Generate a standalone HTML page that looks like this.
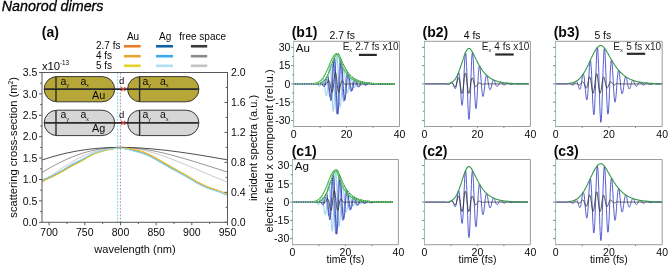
<!DOCTYPE html>
<html><head><meta charset="utf-8"><style>
html,body{margin:0;padding:0;background:#fff;}
svg{display:block;will-change:transform;filter:blur(0.3px);}
text{font-family:"Liberation Sans",sans-serif;}
</style></head><body>
<svg xmlns="http://www.w3.org/2000/svg" width="669" height="269" viewBox="0 0 669 269">
<rect width="669" height="269" fill="#fff"/>
<text x="1.80" y="11.20" font-size="14.3" text-anchor="start" font-style="italic" fill="#000" stroke="#000" stroke-width="0.3">Nanorod dimers</text>
<text x="41.80" y="37.30" font-size="14" text-anchor="start" font-weight="bold" fill="#0a0a0a" >(a)</text>
<text x="133.00" y="40.00" font-size="10" text-anchor="middle" fill="#0a0a0a" >Au</text>
<text x="165.20" y="40.00" font-size="10" text-anchor="middle" fill="#0a0a0a" >Ag</text>
<text x="202.70" y="40.00" font-size="10" text-anchor="middle" fill="#0a0a0a" >free space</text>
<text x="96.00" y="49.45" font-size="10" text-anchor="start" fill="#0a0a0a" >2.7 fs</text>
<line x1="123.90" y1="46.25" x2="140.60" y2="46.25" stroke="#ea7a26" stroke-width="2.6" />
<line x1="156.00" y1="46.25" x2="173.00" y2="46.25" stroke="#0e5fa5" stroke-width="2.6" />
<line x1="190.90" y1="46.25" x2="207.20" y2="46.25" stroke="#3a3a3a" stroke-width="2.6" />
<text x="96.00" y="59.40" font-size="10" text-anchor="start" fill="#0a0a0a" >4 fs</text>
<line x1="123.90" y1="56.20" x2="140.60" y2="56.20" stroke="#e8a431" stroke-width="2.6" />
<line x1="156.00" y1="56.20" x2="173.00" y2="56.20" stroke="#3aa9ee" stroke-width="2.6" />
<line x1="190.90" y1="56.20" x2="207.20" y2="56.20" stroke="#8a8a8a" stroke-width="2.6" />
<text x="96.00" y="69.00" font-size="10" text-anchor="start" fill="#0a0a0a" >5 fs</text>
<line x1="123.90" y1="65.80" x2="140.60" y2="65.80" stroke="#e4d22c" stroke-width="2.6" />
<line x1="156.00" y1="65.80" x2="173.00" y2="65.80" stroke="#aedff5" stroke-width="2.6" />
<line x1="190.90" y1="65.80" x2="207.20" y2="65.80" stroke="#c4c4c4" stroke-width="2.6" />
<text transform="translate(41.90,70.20) scale(1.1,1)" font-size="10.3" text-anchor="start" fill="#0a0a0a" >x10</text>
<text x="60.00" y="64.90" font-size="6.3" text-anchor="start" fill="#0a0a0a" >-13</text>
<path d="M42.0,182.6 43.0,181.9 44.0,181.2 45.0,180.4 46.0,179.7 47.0,178.9 48.0,178.2 49.0,177.5 50.0,176.7 51.0,176.0 52.0,175.3 53.0,174.5 54.0,173.8 55.0,173.1 56.0,172.4 57.0,171.7 58.0,171.0 59.0,170.3 60.0,169.6 61.0,168.9 62.0,168.2 63.0,167.6 64.0,166.9 65.0,166.3 66.0,165.6 67.0,165.0 68.0,164.4 69.0,163.7 70.0,163.1 71.0,162.5 72.0,161.9 73.0,161.3 74.0,160.8 75.0,160.2 76.0,159.7 77.0,159.1 78.0,158.6 79.0,158.1 80.0,157.6 81.0,157.1 82.0,156.6 83.0,156.1 84.0,155.6 85.0,155.2 86.0,154.8 87.0,154.3 88.0,153.9 89.0,153.5 90.0,153.1 91.0,152.8 92.0,152.4 93.0,152.0 94.0,151.7 95.0,151.4 96.0,151.1 97.0,150.8 98.0,150.5 99.0,150.2 100.0,150.0 101.0,149.7 102.0,149.5 103.0,149.2 104.0,149.0 105.0,148.8 106.0,148.7 107.0,148.5 108.0,148.3 109.0,148.2 110.0,148.1 111.0,147.9 112.0,147.8 113.0,147.7 114.0,147.6 115.0,147.6 116.0,147.5 117.0,147.5 118.0,147.4 119.0,147.4 120.0,147.4 121.0,147.4 122.0,147.4 123.0,147.4 124.0,147.5 125.0,147.5 126.0,147.6 127.0,147.6 128.0,147.7 129.0,147.8 130.0,147.9 131.0,148.0 132.0,148.1 133.0,148.3 134.0,148.4 135.0,148.5 136.0,148.7 137.0,148.9 138.0,149.0 139.0,149.2 140.0,149.4 141.0,149.6 142.0,149.8 143.0,150.1 144.0,150.3 145.0,150.5 146.0,150.8 147.0,151.0 148.0,151.3 149.0,151.5 150.0,151.8 151.0,152.1 152.0,152.4 153.0,152.7 154.0,153.0 155.0,153.3 156.0,153.6 157.0,153.9 158.0,154.2 159.0,154.5 160.0,154.9 161.0,155.2 162.0,155.5 163.0,155.9 164.0,156.2 165.0,156.6 166.0,157.0 167.0,157.3 168.0,157.7 169.0,158.1 170.0,158.4 171.0,158.8 172.0,159.2 173.0,159.6 174.0,160.0 175.0,160.4 176.0,160.8 177.0,161.2 178.0,161.6 179.0,162.0 180.0,162.4 181.0,162.8 182.0,163.2 183.0,163.6 184.0,164.0 185.0,164.4 186.0,164.9 187.0,165.3 188.0,165.7 189.0,166.1 190.0,166.5 191.0,167.0 192.0,167.4 193.0,167.8 194.0,168.2 195.0,168.7 196.0,169.1 197.0,169.5 198.0,169.9 199.0,170.4 200.0,170.8 201.0,171.2 202.0,171.6 203.0,172.1 204.0,172.5 205.0,172.9 206.0,173.3 207.0,173.8 208.0,174.2 209.0,174.6 210.0,175.0 211.0,175.4 212.0,175.9 213.0,176.3 214.0,176.7 215.0,177.1 216.0,177.5 217.0,177.9 218.0,178.3 219.0,178.8 220.0,179.2 221.0,179.6 222.0,180.0 223.0,180.4 224.0,180.8 225.0,181.2 226.0,181.6 227.0,182.0" fill="none" stroke="#c4c4c4" stroke-width="0.9" stroke-linejoin="round" />
<path d="M42.0,172.4 43.0,171.8 44.0,171.3 45.0,170.7 46.0,170.1 47.0,169.5 48.0,168.9 49.0,168.4 50.0,167.8 51.0,167.2 52.0,166.7 53.0,166.1 54.0,165.6 55.0,165.1 56.0,164.5 57.0,164.0 58.0,163.5 59.0,163.0 60.0,162.5 61.0,162.0 62.0,161.5 63.0,161.0 64.0,160.6 65.0,160.1 66.0,159.6 67.0,159.2 68.0,158.7 69.0,158.3 70.0,157.9 71.0,157.5 72.0,157.1 73.0,156.7 74.0,156.3 75.0,155.9 76.0,155.5 77.0,155.1 78.0,154.8 79.0,154.4 80.0,154.1 81.0,153.7 82.0,153.4 83.0,153.1 84.0,152.8 85.0,152.5 86.0,152.2 87.0,151.9 88.0,151.6 89.0,151.4 90.0,151.1 91.0,150.9 92.0,150.6 93.0,150.4 94.0,150.2 95.0,150.0 96.0,149.8 97.0,149.6 98.0,149.4 99.0,149.2 100.0,149.0 101.0,148.9 102.0,148.7 103.0,148.6 104.0,148.5 105.0,148.3 106.0,148.2 107.0,148.1 108.0,148.0 109.0,147.9 110.0,147.8 111.0,147.7 112.0,147.7 113.0,147.6 114.0,147.6 115.0,147.5 116.0,147.5 117.0,147.4 118.0,147.4 119.0,147.4 120.0,147.4 121.0,147.4 122.0,147.4 123.0,147.4 124.0,147.4 125.0,147.5 126.0,147.5 127.0,147.6 128.0,147.6 129.0,147.7 130.0,147.7 131.0,147.8 132.0,147.9 133.0,148.0 134.0,148.0 135.0,148.1 136.0,148.2 137.0,148.3 138.0,148.5 139.0,148.6 140.0,148.7 141.0,148.8 142.0,149.0 143.0,149.1 144.0,149.3 145.0,149.4 146.0,149.6 147.0,149.7 148.0,149.9 149.0,150.1 150.0,150.2 151.0,150.4 152.0,150.6 153.0,150.8 154.0,151.0 155.0,151.2 156.0,151.4 157.0,151.6 158.0,151.8 159.0,152.0 160.0,152.3 161.0,152.5 162.0,152.7 163.0,152.9 164.0,153.2 165.0,153.4 166.0,153.7 167.0,153.9 168.0,154.2 169.0,154.4 170.0,154.7 171.0,154.9 172.0,155.2 173.0,155.5 174.0,155.7 175.0,156.0 176.0,156.3 177.0,156.5 178.0,156.8 179.0,157.1 180.0,157.4 181.0,157.7 182.0,157.9 183.0,158.2 184.0,158.5 185.0,158.8 186.0,159.1 187.0,159.4 188.0,159.7 189.0,160.0 190.0,160.3 191.0,160.6 192.0,160.9 193.0,161.2 194.0,161.5 195.0,161.8 196.0,162.1 197.0,162.4 198.0,162.7 199.0,163.0 200.0,163.4 201.0,163.7 202.0,164.0 203.0,164.3 204.0,164.6 205.0,164.9 206.0,165.2 207.0,165.6 208.0,165.9 209.0,166.2 210.0,166.5 211.0,166.8 212.0,167.1 213.0,167.5 214.0,167.8 215.0,168.1 216.0,168.4 217.0,168.7 218.0,169.0 219.0,169.4 220.0,169.7 221.0,170.0 222.0,170.3 223.0,170.6 224.0,171.0 225.0,171.3 226.0,171.6 227.0,171.9" fill="none" stroke="#8a8a8a" stroke-width="0.9" stroke-linejoin="round" />
<path d="M42.0,160.1 43.0,159.7 44.0,159.4 45.0,159.1 46.0,158.8 47.0,158.4 48.0,158.1 49.0,157.8 50.0,157.5 51.0,157.2 52.0,156.9 53.0,156.6 54.0,156.3 55.0,156.0 56.0,155.8 57.0,155.5 58.0,155.2 59.0,155.0 60.0,154.7 61.0,154.4 62.0,154.2 63.0,154.0 64.0,153.7 65.0,153.5 66.0,153.2 67.0,153.0 68.0,152.8 69.0,152.6 70.0,152.4 71.0,152.2 72.0,152.0 73.0,151.8 74.0,151.6 75.0,151.4 76.0,151.2 77.0,151.0 78.0,150.9 79.0,150.7 80.0,150.5 81.0,150.4 82.0,150.2 83.0,150.1 84.0,149.9 85.0,149.8 86.0,149.6 87.0,149.5 88.0,149.4 89.0,149.2 90.0,149.1 91.0,149.0 92.0,148.9 93.0,148.8 94.0,148.7 95.0,148.6 96.0,148.5 97.0,148.4 98.0,148.3 99.0,148.2 100.0,148.2 101.0,148.1 102.0,148.0 103.0,147.9 104.0,147.9 105.0,147.8 106.0,147.8 107.0,147.7 108.0,147.7 109.0,147.6 110.0,147.6 111.0,147.6 112.0,147.5 113.0,147.5 114.0,147.5 115.0,147.5 116.0,147.4 117.0,147.4 118.0,147.4 119.0,147.4 120.0,147.4 121.0,147.4 122.0,147.4 123.0,147.4 124.0,147.4 125.0,147.4 126.0,147.5 127.0,147.5 128.0,147.5 129.0,147.5 130.0,147.5 131.0,147.6 132.0,147.6 133.0,147.7 134.0,147.7 135.0,147.7 136.0,147.8 137.0,147.8 138.0,147.9 139.0,147.9 140.0,148.0 141.0,148.1 142.0,148.1 143.0,148.2 144.0,148.3 145.0,148.3 146.0,148.4 147.0,148.5 148.0,148.5 149.0,148.6 150.0,148.7 151.0,148.8 152.0,148.9 153.0,149.0 154.0,149.1 155.0,149.2 156.0,149.3 157.0,149.4 158.0,149.5 159.0,149.6 160.0,149.7 161.0,149.8 162.0,149.9 163.0,150.0 164.0,150.1 165.0,150.2 166.0,150.3 167.0,150.4 168.0,150.6 169.0,150.7 170.0,150.8 171.0,150.9 172.0,151.1 173.0,151.2 174.0,151.3 175.0,151.4 176.0,151.6 177.0,151.7 178.0,151.8 179.0,152.0 180.0,152.1 181.0,152.3 182.0,152.4 183.0,152.5 184.0,152.7 185.0,152.8 186.0,153.0 187.0,153.1 188.0,153.3 189.0,153.4 190.0,153.6 191.0,153.7 192.0,153.9 193.0,154.0 194.0,154.2 195.0,154.3 196.0,154.5 197.0,154.7 198.0,154.8 199.0,155.0 200.0,155.1 201.0,155.3 202.0,155.5 203.0,155.6 204.0,155.8 205.0,156.0 206.0,156.1 207.0,156.3 208.0,156.5 209.0,156.6 210.0,156.8 211.0,157.0 212.0,157.1 213.0,157.3 214.0,157.5 215.0,157.7 216.0,157.8 217.0,158.0 218.0,158.2 219.0,158.4 220.0,158.5 221.0,158.7 222.0,158.9 223.0,159.1 224.0,159.2 225.0,159.4 226.0,159.6 227.0,159.8" fill="none" stroke="#3a3a3a" stroke-width="0.9" stroke-linejoin="round" />
<path d="M42.0,180.9 43.0,180.6 44.0,180.2 45.0,179.7 46.0,179.3 47.0,178.9 48.0,178.5 49.0,178.0 50.0,177.6 51.0,177.1 52.0,176.7 53.0,176.2 54.0,175.7 55.0,175.2 56.0,174.7 57.0,174.2 58.0,173.7 59.0,173.2 60.0,172.6 61.0,172.1 62.0,171.6 63.0,171.0 64.0,170.4 65.0,169.8 66.0,169.3 67.0,168.7 68.0,168.1 69.0,167.5 70.0,166.9 71.0,166.3 72.0,165.8 73.0,165.2 74.0,164.7 75.0,164.2 76.0,163.7 77.0,163.2 78.0,162.6 79.0,162.1 80.0,161.6 81.0,161.1 82.0,160.6 83.0,160.0 84.0,159.4 85.0,158.8 86.0,158.2 87.0,157.5 88.0,156.9 89.0,156.3 90.0,155.8 91.0,155.2 92.0,154.8 93.0,154.3 94.0,153.9 95.0,153.5 96.0,153.1 97.0,152.7 98.0,152.3 99.0,152.0 100.0,151.7 101.0,151.3 102.0,151.1 103.0,150.8 104.0,150.5 105.0,150.2 106.0,150.0 107.0,149.8 108.0,149.5 109.0,149.3 110.0,149.1 111.0,148.9 112.0,148.8 113.0,148.6 114.0,148.4 115.0,148.2 116.0,148.1 117.0,148.0 118.0,147.9 119.0,148.0 120.0,148.0 121.0,148.0 122.0,148.0 123.0,148.0 124.0,148.0 125.0,148.1 126.0,148.1 127.0,148.2 128.0,148.3 129.0,148.4 130.0,148.6 131.0,148.8 132.0,148.9 133.0,149.1 134.0,149.3 135.0,149.6 136.0,149.8 137.0,150.1 138.0,150.3 139.0,150.6 140.0,150.9 141.0,151.2 142.0,151.6 143.0,151.9 144.0,152.2 145.0,152.6 146.0,153.0 147.0,153.4 148.0,153.9 149.0,154.3 150.0,154.8 151.0,155.2 152.0,155.7 153.0,156.3 154.0,156.8 155.0,157.4 156.0,157.9 157.0,158.5 158.0,159.1 159.0,159.7 160.0,160.2 161.0,160.8 162.0,161.4 163.0,161.9 164.0,162.5 165.0,163.1 166.0,163.7 167.0,164.2 168.0,164.8 169.0,165.4 170.0,165.9 171.0,166.5 172.0,167.1 173.0,167.7 174.0,168.2 175.0,168.8 176.0,169.4 177.0,169.9 178.0,170.5 179.0,171.1 180.0,171.7 181.0,172.2 182.0,172.8 183.0,173.3 184.0,173.9 185.0,174.4 186.0,175.0 187.0,175.5 188.0,176.1 189.0,176.7 190.0,177.2 191.0,177.8 192.0,178.5 193.0,179.1 194.0,179.7 195.0,180.3 196.0,180.9 197.0,181.5 198.0,182.1 199.0,182.6 200.0,183.1 201.0,183.6 202.0,184.1 203.0,184.6 204.0,185.1 205.0,185.5 206.0,186.0 207.0,186.4 208.0,186.8 209.0,187.2 210.0,187.6 211.0,188.0 212.0,188.3 213.0,188.7 214.0,189.0 215.0,189.3 216.0,189.6 217.0,190.0 218.0,190.3 219.0,190.7 220.0,191.1 221.0,191.5 222.0,191.9 223.0,192.4 224.0,192.8 225.0,193.2 226.0,193.7 227.0,194.1" fill="none" stroke="#ea7a26" stroke-width="0.8" stroke-linejoin="round" />
<path d="M42.0,181.3 43.0,180.9 44.0,180.5 45.0,180.1 46.0,179.7 47.0,179.2 48.0,178.8 49.0,178.4 50.0,177.9 51.0,177.5 52.0,177.0 53.0,176.5 54.0,176.0 55.0,175.6 56.0,175.1 57.0,174.5 58.0,174.0 59.0,173.5 60.0,173.0 61.0,172.4 62.0,171.9 63.0,171.3 64.0,170.8 65.0,170.2 66.0,169.6 67.0,169.0 68.0,168.4 69.0,167.8 70.0,167.2 71.0,166.7 72.0,166.1 73.0,165.6 74.0,165.0 75.0,164.5 76.0,164.0 77.0,163.5 78.0,163.0 79.0,162.5 80.0,162.0 81.0,161.4 82.0,160.9 83.0,160.3 84.0,159.7 85.0,159.1 86.0,158.5 87.0,157.9 88.0,157.3 89.0,156.7 90.0,156.1 91.0,155.6 92.0,155.1 93.0,154.7 94.0,154.2 95.0,153.8 96.0,153.4 97.0,153.0 98.0,152.7 99.0,152.3 100.0,152.0 101.0,151.7 102.0,151.4 103.0,151.1 104.0,150.9 105.0,150.6 106.0,150.3 107.0,150.1 108.0,149.9 109.0,149.7 110.0,149.5 111.0,149.3 112.0,149.1 113.0,148.9 114.0,148.7 115.0,148.6 116.0,148.4 117.0,148.3 118.0,148.3 119.0,148.3 120.0,148.3 121.0,148.3 122.0,148.3 123.0,148.4 124.0,148.4 125.0,148.4 126.0,148.4 127.0,148.5 128.0,148.7 129.0,148.8 130.0,149.0 131.0,149.1 132.0,149.3 133.0,149.5 134.0,149.7 135.0,149.9 136.0,150.2 137.0,150.4 138.0,150.7 139.0,151.0 140.0,151.3 141.0,151.6 142.0,151.9 143.0,152.2 144.0,152.6 145.0,153.0 146.0,153.4 147.0,153.8 148.0,154.2 149.0,154.7 150.0,155.1 151.0,155.6 152.0,156.1 153.0,156.6 154.0,157.2 155.0,157.7 156.0,158.3 157.0,158.9 158.0,159.5 159.0,160.0 160.0,160.6 161.0,161.2 162.0,161.7 163.0,162.3 164.0,162.9 165.0,163.4 166.0,164.0 167.0,164.6 168.0,165.2 169.0,165.7 170.0,166.3 171.0,166.9 172.0,167.4 173.0,168.0 174.0,168.6 175.0,169.2 176.0,169.7 177.0,170.3 178.0,170.9 179.0,171.4 180.0,172.0 181.0,172.6 182.0,173.1 183.0,173.7 184.0,174.2 185.0,174.8 186.0,175.3 187.0,175.9 188.0,176.5 189.0,177.0 190.0,177.6 191.0,178.2 192.0,178.8 193.0,179.4 194.0,180.0 195.0,180.7 196.0,181.3 197.0,181.8 198.0,182.4 199.0,182.9 200.0,183.4 201.0,184.0 202.0,184.5 203.0,184.9 204.0,185.4 205.0,185.9 206.0,186.3 207.0,186.8 208.0,187.2 209.0,187.6 210.0,188.0 211.0,188.3 212.0,188.7 213.0,189.0 214.0,189.3 215.0,189.7 216.0,190.0 217.0,190.3 218.0,190.7 219.0,191.1 220.0,191.5 221.0,191.9 222.0,192.3 223.0,192.7 224.0,193.1 225.0,193.6 226.0,194.0 227.0,194.5" fill="none" stroke="#e8a431" stroke-width="0.8" stroke-linejoin="round" />
<path d="M42.0,180.2 43.0,179.8 44.0,179.4 45.0,179.0 46.0,178.6 47.0,178.1 48.0,177.7 49.0,177.2 50.0,176.8 51.0,176.3 52.0,175.8 53.0,175.4 54.0,174.9 55.0,174.4 56.0,173.9 57.0,173.4 58.0,172.9 59.0,172.4 60.0,171.8 61.0,171.3 62.0,170.8 63.0,170.2 64.0,169.6 65.0,169.0 66.0,168.3 67.0,167.7 68.0,167.1 69.0,166.4 70.0,165.8 71.0,165.2 72.0,164.7 73.0,164.1 74.0,163.6 75.0,163.1 76.0,162.7 77.0,162.2 78.0,161.7 79.0,161.2 80.0,160.7 81.0,160.3 82.0,159.8 83.0,159.2 84.0,158.7 85.0,158.1 86.0,157.5 87.0,156.9 88.0,156.3 89.0,155.8 90.0,155.2 91.0,154.8 92.0,154.3 93.0,153.9 94.0,153.5 95.0,153.1 96.0,152.7 97.0,152.3 98.0,152.0 99.0,151.7 100.0,151.4 101.0,151.1 102.0,150.8 103.0,150.6 104.0,150.3 105.0,150.1 106.0,149.9 107.0,149.6 108.0,149.4 109.0,149.3 110.0,149.1 111.0,148.9 112.0,148.8 113.0,148.7 114.0,148.5 115.0,148.4 116.0,148.3 117.0,148.2 118.0,148.2 119.0,148.2 120.0,148.2 121.0,148.3 122.0,148.4 123.0,148.5 124.0,148.6 125.0,148.7 126.0,148.8 127.0,149.0 128.0,149.2 129.0,149.4 130.0,149.7 131.0,149.9 132.0,150.2 133.0,150.4 134.0,150.7 135.0,150.9 136.0,151.2 137.0,151.4 138.0,151.7 139.0,152.0 140.0,152.3 141.0,152.6 142.0,152.9 143.0,153.3 144.0,153.6 145.0,154.0 146.0,154.4 147.0,154.9 148.0,155.3 149.0,155.7 150.0,156.2 151.0,156.7 152.0,157.2 153.0,157.7 154.0,158.3 155.0,158.8 156.0,159.4 157.0,160.0 158.0,160.6 159.0,161.2 160.0,161.8 161.0,162.3 162.0,162.9 163.0,163.5 164.0,164.0 165.0,164.6 166.0,165.2 167.0,165.8 168.0,166.3 169.0,166.9 170.0,167.5 171.0,168.0 172.0,168.6 173.0,169.1 174.0,169.7 175.0,170.2 176.0,170.8 177.0,171.3 178.0,171.8 179.0,172.4 180.0,172.9 181.0,173.5 182.0,174.1 183.0,174.6 184.0,175.2 185.0,175.7 186.0,176.3 187.0,176.8 188.0,177.4 189.0,178.0 190.0,178.6 191.0,179.1 192.0,179.8 193.0,180.4 194.0,181.0 195.0,181.6 196.0,182.2 197.0,182.8 198.0,183.3 199.0,183.9 200.0,184.4 201.0,184.9 202.0,185.4 203.0,185.8 204.0,186.3 205.0,186.8 206.0,187.2 207.0,187.6 208.0,188.0 209.0,188.4 210.0,188.8 211.0,189.1 212.0,189.4 213.0,189.7 214.0,190.0 215.0,190.3 216.0,190.6 217.0,191.0 218.0,191.3 219.0,191.7 220.0,192.1 221.0,192.4 222.0,192.9 223.0,193.3 224.0,193.7 225.0,194.2 226.0,194.6 227.0,195.1" fill="none" stroke="#0e5fa5" stroke-width="0.8" stroke-linejoin="round" />
<path d="M42.0,180.0 43.0,179.6 44.0,179.2 45.0,178.8 46.0,178.3 47.0,177.9 48.0,177.5 49.0,177.0 50.0,176.6 51.0,176.1 52.0,175.6 53.0,175.2 54.0,174.7 55.0,174.2 56.0,173.7 57.0,173.2 58.0,172.7 59.0,172.1 60.0,171.6 61.0,171.1 62.0,170.5 63.0,170.0 64.0,169.3 65.0,168.7 66.0,168.1 67.0,167.4 68.0,166.8 69.0,166.2 70.0,165.5 71.0,164.9 72.0,164.4 73.0,163.9 74.0,163.3 75.0,162.9 76.0,162.4 77.0,161.9 78.0,161.4 79.0,161.0 80.0,160.5 81.0,160.0 82.0,159.5 83.0,159.0 84.0,158.4 85.0,157.9 86.0,157.3 87.0,156.7 88.0,156.2 89.0,155.6 90.0,155.1 91.0,154.6 92.0,154.2 93.0,153.7 94.0,153.3 95.0,152.9 96.0,152.6 97.0,152.2 98.0,151.9 99.0,151.6 100.0,151.2 101.0,151.0 102.0,150.7 103.0,150.5 104.0,150.2 105.0,150.0 106.0,149.8 107.0,149.6 108.0,149.4 109.0,149.2 110.0,149.0 111.0,148.9 112.0,148.7 113.0,148.6 114.0,148.5 115.0,148.4 116.0,148.3 117.0,148.2 118.0,148.2 119.0,148.2 120.0,148.3 121.0,148.3 122.0,148.4 123.0,148.5 124.0,148.6 125.0,148.7 126.0,148.9 127.0,149.1 128.0,149.3 129.0,149.6 130.0,149.8 131.0,150.1 132.0,150.4 133.0,150.6 134.0,150.9 135.0,151.2 136.0,151.4 137.0,151.7 138.0,151.9 139.0,152.2 140.0,152.5 141.0,152.8 142.0,153.2 143.0,153.5 144.0,153.9 145.0,154.3 146.0,154.7 147.0,155.1 148.0,155.5 149.0,156.0 150.0,156.5 151.0,156.9 152.0,157.4 153.0,158.0 154.0,158.5 155.0,159.1 156.0,159.7 157.0,160.3 158.0,160.9 159.0,161.5 160.0,162.0 161.0,162.6 162.0,163.2 163.0,163.7 164.0,164.3 165.0,164.9 166.0,165.5 167.0,166.0 168.0,166.6 169.0,167.2 170.0,167.7 171.0,168.3 172.0,168.8 173.0,169.4 174.0,169.9 175.0,170.5 176.0,171.0 177.0,171.5 178.0,172.1 179.0,172.6 180.0,173.2 181.0,173.7 182.0,174.3 183.0,174.8 184.0,175.4 185.0,175.9 186.0,176.5 187.0,177.1 188.0,177.6 189.0,178.2 190.0,178.8 191.0,179.4 192.0,180.0 193.0,180.6 194.0,181.2 195.0,181.9 196.0,182.5 197.0,183.0 198.0,183.6 199.0,184.1 200.0,184.6 201.0,185.1 202.0,185.6 203.0,186.1 204.0,186.5 205.0,187.0 206.0,187.4 207.0,187.8 208.0,188.2 209.0,188.6 210.0,189.0 211.0,189.3 212.0,189.6 213.0,189.9 214.0,190.2 215.0,190.5 216.0,190.8 217.0,191.1 218.0,191.4 219.0,191.8 220.0,192.2 221.0,192.6 222.0,193.0 223.0,193.4 224.0,193.9 225.0,194.3 226.0,194.7 227.0,195.2" fill="none" stroke="#3aa9ee" stroke-width="0.8" stroke-linejoin="round" />
<path d="M42.0,181.2 43.0,180.8 44.0,180.4 45.0,180.0 46.0,179.6 47.0,179.1 48.0,178.7 49.0,178.3 50.0,177.8 51.0,177.4 52.0,176.9 53.0,176.4 54.0,175.9 55.0,175.5 56.0,175.0 57.0,174.4 58.0,173.9 59.0,173.4 60.0,172.9 61.0,172.3 62.0,171.8 63.0,171.2 64.0,170.7 65.0,170.1 66.0,169.5 67.0,168.9 68.0,168.3 69.0,167.7 70.0,167.1 71.0,166.6 72.0,166.0 73.0,165.5 74.0,164.9 75.0,164.4 76.0,163.9 77.0,163.4 78.0,162.9 79.0,162.4 80.0,161.9 81.0,161.3 82.0,160.8 83.0,160.2 84.0,159.6 85.0,159.0 86.0,158.4 87.0,157.8 88.0,157.2 89.0,156.6 90.0,156.0 91.0,155.5 92.0,155.0 93.0,154.6 94.0,154.1 95.0,153.7 96.0,153.3 97.0,152.9 98.0,152.6 99.0,152.2 100.0,151.9 101.0,151.6 102.0,151.3 103.0,151.0 104.0,150.8 105.0,150.5 106.0,150.2 107.0,150.0 108.0,149.8 109.0,149.6 110.0,149.4 111.0,149.2 112.0,149.0 113.0,148.8 114.0,148.6 115.0,148.5 116.0,148.3 117.0,148.2 118.0,148.2 119.0,148.2 120.0,148.2 121.0,148.2 122.0,148.2 123.0,148.3 124.0,148.3 125.0,148.3 126.0,148.3 127.0,148.4 128.0,148.6 129.0,148.7 130.0,148.9 131.0,149.0 132.0,149.2 133.0,149.4 134.0,149.6 135.0,149.8 136.0,150.1 137.0,150.3 138.0,150.6 139.0,150.9 140.0,151.2 141.0,151.5 142.0,151.8 143.0,152.1 144.0,152.5 145.0,152.9 146.0,153.3 147.0,153.7 148.0,154.1 149.0,154.6 150.0,155.0 151.0,155.5 152.0,156.0 153.0,156.5 154.0,157.1 155.0,157.6 156.0,158.2 157.0,158.8 158.0,159.4 159.0,159.9 160.0,160.5 161.0,161.1 162.0,161.6 163.0,162.2 164.0,162.8 165.0,163.3 166.0,163.9 167.0,164.5 168.0,165.1 169.0,165.6 170.0,166.2 171.0,166.8 172.0,167.3 173.0,167.9 174.0,168.5 175.0,169.1 176.0,169.6 177.0,170.2 178.0,170.8 179.0,171.3 180.0,171.9 181.0,172.5 182.0,173.0 183.0,173.6 184.0,174.1 185.0,174.7 186.0,175.2 187.0,175.8 188.0,176.4 189.0,176.9 190.0,177.5 191.0,178.1 192.0,178.7 193.0,179.3 194.0,179.9 195.0,180.6 196.0,181.2 197.0,181.7 198.0,182.3 199.0,182.8 200.0,183.3 201.0,183.9 202.0,184.4 203.0,184.8 204.0,185.3 205.0,185.8 206.0,186.2 207.0,186.7 208.0,187.1 209.0,187.5 210.0,187.9 211.0,188.2 212.0,188.6 213.0,188.9 214.0,189.2 215.0,189.6 216.0,189.9 217.0,190.2 218.0,190.6 219.0,191.0 220.0,191.4 221.0,191.8 222.0,192.2 223.0,192.6 224.0,193.0 225.0,193.5 226.0,193.9 227.0,194.4" fill="none" stroke="#e2d32a" stroke-width="1.0" stroke-linejoin="round" />
<path d="M42.0,179.8 43.0,179.4 44.0,179.0 45.0,178.6 46.0,178.1 47.0,177.7 48.0,177.2 49.0,176.8 50.0,176.3 51.0,175.9 52.0,175.4 53.0,174.9 54.0,174.4 55.0,174.0 56.0,173.5 57.0,173.0 58.0,172.4 59.0,171.9 60.0,171.4 61.0,170.9 62.0,170.3 63.0,169.7 64.0,169.1 65.0,168.5 66.0,167.8 67.0,167.2 68.0,166.5 69.0,165.9 70.0,165.3 71.0,164.7 72.0,164.1 73.0,163.6 74.0,163.1 75.0,162.6 76.0,162.1 77.0,161.7 78.0,161.2 79.0,160.7 80.0,160.3 81.0,159.8 82.0,159.3 83.0,158.8 84.0,158.2 85.0,157.7 86.0,157.1 87.0,156.5 88.0,156.0 89.0,155.4 90.0,154.9 91.0,154.4 92.0,154.0 93.0,153.6 94.0,153.2 95.0,152.8 96.0,152.4 97.0,152.1 98.0,151.8 99.0,151.4 100.0,151.1 101.0,150.9 102.0,150.6 103.0,150.4 104.0,150.1 105.0,149.9 106.0,149.7 107.0,149.5 108.0,149.3 109.0,149.1 110.0,149.0 111.0,148.8 112.0,148.7 113.0,148.6 114.0,148.5 115.0,148.4 116.0,148.3 117.0,148.2 118.0,148.2 119.0,148.2 120.0,148.3 121.0,148.3 122.0,148.4 123.0,148.5 124.0,148.7 125.0,148.8 126.0,149.0 127.0,149.2 128.0,149.4 129.0,149.7 130.0,150.0 131.0,150.3 132.0,150.6 133.0,150.9 134.0,151.1 135.0,151.4 136.0,151.6 137.0,151.9 138.0,152.2 139.0,152.5 140.0,152.8 141.0,153.1 142.0,153.4 143.0,153.7 144.0,154.1 145.0,154.5 146.0,154.9 147.0,155.4 148.0,155.8 149.0,156.3 150.0,156.7 151.0,157.2 152.0,157.7 153.0,158.2 154.0,158.8 155.0,159.4 156.0,159.9 157.0,160.5 158.0,161.1 159.0,161.7 160.0,162.3 161.0,162.9 162.0,163.4 163.0,164.0 164.0,164.6 165.0,165.2 166.0,165.7 167.0,166.3 168.0,166.9 169.0,167.4 170.0,168.0 171.0,168.6 172.0,169.1 173.0,169.6 174.0,170.2 175.0,170.7 176.0,171.2 177.0,171.8 178.0,172.3 179.0,172.9 180.0,173.4 181.0,173.9 182.0,174.5 183.0,175.1 184.0,175.6 185.0,176.2 186.0,176.7 187.0,177.3 188.0,177.9 189.0,178.4 190.0,179.0 191.0,179.6 192.0,180.2 193.0,180.8 194.0,181.5 195.0,182.1 196.0,182.7 197.0,183.3 198.0,183.8 199.0,184.3 200.0,184.8 201.0,185.3 202.0,185.8 203.0,186.3 204.0,186.7 205.0,187.2 206.0,187.6 207.0,188.0 208.0,188.4 209.0,188.8 210.0,189.2 211.0,189.5 212.0,189.8 213.0,190.1 214.0,190.4 215.0,190.6 216.0,190.9 217.0,191.3 218.0,191.6 219.0,192.0 220.0,192.3 221.0,192.7 222.0,193.1 223.0,193.6 224.0,194.0 225.0,194.4 226.0,194.9 227.0,195.4" fill="none" stroke="#a6daf2" stroke-width="1.0" stroke-linejoin="round" />
<line x1="117.60" y1="72.50" x2="117.60" y2="222.30" stroke="#5cc0dc" stroke-width="0.8" stroke-dasharray="1.95,1.35"/>
<line x1="120.40" y1="72.50" x2="120.40" y2="222.30" stroke="#8a8a8a" stroke-width="0.8" stroke-dasharray="1.95,1.35"/>
<rect x="44.20" y="76.60" width="70.50" height="25.20" rx="12.60" ry="12.60" fill="#b7a638" stroke="#3a3a3a" stroke-width="1"/>
<rect x="127.60" y="76.60" width="71.30" height="25.20" rx="12.60" ry="12.60" fill="#b7a638" stroke="#3a3a3a" stroke-width="1"/>
<line x1="44.20" y1="89.20" x2="198.70" y2="89.20" stroke="#2b2b2b" stroke-width="1.8" />
<line x1="56.00" y1="76.60" x2="56.00" y2="101.80" stroke="#2b2b2b" stroke-width="1.4" />
<line x1="139.60" y1="76.60" x2="139.60" y2="101.80" stroke="#2b2b2b" stroke-width="1.4" />
<text x="60.60" y="84.70" font-size="10.5" text-anchor="start" fill="#0a0a0a" >a</text>
<text x="66.40" y="86.90" font-size="5" text-anchor="start" fill="#0a0a0a" >y</text>
<text x="142.50" y="84.70" font-size="10.5" text-anchor="start" fill="#0a0a0a" >a</text>
<text x="148.30" y="86.90" font-size="5" text-anchor="start" fill="#0a0a0a" >y</text>
<text x="80.40" y="84.70" font-size="10.5" text-anchor="start" fill="#0a0a0a" >a</text>
<text x="86.20" y="86.90" font-size="5" text-anchor="start" fill="#0a0a0a" >x</text>
<text x="160.10" y="84.70" font-size="10.5" text-anchor="start" fill="#0a0a0a" >a</text>
<text x="165.90" y="86.90" font-size="5" text-anchor="start" fill="#0a0a0a" >x</text>
<text x="92.00" y="98.60" font-size="10.8" text-anchor="start" fill="#0a0a0a" >Au</text>
<text x="121.60" y="83.90" font-size="9.5" text-anchor="middle" fill="#0a0a0a" >d</text>
<line x1="121.20" y1="87.20" x2="125.20" y2="91.20" stroke="#e23b3b" stroke-width="1.1" />
<line x1="121.20" y1="91.20" x2="125.20" y2="87.20" stroke="#e23b3b" stroke-width="1.1" />
<rect x="44.20" y="110.20" width="70.50" height="25.40" rx="12.70" ry="12.70" fill="#d6d6d6" stroke="#3a3a3a" stroke-width="1"/>
<rect x="127.60" y="110.20" width="71.30" height="25.40" rx="12.70" ry="12.70" fill="#d6d6d6" stroke="#3a3a3a" stroke-width="1"/>
<line x1="44.20" y1="122.90" x2="198.70" y2="122.90" stroke="#2b2b2b" stroke-width="1.8" />
<line x1="56.00" y1="110.20" x2="56.00" y2="135.60" stroke="#2b2b2b" stroke-width="1.4" />
<line x1="139.60" y1="110.20" x2="139.60" y2="135.60" stroke="#2b2b2b" stroke-width="1.4" />
<text x="60.60" y="118.30" font-size="10.5" text-anchor="start" fill="#0a0a0a" >a</text>
<text x="66.40" y="120.50" font-size="5" text-anchor="start" fill="#0a0a0a" >y</text>
<text x="142.50" y="118.30" font-size="10.5" text-anchor="start" fill="#0a0a0a" >a</text>
<text x="148.30" y="120.50" font-size="5" text-anchor="start" fill="#0a0a0a" >y</text>
<text x="80.40" y="118.30" font-size="10.5" text-anchor="start" fill="#0a0a0a" >a</text>
<text x="86.20" y="120.50" font-size="5" text-anchor="start" fill="#0a0a0a" >x</text>
<text x="160.10" y="118.30" font-size="10.5" text-anchor="start" fill="#0a0a0a" >a</text>
<text x="165.90" y="120.50" font-size="5" text-anchor="start" fill="#0a0a0a" >x</text>
<text x="92.00" y="132.40" font-size="10.8" text-anchor="start" fill="#0a0a0a" >Ag</text>
<text x="121.60" y="117.50" font-size="9.5" text-anchor="middle" fill="#0a0a0a" >d</text>
<line x1="121.20" y1="120.90" x2="125.20" y2="124.90" stroke="#e23b3b" stroke-width="1.1" />
<line x1="121.20" y1="124.90" x2="125.20" y2="120.90" stroke="#e23b3b" stroke-width="1.1" />
<rect x="42.0" y="72.5" width="185.5" height="149.8" fill="none" stroke="#585858" stroke-width="1"/>
<line x1="39.00" y1="222.30" x2="42.00" y2="222.30" stroke="#585858" stroke-width="1" />
<text x="37.30" y="226.00" font-size="10.5" text-anchor="end" fill="#0a0a0a" >0.0</text>
<line x1="40.20" y1="211.60" x2="42.00" y2="211.60" stroke="#585858" stroke-width="1" />
<line x1="39.00" y1="200.90" x2="42.00" y2="200.90" stroke="#585858" stroke-width="1" />
<text x="37.30" y="204.60" font-size="10.5" text-anchor="end" fill="#0a0a0a" >0.5</text>
<line x1="40.20" y1="190.20" x2="42.00" y2="190.20" stroke="#585858" stroke-width="1" />
<line x1="39.00" y1="179.50" x2="42.00" y2="179.50" stroke="#585858" stroke-width="1" />
<text x="37.30" y="183.20" font-size="10.5" text-anchor="end" fill="#0a0a0a" >1.0</text>
<line x1="40.20" y1="168.80" x2="42.00" y2="168.80" stroke="#585858" stroke-width="1" />
<line x1="39.00" y1="158.10" x2="42.00" y2="158.10" stroke="#585858" stroke-width="1" />
<text x="37.30" y="161.80" font-size="10.5" text-anchor="end" fill="#0a0a0a" >1.5</text>
<line x1="40.20" y1="147.40" x2="42.00" y2="147.40" stroke="#585858" stroke-width="1" />
<line x1="39.00" y1="136.70" x2="42.00" y2="136.70" stroke="#585858" stroke-width="1" />
<text x="37.30" y="140.40" font-size="10.5" text-anchor="end" fill="#0a0a0a" >2.0</text>
<line x1="40.20" y1="126.00" x2="42.00" y2="126.00" stroke="#585858" stroke-width="1" />
<line x1="39.00" y1="115.30" x2="42.00" y2="115.30" stroke="#585858" stroke-width="1" />
<text x="37.30" y="119.00" font-size="10.5" text-anchor="end" fill="#0a0a0a" >2.5</text>
<line x1="40.20" y1="104.60" x2="42.00" y2="104.60" stroke="#585858" stroke-width="1" />
<line x1="39.00" y1="93.90" x2="42.00" y2="93.90" stroke="#585858" stroke-width="1" />
<text x="37.30" y="97.60" font-size="10.5" text-anchor="end" fill="#0a0a0a" >3.0</text>
<line x1="40.20" y1="83.20" x2="42.00" y2="83.20" stroke="#585858" stroke-width="1" />
<line x1="39.00" y1="72.50" x2="42.00" y2="72.50" stroke="#585858" stroke-width="1" />
<text x="37.30" y="76.20" font-size="10.5" text-anchor="end" fill="#0a0a0a" >3.5</text>
<line x1="224.50" y1="222.30" x2="227.50" y2="222.30" stroke="#585858" stroke-width="1" />
<text x="230.90" y="226.00" font-size="10.5" text-anchor="start" fill="#0a0a0a" >0.0</text>
<line x1="225.70" y1="207.32" x2="227.50" y2="207.32" stroke="#585858" stroke-width="1" />
<line x1="224.50" y1="192.34" x2="227.50" y2="192.34" stroke="#585858" stroke-width="1" />
<text x="230.90" y="196.04" font-size="10.5" text-anchor="start" fill="#0a0a0a" >0.4</text>
<line x1="225.70" y1="177.36" x2="227.50" y2="177.36" stroke="#585858" stroke-width="1" />
<line x1="224.50" y1="162.38" x2="227.50" y2="162.38" stroke="#585858" stroke-width="1" />
<text x="230.90" y="166.08" font-size="10.5" text-anchor="start" fill="#0a0a0a" >0.8</text>
<line x1="225.70" y1="147.40" x2="227.50" y2="147.40" stroke="#585858" stroke-width="1" />
<line x1="224.50" y1="132.42" x2="227.50" y2="132.42" stroke="#585858" stroke-width="1" />
<text x="230.90" y="136.12" font-size="10.5" text-anchor="start" fill="#0a0a0a" >1.2</text>
<line x1="225.70" y1="117.44" x2="227.50" y2="117.44" stroke="#585858" stroke-width="1" />
<line x1="224.50" y1="102.46" x2="227.50" y2="102.46" stroke="#585858" stroke-width="1" />
<text x="230.90" y="106.16" font-size="10.5" text-anchor="start" fill="#0a0a0a" >1.6</text>
<line x1="225.70" y1="87.48" x2="227.50" y2="87.48" stroke="#585858" stroke-width="1" />
<line x1="224.50" y1="72.50" x2="227.50" y2="72.50" stroke="#585858" stroke-width="1" />
<text x="230.90" y="76.20" font-size="10.5" text-anchor="start" fill="#0a0a0a" >2.0</text>
<line x1="49.13" y1="222.30" x2="49.13" y2="225.30" stroke="#585858" stroke-width="1" />
<text x="49.13" y="236.30" font-size="10.5" text-anchor="middle" fill="#0a0a0a" >700</text>
<line x1="66.97" y1="222.30" x2="66.97" y2="224.10" stroke="#585858" stroke-width="1" />
<line x1="84.81" y1="222.30" x2="84.81" y2="225.30" stroke="#585858" stroke-width="1" />
<text x="84.81" y="236.30" font-size="10.5" text-anchor="middle" fill="#0a0a0a" >750</text>
<line x1="102.64" y1="222.30" x2="102.64" y2="224.10" stroke="#585858" stroke-width="1" />
<line x1="120.48" y1="222.30" x2="120.48" y2="225.30" stroke="#585858" stroke-width="1" />
<text x="120.48" y="236.30" font-size="10.5" text-anchor="middle" fill="#0a0a0a" >800</text>
<line x1="138.32" y1="222.30" x2="138.32" y2="224.10" stroke="#585858" stroke-width="1" />
<line x1="156.15" y1="222.30" x2="156.15" y2="225.30" stroke="#585858" stroke-width="1" />
<text x="156.15" y="236.30" font-size="10.5" text-anchor="middle" fill="#0a0a0a" >850</text>
<line x1="173.99" y1="222.30" x2="173.99" y2="224.10" stroke="#585858" stroke-width="1" />
<line x1="191.83" y1="222.30" x2="191.83" y2="225.30" stroke="#585858" stroke-width="1" />
<text x="191.83" y="236.30" font-size="10.5" text-anchor="middle" fill="#0a0a0a" >900</text>
<line x1="209.66" y1="222.30" x2="209.66" y2="224.10" stroke="#585858" stroke-width="1" />
<line x1="227.50" y1="222.30" x2="227.50" y2="225.30" stroke="#585858" stroke-width="1" />
<text x="227.50" y="236.30" font-size="10.5" text-anchor="middle" fill="#0a0a0a" >950</text>
<text x="135.00" y="253.00" font-size="11" text-anchor="middle" fill="#0a0a0a" >wavelength (nm)</text>
<text transform="translate(17.1,147.3) rotate(-90)" font-size="11.15" text-anchor="middle" fill="#0a0a0a">scattering cross-section (m<tspan font-size="7" dy="-4">2</tspan><tspan dy="4">)</tspan></text>
<text transform="translate(257,148) rotate(-90)" font-size="11.05" text-anchor="middle" fill="#0a0a0a">incident spectra (a.u.)</text>
<text transform="translate(272.8,150.9) rotate(-90)" font-size="11.3" text-anchor="middle" fill="#0a0a0a">electric field x component (rel.u.)</text>
<text x="291.70" y="36.70" font-size="14" text-anchor="start" font-weight="bold" fill="#0a0a0a" >(b1)</text>
<path d="M293.6,83.9 293.9,83.9 294.1,83.9 294.4,83.9 294.7,83.9 294.9,83.9 295.2,83.9 295.5,83.9 295.7,83.9 296.0,83.9 296.2,83.9 296.5,83.9 296.8,83.9 297.0,83.9 297.3,83.9 297.6,83.9 297.8,83.9 298.1,83.9 298.4,83.9 298.6,83.9 298.9,83.9 299.2,83.9 299.4,83.9 299.7,83.9 300.0,83.9 300.2,83.9 300.5,83.9 300.7,83.9 301.0,83.9 301.3,83.9 301.5,83.9 301.8,83.9 302.1,83.9 302.3,83.9 302.6,83.9 302.9,83.9 303.1,83.9 303.4,83.9 303.7,83.9 303.9,83.9 304.2,83.9 304.5,83.9 304.7,83.9 305.0,83.9 305.2,83.9 305.5,83.9 305.8,83.9 306.0,83.9 306.3,83.9 306.6,83.9 306.8,83.9 307.1,83.9 307.4,83.9 307.6,83.9 307.9,83.9 308.2,83.9 308.4,83.9 308.7,83.9 309.0,83.9 309.2,83.9 309.5,83.9 309.7,83.9 310.0,83.9 310.3,83.9 310.5,83.9 310.8,83.9 311.1,84.0 311.3,84.0 311.6,84.0 311.9,84.1 312.1,84.1 312.4,84.1 312.7,84.1 312.9,84.1 313.2,84.0 313.5,84.0 313.7,83.9 314.0,83.8 314.3,83.7 314.5,83.6 314.8,83.5 315.0,83.4 315.3,83.3 315.6,83.2 315.8,83.2 316.1,83.2 316.4,83.3 316.6,83.4 316.9,83.5 317.2,83.7 317.4,84.0 317.7,84.3 318.0,84.7 318.2,85.1 318.5,85.4 318.8,85.7 319.0,86.0 319.3,86.1 319.5,86.1 319.8,86.0 320.1,85.7 320.3,85.2 320.6,84.6 320.9,83.8 321.1,83.0 321.4,82.0 321.7,81.0 321.9,80.1 322.2,79.3 322.5,78.7 322.7,78.3 323.0,78.2 323.3,78.5 323.5,79.2 323.8,80.2 324.0,81.6 324.3,83.4 324.6,85.4 324.8,87.5 325.1,89.6 325.4,91.6 325.6,93.4 325.9,94.7 326.2,95.6 326.4,95.7 326.7,95.2 327.0,94.0 327.2,92.0 327.5,89.3 327.8,86.1 328.0,82.5 328.3,78.7 328.5,74.8 328.8,71.3 329.1,68.2 329.3,65.8 329.6,64.3 329.9,63.9 330.1,64.6 330.4,66.6 330.7,69.6 330.9,73.7 331.2,78.6 331.5,84.0 331.7,89.8 332.0,95.4 332.3,100.6 332.5,105.1 332.8,108.5 333.0,110.6 333.3,111.3 333.6,110.4 333.8,108.0 334.1,104.1 334.4,99.0 334.6,92.9 334.9,86.2 335.2,79.2 335.4,72.4 335.7,66.2 336.0,60.9 336.2,56.8 336.5,54.3 336.8,53.5 337.0,54.4 337.3,57.1 337.5,61.4 337.8,66.8 338.1,72.9 338.3,79.5 338.6,86.0 338.9,92.0 339.1,97.4 339.4,101.6 339.7,104.7 339.9,106.5 340.2,106.9 340.5,106.0 340.7,104.0 341.0,100.9 341.3,97.2 341.5,92.9 341.8,88.5 342.0,84.0 342.3,79.8 342.6,76.2 342.8,73.1 343.1,70.9 343.4,69.5 343.6,69.0 343.9,69.3 344.2,70.4 344.4,72.2 344.7,74.5 345.0,77.2 345.2,80.0 345.5,82.9 345.8,85.6 346.0,88.0 346.3,90.1 346.6,91.7 346.8,92.7 347.1,93.2 347.3,93.2 347.6,92.7 347.9,91.7 348.1,90.3 348.4,88.7 348.7,87.0 348.9,85.2 349.2,83.4 349.5,81.8 349.7,80.4 350.0,79.3 350.3,78.6 350.5,78.1 350.8,78.1 351.1,78.3 351.3,78.8 351.6,79.6 351.8,80.5 352.1,81.6 352.4,82.7 352.6,83.8 352.9,84.9 353.2,85.8 353.4,86.5 353.7,87.1 354.0,87.4 354.2,87.5 354.5,87.5 354.8,87.2 355.0,86.8 355.3,86.2 355.6,85.6 355.8,84.9 356.1,84.2 356.3,83.5 356.6,82.9 356.9,82.4 357.1,82.0 357.4,81.8 357.7,81.7 357.9,81.7 358.2,81.8 358.5,82.0 358.7,82.3 359.0,82.7 359.3,83.1 359.5,83.6 359.8,84.0 360.1,84.4 360.3,84.7 360.6,85.0 360.8,85.2 361.1,85.3 361.4,85.3 361.6,85.2 361.9,85.1 362.2,84.9 362.4,84.7 362.7,84.5 363.0,84.2 363.2,83.9 363.5,83.7 363.8,83.5 364.0,83.3 364.3,83.2 364.6,83.1 364.8,83.0 365.1,83.1 365.3,83.1 365.6,83.2 365.9,83.3 366.1,83.5 366.4,83.7 366.7,83.8 366.9,84.0 367.2,84.1 367.5,84.2 367.7,84.3 368.0,84.4 368.3,84.4 368.5,84.4 368.8,84.4 369.1,84.3 369.3,84.3 369.6,84.2 369.8,84.1 370.1,84.0 370.4,83.9 370.6,83.8 370.9,83.7 371.2,83.7 371.4,83.6 371.7,83.6 372.0,83.6 372.2,83.6 372.5,83.6 372.8,83.7 373.0,83.7 373.3,83.8 373.6,83.8 373.8,83.9 374.1,83.9 374.3,84.0 374.6,84.0 374.9,84.1 375.1,84.1 375.4,84.1 375.7,84.1 375.9,84.1 376.2,84.1 376.5,84.0 376.7,84.0 377.0,84.0 377.3,83.9 377.5,83.9 377.8,83.8 378.1,83.8 378.3,83.8 378.6,83.8 378.8,83.8 379.1,83.8 379.4,83.8 379.6,83.8 379.9,83.8 380.2,83.8 380.4,83.9 380.7,83.9 381.0,83.9 381.2,83.9 381.5,83.9 381.8,84.0 382.0,84.0 382.3,84.0 382.6,84.0 382.8,84.0 383.1,84.0 383.4,84.0 383.6,83.9 383.9,83.9 384.1,83.9 384.4,83.9 384.7,83.9 384.9,83.9 385.2,83.9 385.5,83.9 385.7,83.9 386.0,83.9 386.3,83.9 386.5,83.9 386.8,83.9 387.1,83.9 387.3,83.9 387.6,83.9 387.9,83.9 388.1,83.9 388.4,83.9 388.6,83.9 388.9,83.9 389.2,83.9 389.4,83.9 389.7,83.9 390.0,83.9 390.2,83.9 390.5,83.9 390.8,83.9 391.0,83.9 391.3,83.9 391.6,83.9 391.8,83.9 392.1,83.9 392.4,83.9 392.6,83.9 392.9,83.9 393.1,83.9 393.4,83.9 393.7,83.9 393.9,83.9 394.2,83.9 394.5,83.9" fill="none" stroke="#a3d6ef" stroke-width="1.2" stroke-linejoin="round" />
<path d="M293.6,83.9 293.9,83.9 294.1,83.9 294.4,83.9 294.7,83.9 294.9,83.9 295.2,83.9 295.5,83.9 295.7,83.9 296.0,83.9 296.2,83.9 296.5,83.9 296.8,83.9 297.0,83.9 297.3,83.9 297.6,83.9 297.8,83.9 298.1,83.9 298.4,83.9 298.6,83.9 298.9,83.9 299.2,83.9 299.4,83.9 299.7,83.9 300.0,83.9 300.2,83.9 300.5,83.9 300.7,83.9 301.0,83.9 301.3,83.9 301.5,83.9 301.8,83.9 302.1,83.9 302.3,83.9 302.6,83.9 302.9,83.9 303.1,83.9 303.4,83.9 303.7,83.9 303.9,83.9 304.2,83.9 304.5,83.9 304.7,83.9 305.0,83.9 305.2,83.9 305.5,83.9 305.8,83.9 306.0,83.9 306.3,83.9 306.6,83.9 306.8,83.9 307.1,83.9 307.4,83.9 307.6,83.9 307.9,83.9 308.2,83.9 308.4,83.9 308.7,83.9 309.0,83.9 309.2,83.9 309.5,83.9 309.7,83.9 310.0,83.9 310.3,83.9 310.5,83.9 310.8,83.9 311.1,83.9 311.3,83.9 311.6,83.9 311.9,83.9 312.1,83.9 312.4,83.9 312.7,83.9 312.9,83.9 313.2,83.9 313.5,83.9 313.7,83.9 314.0,83.9 314.3,83.9 314.5,83.9 314.8,83.9 315.0,83.9 315.3,83.9 315.6,83.9 315.8,83.9 316.1,83.9 316.4,83.9 316.6,83.9 316.9,83.9 317.2,83.9 317.4,83.9 317.7,83.9 318.0,83.8 318.2,83.8 318.5,83.8 318.8,83.7 319.0,83.7 319.3,83.6 319.5,83.6 319.8,83.6 320.1,83.6 320.3,83.7 320.6,83.7 320.9,83.8 321.1,84.0 321.4,84.2 321.7,84.4 321.9,84.6 322.2,84.8 322.5,85.0 322.7,85.2 323.0,85.3 323.3,85.4 323.5,85.3 323.8,85.1 324.0,84.8 324.3,84.3 324.6,83.7 324.8,83.0 325.1,82.2 325.4,81.3 325.6,80.5 325.9,79.7 326.2,79.1 326.4,78.7 326.7,78.6 327.0,78.9 327.2,79.5 327.5,80.5 327.8,82.0 328.0,83.8 328.3,85.8 328.5,88.1 328.8,90.4 329.1,92.6 329.3,94.6 329.6,96.1 329.9,97.0 330.1,97.2 330.4,96.6 330.7,95.1 330.9,92.7 331.2,89.5 331.5,85.7 331.7,81.4 332.0,76.8 332.3,72.3 332.5,68.1 332.8,64.5 333.0,61.9 333.3,60.4 333.6,60.1 333.8,61.3 334.1,64.0 334.4,67.9 334.6,73.0 334.9,78.9 335.2,85.4 335.4,92.0 335.7,98.4 336.0,104.1 336.2,108.8 336.5,112.1 336.8,113.9 337.0,114.0 337.3,112.3 337.5,109.0 337.8,104.3 338.1,98.3 338.3,91.7 338.6,84.8 338.9,78.0 339.1,71.8 339.4,66.5 339.7,62.4 339.9,59.6 340.2,58.4 340.5,58.6 340.7,60.2 341.0,63.0 341.3,66.8 341.5,71.3 341.8,76.3 342.0,81.5 342.3,86.5 342.6,91.1 342.8,95.0 343.1,98.1 343.4,100.3 343.6,101.4 343.9,101.5 344.2,100.6 344.4,98.9 344.7,96.5 345.0,93.5 345.2,90.2 345.5,86.7 345.8,83.3 346.0,80.1 346.3,77.4 346.6,75.1 346.8,73.5 347.1,72.5 347.3,72.2 347.6,72.6 347.9,73.5 348.1,75.0 348.4,76.8 348.7,79.0 348.9,81.2 349.2,83.5 349.5,85.7 349.7,87.6 350.0,89.2 350.3,90.4 350.5,91.2 350.8,91.5 351.1,91.4 351.3,90.9 351.6,90.1 351.8,88.9 352.1,87.6 352.4,86.2 352.6,84.7 352.9,83.2 353.2,81.9 353.4,80.8 353.7,79.9 354.0,79.3 354.2,79.0 354.5,79.0 354.8,79.2 355.0,79.7 355.3,80.4 355.6,81.2 355.8,82.1 356.1,83.1 356.3,84.0 356.6,84.9 356.9,85.7 357.1,86.3 357.4,86.7 357.7,87.0 357.9,87.1 358.2,87.0 358.5,86.8 358.7,86.4 359.0,85.8 359.3,85.3 359.5,84.7 359.8,84.0 360.1,83.4 360.3,82.9 360.6,82.5 360.8,82.2 361.1,81.9 361.4,81.8 361.6,81.9 361.9,82.0 362.2,82.2 362.4,82.5 362.7,82.9 363.0,83.3 363.2,83.7 363.5,84.1 363.8,84.4 364.0,84.7 364.3,85.0 364.6,85.1 364.8,85.2 365.1,85.2 365.3,85.2 365.6,85.0 365.9,84.9 366.1,84.6 366.4,84.4 366.7,84.1 366.9,83.9 367.2,83.6 367.5,83.4 367.7,83.3 368.0,83.1 368.3,83.1 368.5,83.0 368.8,83.1 369.1,83.1 369.3,83.2 369.6,83.4 369.8,83.5 370.1,83.7 370.4,83.9 370.6,84.0 370.9,84.2 371.2,84.3 371.4,84.4 371.7,84.4 372.0,84.4 372.2,84.4 372.5,84.4 372.8,84.4 373.0,84.3 373.3,84.2 373.6,84.1 373.8,84.0 374.1,83.9 374.3,83.8 374.6,83.7 374.9,83.6 375.1,83.6 375.4,83.6 375.7,83.5 375.9,83.6 376.2,83.6 376.5,83.6 376.7,83.7 377.0,83.8 377.3,83.8 377.5,83.9 377.8,84.0 378.1,84.0 378.3,84.1 378.6,84.1 378.8,84.1 379.1,84.1 379.4,84.1 379.6,84.1 379.9,84.1 380.2,84.0 380.4,84.0 380.7,84.0 381.0,83.9 381.2,83.9 381.5,83.8 381.8,83.8 382.0,83.8 382.3,83.8 382.6,83.8 382.8,83.8 383.1,83.8 383.4,83.8 383.6,83.8 383.9,83.8 384.1,83.9 384.4,83.9 384.7,83.9 384.9,83.9 385.2,84.0 385.5,84.0 385.7,84.0 386.0,84.0 386.3,84.0 386.5,84.0 386.8,84.0 387.1,84.0 387.3,84.0 387.6,83.9 387.9,83.9 388.1,83.9 388.4,83.9 388.6,83.9 388.9,83.9 389.2,83.8 389.4,83.8 389.7,83.8 390.0,83.8 390.2,83.8 390.5,83.9 390.8,83.9 391.0,83.9 391.3,83.9 391.6,83.9 391.8,83.9 392.1,83.9 392.4,83.9 392.6,83.9 392.9,83.9 393.1,83.9 393.4,83.9 393.7,83.9 393.9,83.9 394.2,83.9 394.5,83.9" fill="none" stroke="#6a82e4" stroke-width="0.9" stroke-linejoin="round" />
<path d="M293.6,83.9 293.9,83.9 294.1,83.9 294.4,83.9 294.7,83.9 294.9,83.9 295.2,83.9 295.5,83.9 295.7,83.9 296.0,83.9 296.2,83.9 296.5,83.9 296.8,83.9 297.0,83.9 297.3,83.9 297.6,83.9 297.8,83.9 298.1,83.9 298.4,83.9 298.6,83.9 298.9,83.9 299.2,83.9 299.4,83.9 299.7,83.9 300.0,83.9 300.2,83.9 300.5,83.9 300.7,83.9 301.0,83.9 301.3,83.9 301.5,83.9 301.8,83.9 302.1,83.9 302.3,83.9 302.6,83.9 302.9,83.9 303.1,83.9 303.4,83.9 303.7,83.9 303.9,83.9 304.2,83.9 304.5,83.9 304.7,83.9 305.0,83.9 305.2,83.9 305.5,83.9 305.8,83.9 306.0,83.9 306.3,83.9 306.6,83.9 306.8,83.9 307.1,83.9 307.4,83.9 307.6,83.9 307.9,83.9 308.2,83.9 308.4,83.9 308.7,83.9 309.0,83.9 309.2,83.9 309.5,83.9 309.7,83.9 310.0,83.9 310.3,83.9 310.5,83.9 310.8,83.9 311.1,83.9 311.3,83.9 311.6,83.9 311.9,83.9 312.1,83.9 312.4,83.9 312.7,83.9 312.9,83.9 313.2,83.9 313.5,83.9 313.7,83.9 314.0,83.9 314.3,83.9 314.5,83.9 314.8,83.9 315.0,83.9 315.3,83.9 315.6,83.9 315.8,84.0 316.1,84.0 316.4,84.0 316.6,84.0 316.9,84.0 317.2,84.0 317.4,84.0 317.7,84.0 318.0,84.0 318.2,83.9 318.5,83.9 318.8,83.8 319.0,83.7 319.3,83.6 319.5,83.5 319.8,83.4 320.1,83.3 320.3,83.2 320.6,83.2 320.9,83.2 321.1,83.3 321.4,83.4 321.7,83.6 321.9,83.9 322.2,84.3 322.5,84.7 322.7,85.1 323.0,85.6 323.3,86.0 323.5,86.3 323.8,86.6 324.0,86.7 324.3,86.6 324.6,86.3 324.8,85.8 325.1,85.1 325.4,84.2 325.6,83.1 325.9,81.8 326.2,80.5 326.4,79.2 326.7,78.0 327.0,77.0 327.2,76.3 327.5,76.0 327.8,76.2 328.0,76.9 328.3,78.2 328.5,80.0 328.8,82.3 329.1,84.9 329.3,87.9 329.6,90.9 329.9,93.9 330.1,96.5 330.4,98.6 330.7,100.1 330.9,100.6 331.2,100.2 331.5,98.8 331.7,96.3 332.0,92.9 332.3,88.6 332.5,83.8 332.8,78.6 333.0,73.4 333.3,68.4 333.6,64.1 333.8,60.7 334.1,58.5 334.4,57.7 334.6,58.4 334.9,60.6 335.2,64.2 335.4,69.1 335.7,75.1 336.0,81.7 336.2,88.6 336.5,95.3 336.8,101.6 337.0,106.9 337.3,110.9 337.5,113.5 337.8,114.3 338.1,113.4 338.3,110.7 338.6,106.6 338.9,101.2 339.1,95.0 339.4,88.4 339.7,81.8 339.9,75.6 340.2,70.1 340.5,65.6 340.7,62.3 341.0,60.4 341.3,59.9 341.5,60.7 341.8,62.8 342.0,65.9 342.3,69.8 342.6,74.3 342.8,79.0 343.1,83.8 343.4,88.3 343.6,92.3 343.9,95.6 344.2,98.1 344.4,99.6 344.7,100.3 345.0,99.9 345.2,98.8 345.5,96.9 345.8,94.4 346.0,91.4 346.3,88.3 346.6,85.1 346.8,82.0 347.1,79.2 347.3,76.9 347.6,75.0 347.9,73.8 348.1,73.2 348.4,73.2 348.7,73.8 348.9,74.9 349.2,76.4 349.5,78.3 349.7,80.3 350.0,82.4 350.3,84.5 350.5,86.4 350.8,88.0 351.1,89.3 351.3,90.3 351.6,90.8 351.8,90.9 352.1,90.7 352.4,90.1 352.6,89.1 352.9,88.0 353.2,86.7 353.4,85.4 353.7,84.0 354.0,82.7 354.2,81.6 354.5,80.7 354.8,80.0 355.0,79.5 355.3,79.3 355.6,79.4 355.8,79.7 356.1,80.3 356.3,81.0 356.6,81.8 356.9,82.6 357.1,83.5 357.4,84.4 357.7,85.1 357.9,85.8 358.2,86.3 358.5,86.7 358.7,86.8 359.0,86.8 359.3,86.7 359.5,86.4 359.8,86.0 360.1,85.5 360.3,84.9 360.6,84.3 360.8,83.8 361.1,83.3 361.4,82.8 361.6,82.5 361.9,82.2 362.2,82.0 362.4,82.0 362.7,82.1 363.0,82.2 363.2,82.5 363.5,82.8 363.8,83.1 364.0,83.5 364.3,83.9 364.6,84.2 364.8,84.5 365.1,84.8 365.3,84.9 365.6,85.1 365.9,85.1 366.1,85.1 366.4,85.0 366.7,84.9 366.9,84.7 367.2,84.5 367.5,84.2 367.7,84.0 368.0,83.8 368.3,83.6 368.5,83.4 368.8,83.3 369.1,83.2 369.3,83.1 369.6,83.1 369.8,83.2 370.1,83.2 370.4,83.3 370.6,83.5 370.9,83.6 371.2,83.8 371.4,83.9 371.7,84.1 372.0,84.2 372.2,84.3 372.5,84.4 372.8,84.4 373.0,84.4 373.3,84.4 373.6,84.3 373.8,84.3 374.1,84.2 374.3,84.1 374.6,84.0 374.9,83.9 375.1,83.8 375.4,83.7 375.7,83.7 375.9,83.6 376.2,83.6 376.5,83.6 376.7,83.6 377.0,83.6 377.3,83.6 377.5,83.7 377.8,83.7 378.1,83.8 378.3,83.9 378.6,83.9 378.8,84.0 379.1,84.0 379.4,84.1 379.6,84.1 379.9,84.1 380.2,84.1 380.4,84.1 380.7,84.1 381.0,84.0 381.2,84.0 381.5,84.0 381.8,83.9 382.0,83.9 382.3,83.9 382.6,83.8 382.8,83.8 383.1,83.8 383.4,83.8 383.6,83.8 383.9,83.8 384.1,83.8 384.4,83.8 384.7,83.8 384.9,83.8 385.2,83.9 385.5,83.9 385.7,83.9 386.0,83.9 386.3,84.0 386.5,84.0 386.8,84.0 387.1,84.0 387.3,84.0 387.6,84.0 387.9,84.0 388.1,84.0 388.4,83.9 388.6,83.9 388.9,83.9 389.2,83.9 389.4,83.9 389.7,83.9 390.0,83.9 390.2,83.8 390.5,83.8 390.8,83.8 391.0,83.8 391.3,83.9 391.6,83.9 391.8,83.9 392.1,83.9 392.4,83.9 392.6,83.9 392.9,83.9 393.1,83.9 393.4,83.9 393.7,83.9 393.9,83.9 394.2,83.9 394.5,83.9" fill="none" stroke="#2c3ca8" stroke-width="0.9" stroke-linejoin="round" />
<path d="M293.6,83.9 293.9,83.9 294.1,83.9 294.4,83.9 294.7,83.9 294.9,83.9 295.2,83.9 295.5,83.9 295.7,83.9 296.0,83.9 296.2,83.9 296.5,83.9 296.8,83.9 297.0,83.9 297.3,83.9 297.6,83.9 297.8,83.9 298.1,83.9 298.4,83.9 298.6,83.9 298.9,83.9 299.2,83.9 299.4,83.9 299.7,83.9 300.0,83.9 300.2,83.9 300.5,83.9 300.7,83.9 301.0,83.9 301.3,83.9 301.5,83.9 301.8,83.9 302.1,83.9 302.3,83.9 302.6,83.9 302.9,83.9 303.1,83.9 303.4,83.9 303.7,83.9 303.9,83.9 304.2,83.9 304.5,83.9 304.7,83.9 305.0,83.9 305.2,83.9 305.5,83.9 305.8,83.9 306.0,83.9 306.3,83.9 306.6,83.9 306.8,83.9 307.1,83.9 307.4,83.9 307.6,83.9 307.9,83.9 308.2,83.9 308.4,83.9 308.7,83.9 309.0,83.9 309.2,83.9 309.5,83.9 309.7,83.9 310.0,83.9 310.3,83.9 310.5,83.9 310.8,83.9 311.1,83.9 311.3,83.9 311.6,83.9 311.9,83.9 312.1,83.9 312.4,83.9 312.7,83.9 312.9,83.9 313.2,83.9 313.5,83.9 313.7,83.9 314.0,83.9 314.3,83.9 314.5,83.9 314.8,83.9 315.0,83.9 315.3,83.9 315.6,83.9 315.8,83.9 316.1,83.9 316.4,83.9 316.6,83.9 316.9,83.9 317.2,83.9 317.4,83.9 317.7,83.9 318.0,83.9 318.2,83.9 318.5,83.9 318.8,83.9 319.0,83.9 319.3,83.9 319.5,83.9 319.8,83.9 320.1,83.9 320.3,83.9 320.6,83.9 320.9,83.9 321.1,83.9 321.4,83.8 321.7,83.8 321.9,83.8 322.2,83.8 322.5,83.8 322.7,83.9 323.0,83.9 323.3,83.9 323.5,84.0 323.8,84.1 324.0,84.2 324.3,84.3 324.6,84.4 324.8,84.4 325.1,84.5 325.4,84.6 325.6,84.5 325.9,84.5 326.2,84.3 326.4,84.1 326.7,83.8 327.0,83.4 327.2,82.9 327.5,82.4 327.8,81.9 328.0,81.4 328.3,81.0 328.5,80.8 328.8,80.7 329.1,80.8 329.3,81.2 329.6,81.8 329.9,82.8 330.1,83.9 330.4,85.3 330.7,86.8 330.9,88.3 331.2,89.7 331.5,90.9 331.7,91.8 332.0,92.2 332.3,92.2 332.5,91.7 332.8,90.6 333.0,89.1 333.3,87.0 333.6,84.7 333.8,82.2 334.1,79.7 334.4,77.3 334.6,75.3 334.9,73.7 335.2,72.7 335.4,72.3 335.7,72.7 336.0,73.7 336.2,75.3 336.5,77.3 336.8,79.7 337.0,82.2 337.3,84.7 337.5,87.0 337.8,89.1 338.1,90.6 338.3,91.7 338.6,92.2 338.9,92.2 339.1,91.8 339.4,90.9 339.7,89.7 339.9,88.3 340.2,86.8 340.5,85.3 340.7,83.9 341.0,82.8 341.3,81.8 341.5,81.2 341.8,80.8 342.0,80.7 342.3,80.8 342.6,81.0 342.8,81.4 343.1,81.9 343.4,82.4 343.6,82.9 343.9,83.4 344.2,83.8 344.4,84.1 344.7,84.3 345.0,84.5 345.2,84.5 345.5,84.6 345.8,84.5 346.0,84.4 346.3,84.4 346.6,84.3 346.8,84.2 347.1,84.1 347.3,84.0 347.6,83.9 347.9,83.9 348.1,83.9 348.4,83.8 348.7,83.8 348.9,83.8 349.2,83.8 349.5,83.8 349.7,83.9 350.0,83.9 350.3,83.9 350.5,83.9 350.8,83.9 351.1,83.9 351.3,83.9 351.6,83.9 351.8,83.9 352.1,83.9 352.4,83.9 352.6,83.9 352.9,83.9 353.2,83.9 353.4,83.9 353.7,83.9 354.0,83.9 354.2,83.9 354.5,83.9 354.8,83.9 355.0,83.9 355.3,83.9 355.6,83.9 355.8,83.9 356.1,83.9 356.3,83.9 356.6,83.9 356.9,83.9 357.1,83.9 357.4,83.9 357.7,83.9 357.9,83.9 358.2,83.9 358.5,83.9 358.7,83.9 359.0,83.9 359.3,83.9 359.5,83.9 359.8,83.9 360.1,83.9 360.3,83.9 360.6,83.9 360.8,83.9 361.1,83.9 361.4,83.9 361.6,83.9 361.9,83.9 362.2,83.9 362.4,83.9 362.7,83.9 363.0,83.9 363.2,83.9 363.5,83.9 363.8,83.9 364.0,83.9 364.3,83.9 364.6,83.9 364.8,83.9 365.1,83.9 365.3,83.9 365.6,83.9 365.9,83.9 366.1,83.9 366.4,83.9 366.7,83.9 366.9,83.9 367.2,83.9 367.5,83.9 367.7,83.9 368.0,83.9 368.3,83.9 368.5,83.9 368.8,83.9 369.1,83.9 369.3,83.9 369.6,83.9 369.8,83.9 370.1,83.9 370.4,83.9 370.6,83.9 370.9,83.9 371.2,83.9 371.4,83.9 371.7,83.9 372.0,83.9 372.2,83.9 372.5,83.9 372.8,83.9 373.0,83.9 373.3,83.9 373.6,83.9 373.8,83.9 374.1,83.9 374.3,83.9 374.6,83.9 374.9,83.9 375.1,83.9 375.4,83.9 375.7,83.9 375.9,83.9 376.2,83.9 376.5,83.9 376.7,83.9 377.0,83.9 377.3,83.9 377.5,83.9 377.8,83.9 378.1,83.9 378.3,83.9 378.6,83.9 378.8,83.9 379.1,83.9 379.4,83.9 379.6,83.9 379.9,83.9 380.2,83.9 380.4,83.9 380.7,83.9 381.0,83.9 381.2,83.9 381.5,83.9 381.8,83.9 382.0,83.9 382.3,83.9 382.6,83.9 382.8,83.9 383.1,83.9 383.4,83.9 383.6,83.9 383.9,83.9 384.1,83.9 384.4,83.9 384.7,83.9 384.9,83.9 385.2,83.9 385.5,83.9 385.7,83.9 386.0,83.9 386.3,83.9 386.5,83.9 386.8,83.9 387.1,83.9 387.3,83.9 387.6,83.9 387.9,83.9 388.1,83.9 388.4,83.9 388.6,83.9 388.9,83.9 389.2,83.9 389.4,83.9 389.7,83.9 390.0,83.9 390.2,83.9 390.5,83.9 390.8,83.9 391.0,83.9 391.3,83.9 391.6,83.9 391.8,83.9 392.1,83.9 392.4,83.9 392.6,83.9 392.9,83.9 393.1,83.9 393.4,83.9 393.7,83.9 393.9,83.9 394.2,83.9 394.5,83.9" fill="none" stroke="#333333" stroke-width="0.85" stroke-linejoin="round" />
<path d="M314.3,83.5 314.5,83.5 314.8,83.4 315.0,83.4 315.3,83.3 315.6,83.2 315.8,83.2 316.1,83.1 316.4,83.0 316.6,82.9 316.9,82.9 317.2,82.8 317.4,82.7 317.7,82.5 318.0,82.4 318.2,82.3 318.5,82.2 318.8,82.0 319.0,81.8 319.3,81.7 319.5,81.5 319.8,81.3 320.1,81.1 320.3,80.9 320.6,80.6 320.9,80.4 321.1,80.1 321.4,79.9 321.7,79.6 321.9,79.3 322.2,78.9 322.5,78.6 322.7,78.3 323.0,77.9 323.3,77.5 323.5,77.1 323.8,76.7 324.0,76.3 324.3,75.8 324.6,75.4 324.8,74.9 325.1,74.4 325.4,73.9 325.6,73.3 325.9,72.8 326.2,72.2 326.4,71.7 326.7,71.1 327.0,70.5 327.2,69.9 327.5,69.3 327.8,68.7 328.0,68.1 328.3,67.4 328.5,66.8 328.8,66.2 329.1,65.5 329.3,64.9 329.6,64.3 329.9,63.6 330.1,63.0 330.4,62.4 330.7,61.7 330.9,61.1 331.2,60.5 331.5,60.0 331.7,59.4 332.0,58.8 332.3,58.3 332.5,57.8 332.8,57.3 333.0,56.8 333.3,56.4 333.6,56.0 333.8,55.6 334.1,55.2 334.4,54.9 334.6,54.6 334.9,54.4 335.2,54.1 335.4,53.9 335.7,53.8 336.0,53.6 336.2,53.5 336.5,53.5 336.8,53.5 337.0,53.6 337.3,53.9 337.5,54.3 337.8,54.8 338.1,55.4 338.3,56.0 338.6,56.7 338.9,57.3 339.1,58.0 339.4,58.7 339.7,59.5 339.9,60.2 340.2,60.9 340.5,61.6 340.7,62.2 341.0,62.9 341.3,63.6 341.5,64.2 341.8,64.8 342.0,65.4 342.3,66.0 342.6,66.6 342.8,67.2 343.1,67.7 343.4,68.3 343.6,68.8 343.9,69.3 344.2,69.8 344.4,70.3 344.7,70.7 345.0,71.2 345.2,71.6 345.5,72.0 345.8,72.4 346.0,72.8 346.3,73.2 346.6,73.6 346.8,73.9 347.1,74.3 347.3,74.6 347.6,74.9 347.9,75.2 348.1,75.5 348.4,75.8 348.7,76.1 348.9,76.4 349.2,76.6 349.5,76.9 349.7,77.1 350.0,77.4 350.3,77.6 350.5,77.8 350.8,78.0 351.1,78.2 351.3,78.4 351.6,78.6 351.8,78.8 352.1,79.0 352.4,79.2 352.6,79.3 352.9,79.5 353.2,79.6 353.4,79.8 353.7,79.9 354.0,80.1 354.2,80.2 354.5,80.3 354.8,80.5 355.0,80.6 355.3,80.7 355.6,80.8 355.8,80.9 356.1,81.0 356.3,81.1 356.6,81.2 356.9,81.3 357.1,81.4 357.4,81.5 357.7,81.6 357.9,81.7 358.2,81.7 358.5,81.8 358.7,81.9 359.0,82.0 359.3,82.0 359.5,82.1 359.8,82.2 360.1,82.2 360.3,82.3 360.6,82.3 360.8,82.4 361.1,82.5 361.4,82.5 361.6,82.6 361.9,82.6 362.2,82.6 362.4,82.7 362.7,82.7 363.0,82.8 363.2,82.8 363.5,82.9 363.8,82.9 364.0,82.9 364.3,83.0 364.6,83.0 364.8,83.0 365.1,83.1 365.3,83.1 365.6,83.1 365.9,83.1 366.1,83.2 366.4,83.2 366.7,83.2 366.9,83.2 367.2,83.3 367.5,83.3 367.7,83.3 368.0,83.3 368.3,83.4 368.5,83.4 368.8,83.4 369.1,83.4 369.3,83.4 369.6,83.4 369.8,83.5 370.1,83.5 370.4,83.5 370.6,83.5 370.9,83.5 371.2,83.5 371.4,83.5 371.7,83.6 372.0,83.6 372.2,83.6 372.5,83.6 372.8,83.6 373.0,83.6 373.3,83.6 373.6,83.6 373.8,83.6 374.1,83.7 374.3,83.7 374.6,83.7 374.9,83.7 375.1,83.7 375.4,83.7 375.7,83.7 375.9,83.7 376.2,83.7 376.5,83.7 376.7,83.7 377.0,83.7 377.3,83.7 377.5,83.7 377.8,83.8 378.1,83.8 378.3,83.8 378.6,83.8 378.8,83.8 379.1,83.8 379.4,83.8 379.6,83.8 379.9,83.8 380.2,83.8 380.4,83.8 380.7,83.8 381.0,83.8 381.2,83.8 381.5,83.8 381.8,83.8 382.0,83.8 382.3,83.8 382.6,83.8 382.8,83.8 383.1,83.8 383.4,83.8 383.6,83.8 383.9,83.8 384.1,83.8 384.4,83.8 384.7,83.8 384.9,83.8 385.2,83.8 385.5,83.8 385.7,83.9 386.0,83.9 386.3,83.9 386.5,83.9 386.8,83.9 387.1,83.9 387.3,83.9 387.6,83.9 387.9,83.9 388.1,83.9 388.4,83.9 388.6,83.9 388.9,83.9 389.2,83.9 389.4,83.9 389.7,83.9 390.0,83.9 390.2,83.9 390.5,83.9 390.8,83.9 391.0,83.9 391.3,83.9 391.6,83.9 391.8,83.9 392.1,83.9 392.4,83.9 392.6,83.9 392.9,83.9 393.1,83.9 393.4,83.9 393.7,83.9 393.9,83.9 394.2,83.9 394.5,83.9" fill="none" stroke="#3cc43c" stroke-width="1.1" stroke-linejoin="round" />
<path d="M319.0,83.5 319.3,83.5 319.5,83.4 319.8,83.3 320.1,83.3 320.3,83.2 320.6,83.1 320.9,83.0 321.1,82.9 321.4,82.8 321.7,82.7 321.9,82.5 322.2,82.4 322.5,82.2 322.7,82.1 323.0,81.9 323.3,81.7 323.5,81.5 323.8,81.2 324.0,81.0 324.3,80.7 324.6,80.4 324.8,80.1 325.1,79.8 325.4,79.4 325.6,79.0 325.9,78.6 326.2,78.2 326.4,77.8 326.7,77.3 327.0,76.8 327.2,76.3 327.5,75.7 327.8,75.2 328.0,74.6 328.3,74.0 328.5,73.4 328.8,72.7 329.1,72.0 329.3,71.4 329.6,70.6 329.9,69.9 330.1,69.2 330.4,68.5 330.7,67.7 330.9,66.9 331.2,66.2 331.5,65.4 331.7,64.6 332.0,63.9 332.3,63.1 332.5,62.4 332.8,61.6 333.0,60.9 333.3,60.2 333.6,59.5 333.8,58.9 334.1,58.2 334.4,57.6 334.6,57.0 334.9,56.5 335.2,56.0 335.4,55.5 335.7,55.1 336.0,54.7 336.2,54.4 336.5,54.1 336.8,53.9 337.0,53.7 337.3,53.6 337.5,53.5 337.8,53.5 338.1,53.6 338.3,53.8 338.6,54.1 338.9,54.5 339.1,55.0 339.4,55.5 339.7,56.1 339.9,56.7 340.2,57.3 340.5,57.9 340.7,58.5 341.0,59.2 341.3,59.8 341.5,60.4 341.8,61.1 342.0,61.7 342.3,62.3 342.6,62.9 342.8,63.5 343.1,64.1 343.4,64.6 343.6,65.2 343.9,65.8 344.2,66.3 344.4,66.8 344.7,67.3 345.0,67.8 345.2,68.3 345.5,68.8 345.8,69.2 346.0,69.7 346.3,70.1 346.6,70.5 346.8,70.9 347.1,71.3 347.3,71.7 347.6,72.1 347.9,72.5 348.1,72.8 348.4,73.2 348.7,73.5 348.9,73.8 349.2,74.2 349.5,74.5 349.7,74.8 350.0,75.1 350.3,75.3 350.5,75.6 350.8,75.9 351.1,76.1 351.3,76.4 351.6,76.6 351.8,76.8 352.1,77.1 352.4,77.3 352.6,77.5 352.9,77.7 353.2,77.9 353.4,78.1 353.7,78.3 354.0,78.5 354.2,78.6 354.5,78.8 354.8,79.0 355.0,79.1 355.3,79.3 355.6,79.4 355.8,79.6 356.1,79.7 356.3,79.8 356.6,80.0 356.9,80.1 357.1,80.2 357.4,80.3 357.7,80.5 357.9,80.6 358.2,80.7 358.5,80.8 358.7,80.9 359.0,81.0 359.3,81.1 359.5,81.2 359.8,81.2 360.1,81.3 360.3,81.4 360.6,81.5 360.8,81.6 361.1,81.7 361.4,81.7 361.6,81.8 361.9,81.9 362.2,81.9 362.4,82.0 362.7,82.1 363.0,82.1 363.2,82.2 363.5,82.2 363.8,82.3 364.0,82.3 364.3,82.4 364.6,82.4 364.8,82.5 365.1,82.5 365.3,82.6 365.6,82.6 365.9,82.7 366.1,82.7 366.4,82.7 366.7,82.8 366.9,82.8 367.2,82.8 367.5,82.9 367.7,82.9 368.0,82.9 368.3,83.0 368.5,83.0 368.8,83.0 369.1,83.1 369.3,83.1 369.6,83.1 369.8,83.1 370.1,83.2 370.4,83.2 370.6,83.2 370.9,83.2 371.2,83.3 371.4,83.3 371.7,83.3 372.0,83.3 372.2,83.3 372.5,83.4 372.8,83.4 373.0,83.4 373.3,83.4 373.6,83.4 373.8,83.4 374.1,83.5 374.3,83.5 374.6,83.5 374.9,83.5 375.1,83.5 375.4,83.5 375.7,83.5 375.9,83.5 376.2,83.6 376.5,83.6 376.7,83.6 377.0,83.6 377.3,83.6 377.5,83.6 377.8,83.6 378.1,83.6 378.3,83.6 378.6,83.6 378.8,83.7 379.1,83.7 379.4,83.7 379.6,83.7 379.9,83.7 380.2,83.7 380.4,83.7 380.7,83.7 381.0,83.7 381.2,83.7 381.5,83.7 381.8,83.7 382.0,83.7 382.3,83.7 382.6,83.7 382.8,83.8 383.1,83.8 383.4,83.8 383.6,83.8 383.9,83.8 384.1,83.8 384.4,83.8 384.7,83.8 384.9,83.8 385.2,83.8 385.5,83.8 385.7,83.8 386.0,83.8 386.3,83.8 386.5,83.8 386.8,83.8 387.1,83.8 387.3,83.8 387.6,83.8 387.9,83.8 388.1,83.8 388.4,83.8 388.6,83.8 388.9,83.8 389.2,83.8 389.4,83.8 389.7,83.8 390.0,83.8 390.2,83.8 390.5,83.8 390.8,83.8 391.0,83.8 391.3,83.8 391.6,83.9 391.8,83.9 392.1,83.9 392.4,83.9 392.6,83.9 392.9,83.9 393.1,83.9 393.4,83.9 393.7,83.9 393.9,83.9 394.2,83.9 394.5,83.9" fill="none" stroke="#1f7a2c" stroke-width="1.1" stroke-linejoin="round" />
<path d="M293.6,83.9 293.9,83.9 294.1,83.9 294.4,83.9 294.7,83.9 294.9,83.9 295.2,83.9 295.5,83.9 295.7,83.9 296.0,83.9 296.2,83.9 296.5,83.9 296.8,83.9 297.0,83.9 297.3,83.9 297.6,83.9 297.8,83.9 298.1,83.9 298.4,83.9 298.6,83.9 298.9,83.9 299.2,83.9 299.4,83.9 299.7,83.9 300.0,83.9 300.2,83.9 300.5,83.9 300.7,83.9 301.0,83.9 301.3,83.9 301.5,83.9 301.8,83.9 302.1,83.9 302.3,83.9 302.6,83.9 302.9,83.9 303.1,83.9 303.4,83.9 303.7,83.9 303.9,83.9 304.2,83.9 304.5,83.9 304.7,83.9 305.0,83.9 305.2,83.9 305.5,83.9 305.8,83.9 306.0,83.9 306.3,83.9 306.6,83.9 306.8,83.9 307.1,83.9 307.4,83.9 307.6,83.9 307.9,83.9 308.2,83.9 308.4,83.9 308.7,83.9 309.0,83.9 309.2,83.9 309.5,83.9 309.7,83.9 310.0,83.9 310.3,83.9 310.5,83.9 310.8,83.9 311.1,83.9 311.3,83.9 311.6,83.9 311.9,83.9 312.1,83.9 312.4,83.9 312.7,83.9 312.9,83.9 313.2,83.9 313.5,83.9 313.7,83.9 314.0,83.9 314.3,83.9 314.5,83.9 314.8,83.9 315.0,83.9 315.3,83.9 315.6,83.9 315.8,83.9 316.1,83.9 316.4,83.8 316.6,83.8 316.9,83.8 317.2,83.8 317.4,83.8 317.7,83.8 318.0,83.8 318.2,83.8 318.5,83.7 318.8,83.7 319.0,83.7 319.3,83.6 319.5,83.6 319.8,83.6 320.1,83.5 320.3,83.5 320.6,83.4 320.9,83.3 321.1,83.2 321.4,83.2 321.7,83.1 321.9,83.0 322.2,82.8 322.5,82.7 322.7,82.6 323.0,82.4 323.3,82.3 323.5,82.1 323.8,81.9 324.0,81.6 324.3,81.4 324.6,81.1 324.8,80.9 325.1,80.6 325.4,80.2 325.6,79.9 325.9,79.5 326.2,79.1 326.4,78.7 326.7,78.2 327.0,77.8 327.2,77.3 327.5,76.7 327.8,76.2 328.0,75.6 328.3,75.0 328.5,74.3 328.8,73.7 329.1,73.0 329.3,72.3 329.6,71.5 329.9,70.8 330.1,70.0 330.4,69.2 330.7,68.4 330.9,67.6 331.2,66.8 331.5,66.0 331.7,65.1 332.0,64.3 332.3,63.5 332.5,62.7 332.8,61.9 333.0,61.1 333.3,60.3 333.6,59.6 333.8,58.9 334.1,58.2 334.4,57.6 334.6,56.9 334.9,56.4 335.2,55.8 335.4,55.4 335.7,54.9 336.0,54.5 336.2,54.2 336.5,54.0 336.8,53.7 337.0,53.6 337.3,53.5 337.5,53.5 337.8,53.6 338.1,53.8 338.3,54.1 338.6,54.5 338.9,55.0 339.1,55.5 339.4,56.1 339.7,56.7 339.9,57.3 340.2,57.9 340.5,58.5 340.7,59.2 341.0,59.8 341.3,60.4 341.5,61.1 341.8,61.7 342.0,62.3 342.3,62.9 342.6,63.5 342.8,64.1 343.1,64.6 343.4,65.2 343.6,65.8 343.9,66.3 344.2,66.8 344.4,67.3 344.7,67.8 345.0,68.3 345.2,68.8 345.5,69.2 345.8,69.7 346.0,70.1 346.3,70.5 346.6,70.9 346.8,71.3 347.1,71.7 347.3,72.1 347.6,72.5 347.9,72.8 348.1,73.2 348.4,73.5 348.7,73.8 348.9,74.2 349.2,74.5 349.5,74.8 349.7,75.1 350.0,75.3 350.3,75.6 350.5,75.9 350.8,76.1 351.1,76.4 351.3,76.6 351.6,76.8 351.8,77.1 352.1,77.3 352.4,77.5 352.6,77.7 352.9,77.9 353.2,78.1 353.4,78.3 353.7,78.5 354.0,78.6 354.2,78.8 354.5,79.0 354.8,79.1 355.0,79.3 355.3,79.4 355.6,79.6 355.8,79.7 356.1,79.8 356.3,80.0 356.6,80.1 356.9,80.2 357.1,80.3 357.4,80.5 357.7,80.6 357.9,80.7 358.2,80.8 358.5,80.9 358.7,81.0 359.0,81.1 359.3,81.2 359.5,81.2 359.8,81.3 360.1,81.4 360.3,81.5 360.6,81.6 360.8,81.7 361.1,81.7 361.4,81.8 361.6,81.9 361.9,81.9 362.2,82.0 362.4,82.1 362.7,82.1 363.0,82.2 363.2,82.2 363.5,82.3 363.8,82.3 364.0,82.4 364.3,82.4 364.6,82.5 364.8,82.5 365.1,82.6 365.3,82.6 365.6,82.7 365.9,82.7 366.1,82.7 366.4,82.8 366.7,82.8 366.9,82.8 367.2,82.9 367.5,82.9 367.7,82.9 368.0,83.0 368.3,83.0 368.5,83.0 368.8,83.1 369.1,83.1 369.3,83.1 369.6,83.1 369.8,83.2 370.1,83.2 370.4,83.2 370.6,83.2 370.9,83.3 371.2,83.3 371.4,83.3 371.7,83.3 372.0,83.3 372.2,83.4 372.5,83.4 372.8,83.4 373.0,83.4 373.3,83.4 373.6,83.4 373.8,83.5 374.1,83.5 374.3,83.5 374.6,83.5 374.9,83.5 375.1,83.5 375.4,83.5 375.7,83.5 375.9,83.6 376.2,83.6 376.5,83.6 376.7,83.6 377.0,83.6 377.3,83.6 377.5,83.6 377.8,83.6 378.1,83.6 378.3,83.6 378.6,83.7 378.8,83.7 379.1,83.7 379.4,83.7 379.6,83.7 379.9,83.7 380.2,83.7 380.4,83.7 380.7,83.7 381.0,83.7 381.2,83.7 381.5,83.7 381.8,83.7 382.0,83.7 382.3,83.7 382.6,83.8 382.8,83.8 383.1,83.8 383.4,83.8 383.6,83.8 383.9,83.8 384.1,83.8 384.4,83.8 384.7,83.8 384.9,83.8 385.2,83.8 385.5,83.8 385.7,83.8 386.0,83.8 386.3,83.8 386.5,83.8 386.8,83.8 387.1,83.8 387.3,83.8 387.6,83.8 387.9,83.8 388.1,83.8 388.4,83.8 388.6,83.8 388.9,83.8 389.2,83.8 389.4,83.8 389.7,83.8 390.0,83.8 390.2,83.8 390.5,83.8 390.8,83.8 391.0,83.8 391.3,83.9 391.6,83.9 391.8,83.9 392.1,83.9 392.4,83.9 392.6,83.9 392.9,83.9 393.1,83.9 393.4,83.9 393.7,83.9 393.9,83.9 394.2,83.9 394.5,83.9" fill="none" stroke="#9ae69a" stroke-width="1.1" stroke-linejoin="round" stroke-dasharray="1.3,1"/>
<path d="M293.60,126.50 H399.50 V41.30 H293.60" fill="none" stroke="#9c9c9c" stroke-width="1"/>
<line x1="293.60" y1="40.80" x2="293.60" y2="127.50" stroke="#9cbcbc" stroke-width="1.0" />
<line x1="291.00" y1="120.41" x2="293.60" y2="120.41" stroke="#7a8a8a" stroke-width="1" />
<text x="290.40" y="124.11" font-size="10.5" text-anchor="end" fill="#0a0a0a" >-30</text>
<line x1="292.00" y1="111.29" x2="293.60" y2="111.29" stroke="#7a8a8a" stroke-width="1" />
<line x1="291.00" y1="102.16" x2="293.60" y2="102.16" stroke="#7a8a8a" stroke-width="1" />
<text x="290.40" y="105.86" font-size="10.5" text-anchor="end" fill="#0a0a0a" >-15</text>
<line x1="292.00" y1="93.03" x2="293.60" y2="93.03" stroke="#7a8a8a" stroke-width="1" />
<line x1="291.00" y1="83.90" x2="293.60" y2="83.90" stroke="#7a8a8a" stroke-width="1" />
<text x="290.40" y="87.60" font-size="10.5" text-anchor="end" fill="#0a0a0a" >0</text>
<line x1="292.00" y1="74.77" x2="293.60" y2="74.77" stroke="#7a8a8a" stroke-width="1" />
<line x1="291.00" y1="65.64" x2="293.60" y2="65.64" stroke="#7a8a8a" stroke-width="1" />
<text x="290.40" y="69.34" font-size="10.5" text-anchor="end" fill="#0a0a0a" >15</text>
<line x1="292.00" y1="56.51" x2="293.60" y2="56.51" stroke="#7a8a8a" stroke-width="1" />
<line x1="291.00" y1="47.39" x2="293.60" y2="47.39" stroke="#7a8a8a" stroke-width="1" />
<text x="290.40" y="51.09" font-size="10.5" text-anchor="end" fill="#0a0a0a" >30</text>
<text x="293.60" y="138.00" font-size="10.5" text-anchor="middle" fill="#0a0a0a" >0</text>
<line x1="320.08" y1="126.50" x2="320.08" y2="128.00" stroke="#8c8c8c" stroke-width="1" />
<line x1="346.55" y1="126.50" x2="346.55" y2="128.00" stroke="#8c8c8c" stroke-width="1" />
<text x="346.55" y="138.00" font-size="10.5" text-anchor="middle" fill="#0a0a0a" >20</text>
<line x1="373.02" y1="126.50" x2="373.02" y2="128.00" stroke="#8c8c8c" stroke-width="1" />
<text x="399.50" y="138.00" font-size="10.5" text-anchor="middle" fill="#0a0a0a" >40</text>
<text x="295.80" y="51.70" font-size="11.6" text-anchor="start" fill="#0a0a0a" >Au</text>
<text x="342.10" y="0.00" font-size="10.5" text-anchor="start" fill="#1a1a1a" ></text>
<text x="342.20" y="39.20" font-size="10.4" text-anchor="middle" fill="#0a0a0a" >2.7 fs</text>
<text x="342.70" y="50.40" font-size="10" text-anchor="start" fill="#1e1e1e" >E</text>
<text x="349.30" y="51.80" font-size="5.5" text-anchor="start" fill="#1e1e1e" >x</text>
<text x="398.50" y="50.40" font-size="10" text-anchor="end" fill="#1e1e1e" >2.7 fs x10</text>
<line x1="358.90" y1="54.90" x2="376.80" y2="54.90" stroke="#2a2a2a" stroke-width="2.2" />
<text x="422.60" y="36.70" font-size="14" text-anchor="start" font-weight="bold" fill="#0a0a0a" >(b2)</text>
<path d="M424.5,83.9 424.8,83.9 425.0,83.9 425.3,83.9 425.6,83.9 425.8,83.9 426.1,83.9 426.4,83.9 426.6,83.9 426.9,83.9 427.1,83.9 427.4,83.9 427.7,83.9 427.9,83.9 428.2,83.9 428.5,83.9 428.7,83.9 429.0,83.9 429.3,83.9 429.5,83.9 429.8,83.9 430.1,83.9 430.3,83.9 430.6,83.9 430.9,83.9 431.1,83.9 431.4,83.9 431.6,83.9 431.9,83.9 432.2,83.9 432.4,83.9 432.7,83.9 433.0,83.9 433.2,83.9 433.5,83.9 433.8,83.9 434.0,83.9 434.3,83.9 434.6,83.9 434.8,83.9 435.1,83.9 435.4,83.9 435.6,83.9 435.9,83.9 436.1,83.9 436.4,83.9 436.7,83.9 436.9,83.9 437.2,83.9 437.5,83.9 437.7,83.9 438.0,83.9 438.3,83.9 438.5,83.9 438.8,83.9 439.1,83.9 439.3,83.9 439.6,83.9 439.9,83.9 440.1,83.9 440.4,83.9 440.6,83.9 440.9,83.9 441.2,83.9 441.4,83.9 441.7,83.9 442.0,83.9 442.2,83.9 442.5,83.9 442.8,83.9 443.0,83.9 443.3,83.9 443.6,83.9 443.8,83.9 444.1,83.8 444.4,83.8 444.6,83.8 444.9,83.8 445.2,83.8 445.4,83.8 445.7,83.9 445.9,83.9 446.2,83.9 446.5,84.0 446.7,84.0 447.0,84.1 447.3,84.1 447.5,84.2 447.8,84.2 448.1,84.3 448.3,84.3 448.6,84.2 448.9,84.2 449.1,84.1 449.4,84.0 449.7,83.8 449.9,83.6 450.2,83.4 450.4,83.2 450.7,83.0 451.0,82.7 451.2,82.6 451.5,82.4 451.8,82.4 452.0,82.5 452.3,82.7 452.6,83.0 452.8,83.4 453.1,83.9 453.4,84.6 453.6,85.3 453.9,86.1 454.2,86.8 454.4,87.5 454.7,88.1 454.9,88.5 455.2,88.6 455.5,88.4 455.7,87.9 456.0,87.0 456.3,85.9 456.5,84.4 456.8,82.6 457.1,80.7 457.3,78.7 457.6,76.8 457.9,75.1 458.1,73.7 458.4,72.8 458.7,72.5 458.9,72.9 459.2,74.0 459.4,75.9 459.7,78.5 460.0,81.7 460.2,85.3 460.5,89.3 460.8,93.2 461.0,97.0 461.3,100.4 461.6,103.0 461.8,104.7 462.1,105.3 462.4,104.6 462.6,102.7 462.9,99.5 463.2,95.1 463.4,89.8 463.7,83.7 463.9,77.4 464.2,71.0 464.5,65.1 464.7,60.0 465.0,56.0 465.3,53.5 465.5,52.6 465.8,53.5 466.1,56.2 466.3,60.6 466.6,66.5 466.9,73.5 467.1,81.3 467.4,89.4 467.7,97.3 467.9,104.6 468.2,110.8 468.4,115.5 468.7,118.4 469.0,119.4 469.2,118.4 469.5,115.5 469.8,110.7 470.0,104.6 470.3,97.3 470.6,89.4 470.8,81.3 471.1,73.5 471.4,66.4 471.6,60.5 471.9,56.0 472.2,53.2 472.4,52.2 472.7,52.9 472.9,55.3 473.2,59.3 473.5,64.4 473.7,70.5 474.0,77.0 474.3,83.7 474.5,90.2 474.8,96.1 475.1,101.1 475.3,104.9 475.6,107.4 475.9,108.6 476.1,108.3 476.4,106.7 476.7,104.0 476.9,100.2 477.2,95.8 477.4,90.8 477.7,85.8 478.0,80.8 478.2,76.3 478.5,72.4 478.8,69.3 479.0,67.2 479.3,66.0 479.6,65.9 479.8,66.8 480.1,68.6 480.4,71.1 480.6,74.2 480.9,77.7 481.2,81.3 481.4,84.9 481.7,88.2 482.0,91.1 482.2,93.5 482.5,95.3 482.7,96.3 483.0,96.6 483.3,96.2 483.5,95.1 483.8,93.5 484.1,91.5 484.3,89.1 484.6,86.6 484.9,84.1 485.1,81.7 485.4,79.6 485.7,77.8 485.9,76.4 486.2,75.6 486.5,75.2 486.7,75.3 487.0,75.9 487.2,76.9 487.5,78.2 487.8,79.8 488.0,81.5 488.3,83.2 488.6,84.8 488.8,86.4 489.1,87.7 489.4,88.7 489.6,89.4 489.9,89.7 490.2,89.8 490.4,89.5 490.7,88.9 491.0,88.1 491.2,87.1 491.5,86.0 491.7,84.8 492.0,83.6 492.3,82.6 492.5,81.7 492.8,80.9 493.1,80.4 493.3,80.0 493.6,79.9 493.9,80.1 494.1,80.4 494.4,80.9 494.7,81.5 494.9,82.3 495.2,83.0 495.5,83.8 495.7,84.5 496.0,85.2 496.2,85.7 496.5,86.1 496.8,86.4 497.0,86.5 497.3,86.5 497.6,86.3 497.8,86.0 498.1,85.6 498.4,85.2 498.6,84.7 498.9,84.1 499.2,83.6 499.4,83.2 499.7,82.8 500.0,82.5 500.2,82.3 500.5,82.2 500.7,82.2 501.0,82.3 501.3,82.4 501.5,82.7 501.8,83.0 502.1,83.3 502.3,83.6 502.6,84.0 502.9,84.3 503.1,84.5 503.4,84.8 503.7,84.9 503.9,85.0 504.2,85.0 504.5,85.0 504.7,84.9 505.0,84.8 505.2,84.6 505.5,84.4 505.8,84.2 506.0,83.9 506.3,83.7 506.6,83.5 506.8,83.4 507.1,83.3 507.4,83.2 507.6,83.2 507.9,83.2 508.2,83.2 508.4,83.3 508.7,83.4 509.0,83.5 509.2,83.7 509.5,83.8 509.7,84.0 510.0,84.1 510.3,84.2 510.5,84.3 510.8,84.4 511.1,84.4 511.3,84.4 511.6,84.4 511.9,84.3 512.1,84.3 512.4,84.2 512.7,84.1 512.9,84.0 513.2,83.9 513.5,83.8 513.7,83.7 514.0,83.7 514.3,83.6 514.5,83.6 514.8,83.6 515.0,83.6 515.3,83.6 515.6,83.7 515.8,83.7 516.1,83.8 516.4,83.8 516.6,83.9 516.9,83.9 517.2,84.0 517.4,84.0 517.7,84.1 518.0,84.1 518.2,84.1 518.5,84.1 518.8,84.1 519.0,84.1 519.3,84.0 519.5,84.0 519.8,84.0 520.1,83.9 520.3,83.9 520.6,83.8 520.9,83.8 521.1,83.8 521.4,83.8 521.7,83.8 521.9,83.8 522.2,83.8 522.5,83.8 522.7,83.8 523.0,83.8 523.3,83.8 523.5,83.9 523.8,83.9 524.0,83.9 524.3,83.9 524.6,84.0 524.8,84.0 525.1,84.0 525.4,84.0 525.6,84.0 525.9,84.0 526.2,84.0 526.4,84.0 526.7,83.9 527.0,83.9 527.2,83.9 527.5,83.9 527.8,83.9 528.0,83.9 528.3,83.9 528.5,83.8 528.8,83.8" fill="none" stroke="#2b36c2" stroke-width="0.8" stroke-linejoin="round" />
<path d="M424.5,83.9 424.8,83.9 425.0,83.9 425.3,83.9 425.6,83.9 425.8,83.9 426.1,83.9 426.4,83.9 426.6,83.9 426.9,83.9 427.1,83.9 427.4,83.9 427.7,83.9 427.9,83.9 428.2,83.9 428.5,83.9 428.7,83.9 429.0,83.9 429.3,83.9 429.5,83.9 429.8,83.9 430.1,83.9 430.3,83.9 430.6,83.9 430.9,83.9 431.1,83.9 431.4,83.9 431.6,83.9 431.9,83.9 432.2,83.9 432.4,83.9 432.7,83.9 433.0,83.9 433.2,83.9 433.5,83.9 433.8,83.9 434.0,83.9 434.3,83.9 434.6,83.9 434.8,83.9 435.1,83.9 435.4,83.9 435.6,83.9 435.9,83.9 436.1,83.9 436.4,83.9 436.7,83.9 436.9,83.9 437.2,83.9 437.5,83.9 437.7,83.9 438.0,83.9 438.3,83.9 438.5,83.9 438.8,83.9 439.1,83.9 439.3,83.9 439.6,83.9 439.9,83.9 440.1,83.9 440.4,83.9 440.6,83.9 440.9,83.9 441.2,83.9 441.4,83.9 441.7,83.9 442.0,83.9 442.2,83.9 442.5,83.9 442.8,83.9 443.0,83.9 443.3,83.9 443.6,83.9 443.8,83.9 444.1,83.9 444.4,83.9 444.6,83.9 444.9,83.9 445.2,83.9 445.4,83.9 445.7,83.9 445.9,83.9 446.2,83.9 446.5,84.0 446.7,84.0 447.0,84.0 447.3,84.1 447.5,84.1 447.8,84.1 448.1,84.2 448.3,84.2 448.6,84.1 448.9,84.1 449.1,84.0 449.4,83.9 449.7,83.8 449.9,83.7 450.2,83.5 450.4,83.4 450.7,83.2 451.0,83.1 451.2,83.0 451.5,82.9 451.8,82.9 452.0,83.0 452.3,83.1 452.6,83.3 452.8,83.6 453.1,84.0 453.4,84.4 453.6,84.9 453.9,85.4 454.2,85.8 454.4,86.2 454.7,86.5 454.9,86.7 455.2,86.7 455.5,86.6 455.7,86.2 456.0,85.7 456.3,84.9 456.5,84.0 456.8,83.0 457.1,81.9 457.3,80.8 457.6,79.8 457.9,79.0 458.1,78.3 458.4,77.9 458.7,77.9 458.9,78.2 459.2,78.9 459.4,80.0 459.7,81.4 460.0,83.1 460.2,84.9 460.5,86.8 460.8,88.6 461.0,90.3 461.3,91.7 461.6,92.7 461.8,93.3 462.1,93.3 462.4,92.8 462.6,91.7 462.9,90.2 463.2,88.2 463.4,85.9 463.7,83.5 463.9,81.0 464.2,78.6 464.5,76.5 464.7,74.8 465.0,73.6 465.3,73.0 465.5,73.0 465.8,73.6 466.1,74.8 466.3,76.5 466.6,78.6 466.9,81.0 467.1,83.5 467.4,85.9 467.7,88.2 467.9,90.2 468.2,91.7 468.4,92.8 468.7,93.3 469.0,93.3 469.2,92.7 469.5,91.7 469.8,90.3 470.0,88.6 470.3,86.8 470.6,84.9 470.8,83.1 471.1,81.4 471.4,80.0 471.6,78.9 471.9,78.2 472.2,77.9 472.4,77.9 472.7,78.3 472.9,79.0 473.2,79.8 473.5,80.8 473.7,81.9 474.0,83.0 474.3,84.0 474.5,84.9 474.8,85.7 475.1,86.2 475.3,86.6 475.6,86.7 475.9,86.7 476.1,86.5 476.4,86.2 476.7,85.8 476.9,85.4 477.2,84.9 477.4,84.4 477.7,84.0 478.0,83.6 478.2,83.3 478.5,83.1 478.8,83.0 479.0,82.9 479.3,82.9 479.6,83.0 479.8,83.1 480.1,83.2 480.4,83.4 480.6,83.5 480.9,83.7 481.2,83.8 481.4,83.9 481.7,84.0 482.0,84.1 482.2,84.1 482.5,84.2 482.7,84.2 483.0,84.1 483.3,84.1 483.5,84.1 483.8,84.0 484.1,84.0 484.3,84.0 484.6,83.9 484.9,83.9 485.1,83.9 485.4,83.9 485.7,83.9 485.9,83.9 486.2,83.9 486.5,83.9 486.7,83.9 487.0,83.9 487.2,83.9 487.5,83.9 487.8,83.9 488.0,83.9 488.3,83.9 488.6,83.9 488.8,83.9 489.1,83.9 489.4,83.9 489.6,83.9 489.9,83.9 490.2,83.9 490.4,83.9 490.7,83.9 491.0,83.9 491.2,83.9 491.5,83.9 491.7,83.9 492.0,83.9 492.3,83.9 492.5,83.9 492.8,83.9 493.1,83.9 493.3,83.9 493.6,83.9 493.9,83.9 494.1,83.9 494.4,83.9 494.7,83.9 494.9,83.9 495.2,83.9 495.5,83.9 495.7,83.9 496.0,83.9 496.2,83.9 496.5,83.9 496.8,83.9 497.0,83.9 497.3,83.9 497.6,83.9 497.8,83.9 498.1,83.9 498.4,83.9 498.6,83.9 498.9,83.9 499.2,83.9 499.4,83.9 499.7,83.9 500.0,83.9 500.2,83.9 500.5,83.9 500.7,83.9 501.0,83.9 501.3,83.9 501.5,83.9 501.8,83.9 502.1,83.9 502.3,83.9 502.6,83.9 502.9,83.9 503.1,83.9 503.4,83.9 503.7,83.9 503.9,83.9 504.2,83.9 504.5,83.9 504.7,83.9 505.0,83.9 505.2,83.9 505.5,83.9 505.8,83.9 506.0,83.9 506.3,83.9 506.6,83.9 506.8,83.9 507.1,83.9 507.4,83.9 507.6,83.9 507.9,83.9 508.2,83.9 508.4,83.9 508.7,83.9 509.0,83.9 509.2,83.9 509.5,83.9 509.7,83.9 510.0,83.9 510.3,83.9 510.5,83.9 510.8,83.9 511.1,83.9 511.3,83.9 511.6,83.9 511.9,83.9 512.1,83.9 512.4,83.9 512.7,83.9 512.9,83.9 513.2,83.9 513.5,83.9 513.7,83.9 514.0,83.9 514.3,83.9 514.5,83.9 514.8,83.9 515.0,83.9 515.3,83.9 515.6,83.9 515.8,83.9 516.1,83.9 516.4,83.9 516.6,83.9 516.9,83.9 517.2,83.9 517.4,83.9 517.7,83.9 518.0,83.9 518.2,83.9 518.5,83.9 518.8,83.9 519.0,83.9 519.3,83.9 519.5,83.9 519.8,83.9 520.1,83.9 520.3,83.9 520.6,83.9 520.9,83.9 521.1,83.9 521.4,83.9 521.7,83.9 521.9,83.9 522.2,83.9 522.5,83.9 522.7,83.9 523.0,83.9 523.3,83.9 523.5,83.9 523.8,83.9 524.0,83.9 524.3,83.9 524.6,83.9 524.8,83.9 525.1,83.9 525.4,83.9 525.6,83.9 525.9,83.9 526.2,83.9 526.4,83.9 526.7,83.9 527.0,83.9 527.2,83.9 527.5,83.9 527.8,83.9 528.0,83.9 528.3,83.9 528.5,83.9 528.8,83.9" fill="none" stroke="#333333" stroke-width="0.85" stroke-linejoin="round" />
<path d="M448.6,83.4 448.9,83.4 449.1,83.3 449.4,83.2 449.7,83.2 449.9,83.1 450.2,83.0 450.4,82.9 450.7,82.8 451.0,82.7 451.2,82.6 451.5,82.4 451.8,82.3 452.0,82.1 452.3,81.9 452.6,81.8 452.8,81.6 453.1,81.3 453.4,81.1 453.6,80.9 453.9,80.6 454.2,80.3 454.4,80.0 454.7,79.7 454.9,79.3 455.2,79.0 455.5,78.6 455.7,78.2 456.0,77.7 456.3,77.3 456.5,76.8 456.8,76.3 457.1,75.8 457.3,75.3 457.6,74.7 457.9,74.1 458.1,73.5 458.4,72.8 458.7,72.2 458.9,71.5 459.2,70.8 459.4,70.1 459.7,69.4 460.0,68.6 460.2,67.9 460.5,67.1 460.8,66.3 461.0,65.5 461.3,64.7 461.6,63.8 461.8,63.0 462.1,62.2 462.4,61.4 462.6,60.6 462.9,59.7 463.2,58.9 463.4,58.1 463.7,57.4 463.9,56.6 464.2,55.8 464.5,55.1 464.7,54.4 465.0,53.7 465.3,53.1 465.5,52.5 465.8,51.9 466.1,51.4 466.3,50.9 466.6,50.4 466.9,50.0 467.1,49.6 467.4,49.3 467.7,49.0 467.9,48.8 468.2,48.6 468.4,48.5 468.7,48.4 469.0,48.4 469.2,48.4 469.5,48.5 469.8,48.6 470.0,48.8 470.3,49.0 470.6,49.3 470.8,49.6 471.1,50.0 471.4,50.3 471.6,50.7 471.9,51.2 472.2,51.6 472.4,52.1 472.7,52.6 472.9,53.0 473.2,53.6 473.5,54.1 473.7,54.6 474.0,55.1 474.3,55.7 474.5,56.2 474.8,56.7 475.1,57.3 475.3,57.8 475.6,58.4 475.9,58.9 476.1,59.4 476.4,60.0 476.7,60.5 476.9,61.0 477.2,61.5 477.4,62.1 477.7,62.6 478.0,63.1 478.2,63.6 478.5,64.1 478.8,64.5 479.0,65.0 479.3,65.5 479.6,65.9 479.8,66.4 480.1,66.8 480.4,67.3 480.6,67.7 480.9,68.1 481.2,68.5 481.4,68.9 481.7,69.3 482.0,69.7 482.2,70.1 482.5,70.4 482.7,70.8 483.0,71.2 483.3,71.5 483.5,71.8 483.8,72.2 484.1,72.5 484.3,72.8 484.6,73.1 484.9,73.4 485.1,73.7 485.4,74.0 485.7,74.3 485.9,74.5 486.2,74.8 486.5,75.1 486.7,75.3 487.0,75.6 487.2,75.8 487.5,76.0 487.8,76.2 488.0,76.5 488.3,76.7 488.6,76.9 488.8,77.1 489.1,77.3 489.4,77.5 489.6,77.7 489.9,77.9 490.2,78.0 490.4,78.2 490.7,78.4 491.0,78.5 491.2,78.7 491.5,78.8 491.7,79.0 492.0,79.1 492.3,79.3 492.5,79.4 492.8,79.5 493.1,79.7 493.3,79.8 493.6,79.9 493.9,80.0 494.1,80.2 494.4,80.3 494.7,80.4 494.9,80.5 495.2,80.6 495.5,80.7 495.7,80.8 496.0,80.9 496.2,81.0 496.5,81.1 496.8,81.1 497.0,81.2 497.3,81.3 497.6,81.4 497.8,81.5 498.1,81.5 498.4,81.6 498.6,81.7 498.9,81.7 499.2,81.8 499.4,81.9 499.7,81.9 500.0,82.0 500.2,82.1 500.5,82.1 500.7,82.2 501.0,82.2 501.3,82.3 501.5,82.3 501.8,82.4 502.1,82.4 502.3,82.5 502.6,82.5 502.9,82.6 503.1,82.6 503.4,82.6 503.7,82.7 503.9,82.7 504.2,82.7 504.5,82.8 504.7,82.8 505.0,82.9 505.2,82.9 505.5,82.9 505.8,82.9 506.0,83.0 506.3,83.0 506.6,83.0 506.8,83.1 507.1,83.1 507.4,83.1 507.6,83.1 507.9,83.2 508.2,83.2 508.4,83.2 508.7,83.2 509.0,83.2 509.2,83.3 509.5,83.3 509.7,83.3 510.0,83.3 510.3,83.3 510.5,83.4 510.8,83.4 511.1,83.4 511.3,83.4 511.6,83.4 511.9,83.4 512.1,83.5 512.4,83.5 512.7,83.5 512.9,83.5 513.2,83.5 513.5,83.5 513.7,83.5 514.0,83.5 514.3,83.6 514.5,83.6 514.8,83.6 515.0,83.6 515.3,83.6 515.6,83.6 515.8,83.6 516.1,83.6 516.4,83.6 516.6,83.6 516.9,83.7 517.2,83.7 517.4,83.7 517.7,83.7 518.0,83.7 518.2,83.7 518.5,83.7 518.8,83.7 519.0,83.7 519.3,83.7 519.5,83.7 519.8,83.7 520.1,83.7 520.3,83.7 520.6,83.7 520.9,83.7 521.1,83.8 521.4,83.8 521.7,83.8 521.9,83.8 522.2,83.8 522.5,83.8 522.7,83.8 523.0,83.8 523.3,83.8 523.5,83.8 523.8,83.8 524.0,83.8 524.3,83.8 524.6,83.8 524.8,83.8 525.1,83.8 525.4,83.8 525.6,83.8 525.9,83.8 526.2,83.8 526.4,83.8 526.7,83.8 527.0,83.8 527.2,83.8 527.5,83.8 527.8,83.8 528.0,83.8 528.3,83.8 528.5,83.8 528.8,83.8" fill="none" stroke="#35984a" stroke-width="1.1" stroke-linejoin="round" />
<path d="M424.50,126.50 H530.40 V41.30 H424.50" fill="none" stroke="#9c9c9c" stroke-width="1"/>
<line x1="424.50" y1="40.80" x2="424.50" y2="127.50" stroke="#9cbcbc" stroke-width="1.0" />
<line x1="421.90" y1="120.41" x2="424.50" y2="120.41" stroke="#7a8a8a" stroke-width="1" />
<line x1="422.90" y1="111.29" x2="424.50" y2="111.29" stroke="#7a8a8a" stroke-width="1" />
<line x1="421.90" y1="102.16" x2="424.50" y2="102.16" stroke="#7a8a8a" stroke-width="1" />
<line x1="422.90" y1="93.03" x2="424.50" y2="93.03" stroke="#7a8a8a" stroke-width="1" />
<line x1="421.90" y1="83.90" x2="424.50" y2="83.90" stroke="#7a8a8a" stroke-width="1" />
<line x1="422.90" y1="74.77" x2="424.50" y2="74.77" stroke="#7a8a8a" stroke-width="1" />
<line x1="421.90" y1="65.64" x2="424.50" y2="65.64" stroke="#7a8a8a" stroke-width="1" />
<line x1="422.90" y1="56.51" x2="424.50" y2="56.51" stroke="#7a8a8a" stroke-width="1" />
<line x1="421.90" y1="47.39" x2="424.50" y2="47.39" stroke="#7a8a8a" stroke-width="1" />
<text x="424.50" y="138.00" font-size="10.5" text-anchor="middle" fill="#0a0a0a" >0</text>
<line x1="450.98" y1="126.50" x2="450.98" y2="128.00" stroke="#8c8c8c" stroke-width="1" />
<line x1="477.45" y1="126.50" x2="477.45" y2="128.00" stroke="#8c8c8c" stroke-width="1" />
<text x="477.45" y="138.00" font-size="10.5" text-anchor="middle" fill="#0a0a0a" >20</text>
<line x1="503.92" y1="126.50" x2="503.92" y2="128.00" stroke="#8c8c8c" stroke-width="1" />
<text x="530.40" y="138.00" font-size="10.5" text-anchor="middle" fill="#0a0a0a" >40</text>
<text x="0.00" y="0.00" font-size="10.5" text-anchor="start" fill="#1a1a1a" ></text>
<text x="472.20" y="39.20" font-size="10.4" text-anchor="middle" fill="#0a0a0a" >4 fs</text>
<text x="481.80" y="50.40" font-size="10" text-anchor="start" fill="#1e1e1e" >E</text>
<text x="488.40" y="51.80" font-size="5.5" text-anchor="start" fill="#1e1e1e" >x</text>
<text x="529.40" y="50.40" font-size="10" text-anchor="end" fill="#1e1e1e" >4 fs x10</text>
<line x1="495.20" y1="54.50" x2="513.70" y2="54.50" stroke="#2a2a2a" stroke-width="2.2" />
<text x="553.70" y="36.70" font-size="14" text-anchor="start" font-weight="bold" fill="#0a0a0a" >(b3)</text>
<path d="M555.6,83.9 555.9,83.9 556.1,83.9 556.4,83.9 556.7,83.9 556.9,83.9 557.2,83.9 557.5,83.9 557.7,83.9 558.0,83.9 558.3,83.9 558.5,83.9 558.8,83.9 559.1,83.9 559.3,83.9 559.6,83.9 559.9,83.9 560.1,83.9 560.4,83.9 560.7,83.9 560.9,83.9 561.2,83.9 561.5,83.9 561.7,83.9 562.0,83.8 562.3,83.8 562.5,83.8 562.8,83.9 563.1,83.9 563.3,83.9 563.6,83.9 563.9,83.9 564.1,84.0 564.4,84.0 564.7,84.0 564.9,84.0 565.2,84.1 565.5,84.1 565.7,84.1 566.0,84.1 566.3,84.0 566.5,84.0 566.8,84.0 567.1,83.9 567.3,83.8 567.6,83.8 567.9,83.7 568.1,83.6 568.4,83.5 568.7,83.5 568.9,83.4 569.2,83.4 569.5,83.4 569.7,83.5 570.0,83.6 570.3,83.7 570.5,83.8 570.8,84.0 571.1,84.2 571.3,84.4 571.6,84.6 571.9,84.8 572.1,84.9 572.4,85.0 572.7,85.1 572.9,85.1 573.2,85.0 573.5,84.8 573.7,84.6 574.0,84.2 574.3,83.8 574.5,83.4 574.8,82.9 575.1,82.5 575.3,82.0 575.6,81.7 575.9,81.4 576.1,81.2 576.4,81.2 576.7,81.4 576.9,81.7 577.2,82.2 577.5,82.9 577.7,83.7 578.0,84.6 578.3,85.6 578.5,86.6 578.8,87.5 579.1,88.3 579.3,88.9 579.6,89.3 579.9,89.3 580.1,89.1 580.4,88.5 580.7,87.6 580.9,86.4 581.2,84.9 581.5,83.2 581.7,81.3 582.0,79.5 582.2,77.8 582.5,76.2 582.8,75.0 583.0,74.3 583.3,74.0 583.6,74.3 583.8,75.2 584.1,76.7 584.4,78.7 584.6,81.3 584.9,84.1 585.2,87.2 585.4,90.3 585.7,93.3 586.0,95.9 586.2,98.0 586.5,99.4 586.8,100.0 587.0,99.7 587.3,98.5 587.6,96.3 587.8,93.3 588.1,89.5 588.4,85.2 588.6,80.5 588.9,75.8 589.2,71.2 589.4,67.2 589.7,63.9 590.0,61.6 590.2,60.4 590.5,60.6 590.8,62.1 591.0,64.9 591.3,69.0 591.6,74.1 591.8,80.0 592.1,86.3 592.4,92.8 592.6,99.1 592.9,104.7 593.2,109.3 593.4,112.7 593.7,114.6 594.0,114.7 594.2,113.1 594.5,109.8 594.8,105.0 595.0,98.8 595.3,91.5 595.6,83.7 595.8,75.7 596.1,67.9 596.4,60.9 596.6,55.0 596.9,50.7 597.2,48.1 597.4,47.5 597.7,48.9 598.0,52.4 598.2,57.6 598.5,64.4 598.8,72.3 599.0,81.0 599.3,89.9 599.6,98.6 599.8,106.4 600.1,113.1 600.4,118.1 600.6,121.3 600.9,122.4 601.2,121.3 601.4,118.1 601.7,113.0 602.0,106.4 602.2,98.5 602.5,89.9 602.8,81.0 603.0,72.4 603.3,64.6 603.6,57.9 603.8,52.8 604.1,49.5 604.4,48.1 604.6,48.7 604.9,51.3 605.2,55.6 605.4,61.4 605.7,68.3 606.0,75.9 606.2,83.7 606.5,91.3 606.8,98.4 607.0,104.4 607.3,109.2 607.6,112.4 607.8,114.0 608.1,113.9 608.4,112.1 608.6,108.8 608.9,104.3 609.2,98.8 609.4,92.7 609.7,86.3 610.0,80.0 610.2,74.1 610.5,69.0 610.8,64.8 611.0,61.9 611.3,60.2 611.6,59.9 611.8,61.0 612.1,63.2 612.4,66.5 612.6,70.6 612.9,75.3 613.2,80.3 613.4,85.2 613.7,89.9 614.0,94.1 614.2,97.6 614.5,100.1 614.8,101.7 615.0,102.2 615.3,101.7 615.6,100.3 615.8,98.0 616.1,95.1 616.4,91.7 616.6,87.9 616.9,84.2 617.2,80.6 617.4,77.3 617.7,74.5 618.0,72.4 618.2,71.0 618.5,70.3 618.8,70.4 619.0,71.3 619.3,72.8 619.6,74.8 619.8,77.3 620.1,80.0 620.4,82.7 620.6,85.4 620.9,87.9 621.2,90.1 621.4,91.8 621.7,93.1 622.0,93.7 622.2,93.8 622.5,93.4 622.8,92.4 623.0,91.0 623.3,89.4 623.6,87.5 623.8,85.5 624.1,83.5 624.4,81.6 624.6,79.9 624.9,78.6 625.2,77.6 625.4,77.0 625.7,76.8 626.0,77.0 626.2,77.5 626.5,78.4 626.8,79.5 627.0,80.9 627.3,82.3 627.6,83.7 627.8,85.1 628.1,86.3 628.4,87.4 628.6,88.2 628.9,88.7 629.2,89.0 629.4,88.9 629.7,88.6 630.0,88.0 630.2,87.3 630.5,86.4 630.8,85.4 631.0,84.4 631.3,83.4 631.6,82.5 631.8,81.7 632.1,81.1 632.4,80.6 632.6,80.4 632.9,80.3 633.2,80.5 633.4,80.8 633.7,81.3 634.0,81.9 634.2,82.6 634.5,83.3 634.8,84.0 635.0,84.7 635.3,85.3 635.6,85.8 635.8,86.1 636.1,86.3 636.3,86.4 636.6,86.3 636.9,86.1 637.1,85.8 637.4,85.4 637.7,85.0 637.9,84.5 638.2,84.0 638.5,83.5 638.7,83.1 639.0,82.7 639.3,82.4 639.5,82.2 639.8,82.2 640.1,82.2 640.3,82.3 640.6,82.5 640.9,82.7 641.1,83.0 641.4,83.4 641.7,83.7 641.9,84.1 642.2,84.4 642.5,84.6 642.7,84.9 643.0,85.0 643.3,85.1 643.5,85.1 643.8,85.1 644.1,84.9 644.3,84.8 644.6,84.6 644.9,84.3 645.1,84.1 645.4,83.9 645.7,83.6 645.9,83.4 646.2,83.3 646.5,83.2 646.7,83.1 647.0,83.1 647.3,83.1 647.5,83.1 647.8,83.3 648.1,83.4 648.3,83.5 648.6,83.7 648.9,83.9 649.1,84.0 649.4,84.2 649.7,84.3 649.9,84.4 650.2,84.4 650.5,84.5 650.7,84.5 651.0,84.4 651.3,84.4 651.5,84.3 651.8,84.2 652.1,84.1 652.3,84.0 652.6,83.9 652.9,83.8 653.1,83.7 653.4,83.6 653.7,83.5 653.9,83.5 654.2,83.5 654.5,83.5 654.7,83.6 655.0,83.6 655.3,83.7 655.5,83.8 655.8,83.8 656.1,83.9 656.3,84.0 656.6,84.0 656.9,84.1 657.1,84.1 657.4,84.2 657.7,84.2 657.9,84.2 658.2,84.1 658.5,84.1 658.7,84.1 659.0,84.0 659.3,84.0 659.5,83.9 659.8,83.9 660.1,83.8 660.3,83.8 660.6,83.7 660.9,83.7 661.1,83.7 661.4,83.7 661.7,83.7 661.9,83.7 662.2,83.8" fill="none" stroke="#2b36c2" stroke-width="0.8" stroke-linejoin="round" />
<path d="M555.6,83.9 555.9,83.9 556.1,83.9 556.4,83.9 556.7,83.9 556.9,83.9 557.2,83.9 557.5,83.9 557.7,83.9 558.0,83.9 558.3,83.9 558.5,83.9 558.8,83.9 559.1,83.9 559.3,83.9 559.6,83.9 559.9,83.9 560.1,83.9 560.4,83.9 560.7,83.9 560.9,83.9 561.2,83.9 561.5,83.9 561.7,83.9 562.0,83.9 562.3,83.9 562.5,83.9 562.8,83.9 563.1,83.9 563.3,83.9 563.6,83.9 563.9,83.9 564.1,83.9 564.4,83.9 564.7,83.9 564.9,83.9 565.2,83.9 565.5,83.9 565.7,83.9 566.0,83.9 566.3,83.9 566.5,83.9 566.8,83.9 567.1,83.9 567.3,83.9 567.6,83.9 567.9,83.9 568.1,83.9 568.4,83.9 568.7,83.9 568.9,83.9 569.2,83.9 569.5,83.9 569.7,83.9 570.0,83.9 570.3,83.9 570.5,83.9 570.8,83.9 571.1,84.0 571.3,84.0 571.6,84.0 571.9,84.0 572.1,84.0 572.4,84.0 572.7,84.0 572.9,84.0 573.2,83.9 573.5,83.9 573.7,83.9 574.0,83.8 574.3,83.8 574.5,83.7 574.8,83.7 575.1,83.6 575.3,83.6 575.6,83.6 575.9,83.6 576.1,83.6 576.4,83.7 576.7,83.7 576.9,83.8 577.2,84.0 577.5,84.1 577.7,84.2 578.0,84.4 578.3,84.5 578.5,84.7 578.8,84.8 579.1,84.8 579.3,84.8 579.6,84.8 579.9,84.6 580.1,84.4 580.4,84.2 580.7,83.9 580.9,83.5 581.2,83.1 581.5,82.8 581.7,82.4 582.0,82.1 582.2,81.9 582.5,81.7 582.8,81.7 583.0,81.8 583.3,82.1 583.6,82.5 583.8,83.0 584.1,83.7 584.4,84.4 584.6,85.2 584.9,86.0 585.2,86.8 585.4,87.4 585.7,87.9 586.0,88.2 586.2,88.2 586.5,88.0 586.8,87.6 587.0,86.8 587.3,85.9 587.6,84.7 587.8,83.4 588.1,82.0 588.4,80.7 588.6,79.4 588.9,78.3 589.2,77.5 589.4,77.0 589.7,76.9 590.0,77.2 590.2,77.8 590.5,78.9 590.8,80.4 591.0,82.1 591.3,83.9 591.6,85.9 591.8,87.9 592.1,89.7 592.4,91.2 592.6,92.4 592.9,93.1 593.2,93.3 593.4,93.0 593.7,92.1 594.0,90.8 594.2,89.0 594.5,87.0 594.8,84.7 595.0,82.3 595.3,80.0 595.6,77.9 595.8,76.1 596.1,74.7 596.4,73.8 596.6,73.6 596.9,73.8 597.2,74.7 597.4,76.1 597.7,77.9 598.0,80.0 598.2,82.3 598.5,84.7 598.8,87.0 599.0,89.0 599.3,90.8 599.6,92.1 599.8,93.0 600.1,93.3 600.4,93.1 600.6,92.4 600.9,91.2 601.2,89.7 601.4,87.9 601.7,85.9 602.0,83.9 602.2,82.1 602.5,80.4 602.8,78.9 603.0,77.8 603.3,77.2 603.6,76.9 603.8,77.0 604.1,77.5 604.4,78.3 604.6,79.4 604.9,80.7 605.2,82.0 605.4,83.4 605.7,84.7 606.0,85.9 606.2,86.8 606.5,87.6 606.8,88.0 607.0,88.2 607.3,88.2 607.6,87.9 607.8,87.4 608.1,86.8 608.4,86.0 608.6,85.2 608.9,84.4 609.2,83.7 609.4,83.0 609.7,82.5 610.0,82.1 610.2,81.8 610.5,81.7 610.8,81.7 611.0,81.9 611.3,82.1 611.6,82.4 611.8,82.8 612.1,83.1 612.4,83.5 612.6,83.9 612.9,84.2 613.2,84.4 613.4,84.6 613.7,84.8 614.0,84.8 614.2,84.8 614.5,84.8 614.8,84.7 615.0,84.5 615.3,84.4 615.6,84.2 615.8,84.1 616.1,84.0 616.4,83.8 616.6,83.7 616.9,83.7 617.2,83.6 617.4,83.6 617.7,83.6 618.0,83.6 618.2,83.6 618.5,83.7 618.8,83.7 619.0,83.8 619.3,83.8 619.6,83.9 619.8,83.9 620.1,83.9 620.4,84.0 620.6,84.0 620.9,84.0 621.2,84.0 621.4,84.0 621.7,84.0 622.0,84.0 622.2,84.0 622.5,83.9 622.8,83.9 623.0,83.9 623.3,83.9 623.6,83.9 623.8,83.9 624.1,83.9 624.4,83.9 624.6,83.9 624.9,83.9 625.2,83.9 625.4,83.9 625.7,83.9 626.0,83.9 626.2,83.9 626.5,83.9 626.8,83.9 627.0,83.9 627.3,83.9 627.6,83.9 627.8,83.9 628.1,83.9 628.4,83.9 628.6,83.9 628.9,83.9 629.2,83.9 629.4,83.9 629.7,83.9 630.0,83.9 630.2,83.9 630.5,83.9 630.8,83.9 631.0,83.9 631.3,83.9 631.6,83.9 631.8,83.9 632.1,83.9 632.4,83.9 632.6,83.9 632.9,83.9 633.2,83.9 633.4,83.9 633.7,83.9 634.0,83.9 634.2,83.9 634.5,83.9 634.8,83.9 635.0,83.9 635.3,83.9 635.6,83.9 635.8,83.9 636.1,83.9 636.3,83.9 636.6,83.9 636.9,83.9 637.1,83.9 637.4,83.9 637.7,83.9 637.9,83.9 638.2,83.9 638.5,83.9 638.7,83.9 639.0,83.9 639.3,83.9 639.5,83.9 639.8,83.9 640.1,83.9 640.3,83.9 640.6,83.9 640.9,83.9 641.1,83.9 641.4,83.9 641.7,83.9 641.9,83.9 642.2,83.9 642.5,83.9 642.7,83.9 643.0,83.9 643.3,83.9 643.5,83.9 643.8,83.9 644.1,83.9 644.3,83.9 644.6,83.9 644.9,83.9 645.1,83.9 645.4,83.9 645.7,83.9 645.9,83.9 646.2,83.9 646.5,83.9 646.7,83.9 647.0,83.9 647.3,83.9 647.5,83.9 647.8,83.9 648.1,83.9 648.3,83.9 648.6,83.9 648.9,83.9 649.1,83.9 649.4,83.9 649.7,83.9 649.9,83.9 650.2,83.9 650.5,83.9 650.7,83.9 651.0,83.9 651.3,83.9 651.5,83.9 651.8,83.9 652.1,83.9 652.3,83.9 652.6,83.9 652.9,83.9 653.1,83.9 653.4,83.9 653.7,83.9 653.9,83.9 654.2,83.9 654.5,83.9 654.7,83.9 655.0,83.9 655.3,83.9 655.5,83.9 655.8,83.9 656.1,83.9 656.3,83.9 656.6,83.9 656.9,83.9 657.1,83.9 657.4,83.9 657.7,83.9 657.9,83.9 658.2,83.9 658.5,83.9 658.7,83.9 659.0,83.9 659.3,83.9 659.5,83.9 659.8,83.9 660.1,83.9 660.3,83.9 660.6,83.9 660.9,83.9 661.1,83.9 661.4,83.9 661.7,83.9 661.9,83.9 662.2,83.9" fill="none" stroke="#333333" stroke-width="0.85" stroke-linejoin="round" />
<path d="M569.2,83.4 569.5,83.4 569.7,83.3 570.0,83.3 570.3,83.2 570.5,83.2 570.8,83.1 571.1,83.1 571.3,83.0 571.6,83.0 571.9,82.9 572.1,82.8 572.4,82.8 572.7,82.7 572.9,82.6 573.2,82.5 573.5,82.4 573.7,82.3 574.0,82.2 574.3,82.1 574.5,82.0 574.8,81.9 575.1,81.8 575.3,81.6 575.6,81.5 575.9,81.4 576.1,81.2 576.4,81.1 576.7,80.9 576.9,80.7 577.2,80.5 577.5,80.4 577.7,80.2 578.0,80.0 578.3,79.7 578.5,79.5 578.8,79.3 579.1,79.1 579.3,78.8 579.6,78.5 579.9,78.3 580.1,78.0 580.4,77.7 580.7,77.4 580.9,77.1 581.2,76.8 581.5,76.4 581.7,76.1 582.0,75.8 582.2,75.4 582.5,75.0 582.8,74.6 583.0,74.2 583.3,73.8 583.6,73.4 583.8,73.0 584.1,72.6 584.4,72.1 584.6,71.7 584.9,71.2 585.2,70.7 585.4,70.3 585.7,69.8 586.0,69.3 586.2,68.8 586.5,68.2 586.8,67.7 587.0,67.2 587.3,66.6 587.6,66.1 587.8,65.5 588.1,65.0 588.4,64.4 588.6,63.9 588.9,63.3 589.2,62.7 589.4,62.1 589.7,61.6 590.0,61.0 590.2,60.4 590.5,59.8 590.8,59.2 591.0,58.7 591.3,58.1 591.6,57.5 591.8,57.0 592.1,56.4 592.4,55.8 592.6,55.3 592.9,54.7 593.2,54.2 593.4,53.7 593.7,53.2 594.0,52.7 594.2,52.2 594.5,51.7 594.8,51.2 595.0,50.8 595.3,50.3 595.6,49.9 595.8,49.5 596.1,49.1 596.4,48.7 596.6,48.4 596.9,48.0 597.2,47.7 597.4,47.4 597.7,47.1 598.0,46.8 598.2,46.6 598.5,46.4 598.8,46.2 599.0,46.0 599.3,45.9 599.6,45.7 599.8,45.6 600.1,45.5 600.4,45.5 600.6,45.5 600.9,45.4 601.2,45.5 601.4,45.5 601.7,45.6 602.0,45.7 602.2,45.9 602.5,46.1 602.8,46.3 603.0,46.5 603.3,46.7 603.6,47.0 603.8,47.3 604.1,47.6 604.4,48.0 604.6,48.3 604.9,48.7 605.2,49.1 605.4,49.5 605.7,49.9 606.0,50.3 606.2,50.7 606.5,51.1 606.8,51.6 607.0,52.0 607.3,52.5 607.6,52.9 607.8,53.4 608.1,53.9 608.4,54.3 608.6,54.8 608.9,55.3 609.2,55.8 609.4,56.2 609.7,56.7 610.0,57.2 610.2,57.6 610.5,58.1 610.8,58.6 611.0,59.0 611.3,59.5 611.6,59.9 611.8,60.4 612.1,60.8 612.4,61.3 612.6,61.7 612.9,62.2 613.2,62.6 613.4,63.0 613.7,63.5 614.0,63.9 614.2,64.3 614.5,64.7 614.8,65.1 615.0,65.5 615.3,65.9 615.6,66.3 615.8,66.6 616.1,67.0 616.4,67.4 616.6,67.7 616.9,68.1 617.2,68.4 617.4,68.8 617.7,69.1 618.0,69.5 618.2,69.8 618.5,70.1 618.8,70.4 619.0,70.7 619.3,71.0 619.6,71.3 619.8,71.6 620.1,71.9 620.4,72.2 620.6,72.5 620.9,72.7 621.2,73.0 621.4,73.2 621.7,73.5 622.0,73.7 622.2,74.0 622.5,74.2 622.8,74.5 623.0,74.7 623.3,74.9 623.6,75.1 623.8,75.3 624.1,75.6 624.4,75.8 624.6,76.0 624.9,76.2 625.2,76.3 625.4,76.5 625.7,76.7 626.0,76.9 626.2,77.1 626.5,77.2 626.8,77.4 627.0,77.6 627.3,77.7 627.6,77.9 627.8,78.0 628.1,78.2 628.4,78.3 628.6,78.5 628.9,78.6 629.2,78.7 629.4,78.9 629.7,79.0 630.0,79.1 630.2,79.3 630.5,79.4 630.8,79.5 631.0,79.6 631.3,79.7 631.6,79.8 631.8,79.9 632.1,80.0 632.4,80.1 632.6,80.2 632.9,80.3 633.2,80.4 633.4,80.5 633.7,80.6 634.0,80.7 634.2,80.8 634.5,80.9 634.8,80.9 635.0,81.0 635.3,81.1 635.6,81.2 635.8,81.2 636.1,81.3 636.3,81.4 636.6,81.4 636.9,81.5 637.1,81.6 637.4,81.6 637.7,81.7 637.9,81.8 638.2,81.8 638.5,81.9 638.7,81.9 639.0,82.0 639.3,82.0 639.5,82.1 639.8,82.1 640.1,82.2 640.3,82.2 640.6,82.3 640.9,82.3 641.1,82.4 641.4,82.4 641.7,82.4 641.9,82.5 642.2,82.5 642.5,82.6 642.7,82.6 643.0,82.6 643.3,82.7 643.5,82.7 643.8,82.7 644.1,82.8 644.3,82.8 644.6,82.8 644.9,82.8 645.1,82.9 645.4,82.9 645.7,82.9 645.9,83.0 646.2,83.0 646.5,83.0 646.7,83.0 647.0,83.1 647.3,83.1 647.5,83.1 647.8,83.1 648.1,83.1 648.3,83.2 648.6,83.2 648.9,83.2 649.1,83.2 649.4,83.2 649.7,83.3 649.9,83.3 650.2,83.3 650.5,83.3 650.7,83.3 651.0,83.3 651.3,83.4 651.5,83.4 651.8,83.4 652.1,83.4 652.3,83.4 652.6,83.4 652.9,83.4 653.1,83.5 653.4,83.5 653.7,83.5 653.9,83.5 654.2,83.5 654.5,83.5 654.7,83.5 655.0,83.5 655.3,83.5 655.5,83.6 655.8,83.6 656.1,83.6 656.3,83.6 656.6,83.6 656.9,83.6 657.1,83.6 657.4,83.6 657.7,83.6 657.9,83.6 658.2,83.6 658.5,83.6 658.7,83.7 659.0,83.7 659.3,83.7 659.5,83.7 659.8,83.7 660.1,83.7 660.3,83.7 660.6,83.7 660.9,83.7 661.1,83.7 661.4,83.7 661.7,83.7 661.9,83.7 662.2,83.7" fill="none" stroke="#35984a" stroke-width="1.1" stroke-linejoin="round" />
<path d="M555.60,126.50 H662.20 V41.30 H555.60" fill="none" stroke="#9c9c9c" stroke-width="1"/>
<line x1="555.60" y1="40.80" x2="555.60" y2="127.50" stroke="#9cbcbc" stroke-width="1.0" />
<line x1="553.00" y1="120.41" x2="555.60" y2="120.41" stroke="#7a8a8a" stroke-width="1" />
<line x1="554.00" y1="111.29" x2="555.60" y2="111.29" stroke="#7a8a8a" stroke-width="1" />
<line x1="553.00" y1="102.16" x2="555.60" y2="102.16" stroke="#7a8a8a" stroke-width="1" />
<line x1="554.00" y1="93.03" x2="555.60" y2="93.03" stroke="#7a8a8a" stroke-width="1" />
<line x1="553.00" y1="83.90" x2="555.60" y2="83.90" stroke="#7a8a8a" stroke-width="1" />
<line x1="554.00" y1="74.77" x2="555.60" y2="74.77" stroke="#7a8a8a" stroke-width="1" />
<line x1="553.00" y1="65.64" x2="555.60" y2="65.64" stroke="#7a8a8a" stroke-width="1" />
<line x1="554.00" y1="56.51" x2="555.60" y2="56.51" stroke="#7a8a8a" stroke-width="1" />
<line x1="553.00" y1="47.39" x2="555.60" y2="47.39" stroke="#7a8a8a" stroke-width="1" />
<text x="555.60" y="138.00" font-size="10.5" text-anchor="middle" fill="#0a0a0a" >0</text>
<line x1="582.25" y1="126.50" x2="582.25" y2="128.00" stroke="#8c8c8c" stroke-width="1" />
<line x1="608.90" y1="126.50" x2="608.90" y2="128.00" stroke="#8c8c8c" stroke-width="1" />
<text x="608.90" y="138.00" font-size="10.5" text-anchor="middle" fill="#0a0a0a" >20</text>
<line x1="635.55" y1="126.50" x2="635.55" y2="128.00" stroke="#8c8c8c" stroke-width="1" />
<text x="662.20" y="138.00" font-size="10.5" text-anchor="middle" fill="#0a0a0a" >40</text>
<text x="0.00" y="0.00" font-size="10.5" text-anchor="start" fill="#1a1a1a" ></text>
<text x="602.80" y="39.20" font-size="10.4" text-anchor="middle" fill="#0a0a0a" >5 fs</text>
<text x="613.30" y="50.40" font-size="10" text-anchor="start" fill="#1e1e1e" >E</text>
<text x="619.90" y="51.80" font-size="5.5" text-anchor="start" fill="#1e1e1e" >x</text>
<text x="661.20" y="50.40" font-size="10" text-anchor="end" fill="#1e1e1e" >5 fs x10</text>
<line x1="626.80" y1="53.80" x2="645.20" y2="53.80" stroke="#2a2a2a" stroke-width="2.2" />
<text x="291.70" y="155.70" font-size="14" text-anchor="start" font-weight="bold" fill="#0a0a0a" >(c1)</text>
<path d="M292.5,202.1 292.8,202.1 293.0,202.1 293.3,202.1 293.6,202.1 293.8,202.1 294.1,202.1 294.4,202.1 294.6,202.1 294.9,202.1 295.1,202.1 295.4,202.1 295.7,202.1 295.9,202.1 296.2,202.1 296.5,202.1 296.7,202.1 297.0,202.1 297.3,202.1 297.5,202.1 297.8,202.1 298.1,202.1 298.3,202.1 298.6,202.1 298.9,202.1 299.1,202.1 299.4,202.1 299.6,202.1 299.9,202.1 300.2,202.1 300.4,202.1 300.7,202.1 301.0,202.1 301.2,202.1 301.5,202.1 301.8,202.1 302.0,202.1 302.3,202.1 302.6,202.1 302.8,202.1 303.1,202.1 303.4,202.1 303.6,202.1 303.9,202.1 304.1,202.1 304.4,202.1 304.7,202.1 304.9,202.1 305.2,202.1 305.5,202.1 305.7,202.1 306.0,202.1 306.3,202.1 306.5,202.1 306.8,202.1 307.1,202.1 307.3,202.1 307.6,202.1 307.9,202.1 308.1,202.1 308.4,202.1 308.6,202.1 308.9,202.1 309.2,202.1 309.4,202.1 309.7,202.1 310.0,202.2 310.2,202.2 310.5,202.2 310.8,202.3 311.0,202.3 311.3,202.3 311.6,202.3 311.8,202.3 312.1,202.2 312.4,202.2 312.6,202.1 312.9,202.0 313.2,201.9 313.4,201.8 313.7,201.7 313.9,201.6 314.2,201.5 314.5,201.4 314.7,201.4 315.0,201.4 315.3,201.4 315.5,201.5 315.8,201.7 316.1,201.9 316.3,202.2 316.6,202.6 316.9,202.9 317.1,203.3 317.4,203.7 317.7,204.0 317.9,204.3 318.2,204.4 318.4,204.4 318.7,204.3 319.0,204.0 319.2,203.5 319.5,202.8 319.8,202.0 320.0,201.1 320.3,200.1 320.6,199.1 320.8,198.1 321.1,197.2 321.4,196.6 321.6,196.2 321.9,196.1 322.2,196.4 322.4,197.1 322.7,198.2 322.9,199.7 323.2,201.5 323.5,203.6 323.7,205.9 324.0,208.1 324.3,210.2 324.5,212.1 324.8,213.5 325.1,214.4 325.3,214.6 325.6,214.1 325.9,212.7 326.1,210.7 326.4,207.9 326.7,204.5 326.9,200.6 327.2,196.6 327.4,192.5 327.7,188.7 328.0,185.5 328.2,183.0 328.5,181.4 328.8,181.0 329.0,181.8 329.3,183.8 329.6,187.0 329.8,191.3 330.1,196.5 330.4,202.2 330.6,208.3 330.9,214.2 331.2,219.8 331.4,224.5 331.7,228.1 331.9,230.3 332.2,231.0 332.5,230.1 332.7,227.5 333.0,223.4 333.3,218.0 333.5,211.6 333.8,204.5 334.1,197.1 334.3,189.9 334.6,183.4 334.9,177.8 335.1,173.5 335.4,170.9 335.7,170.0 335.9,171.0 336.2,173.8 336.4,178.3 336.7,184.0 337.0,190.5 337.2,197.4 337.5,204.3 337.8,210.7 338.0,216.3 338.3,220.8 338.6,224.1 338.8,225.9 339.1,226.4 339.4,225.4 339.6,223.3 339.9,220.1 340.2,216.1 340.4,211.6 340.7,206.9 340.9,202.2 341.2,197.8 341.5,193.9 341.7,190.7 342.0,188.4 342.3,186.9 342.5,186.4 342.8,186.7 343.1,187.9 343.3,189.8 343.6,192.2 343.9,195.0 344.1,198.0 344.4,201.0 344.7,203.9 344.9,206.5 345.2,208.6 345.4,210.3 345.7,211.4 346.0,212.0 346.2,211.9 346.5,211.3 346.8,210.3 347.0,208.9 347.3,207.2 347.6,205.4 347.8,203.5 348.1,201.6 348.4,199.9 348.6,198.5 348.9,197.3 349.2,196.5 349.4,196.0 349.7,195.9 350.0,196.2 350.2,196.7 350.5,197.5 350.7,198.5 351.0,199.7 351.3,200.8 351.5,202.0 351.8,203.1 352.1,204.1 352.3,204.9 352.6,205.4 352.9,205.8 353.1,205.9 353.4,205.9 353.7,205.6 353.9,205.1 354.2,204.5 354.5,203.9 354.7,203.1 355.0,202.4 355.2,201.7 355.5,201.1 355.8,200.5 356.0,200.1 356.3,199.9 356.6,199.7 356.8,199.7 357.1,199.9 357.4,200.1 357.6,200.5 357.9,200.9 358.2,201.3 358.4,201.8 358.7,202.2 359.0,202.6 359.2,203.0 359.5,203.2 359.7,203.4 360.0,203.5 360.3,203.6 360.5,203.5 360.8,203.4 361.1,203.2 361.3,203.0 361.6,202.7 361.9,202.4 362.1,202.1 362.4,201.9 362.7,201.6 362.9,201.5 363.2,201.3 363.5,201.2 363.7,201.2 364.0,201.2 364.2,201.3 364.5,201.4 364.8,201.5 365.0,201.7 365.3,201.8 365.6,202.0 365.8,202.2 366.1,202.3 366.4,202.5 366.6,202.6 366.9,202.6 367.2,202.7 367.4,202.7 367.7,202.6 368.0,202.6 368.2,202.5 368.5,202.4 368.7,202.3 369.0,202.2 369.3,202.1 369.5,202.0 369.8,201.9 370.1,201.8 370.3,201.8 370.6,201.8 370.9,201.8 371.1,201.8 371.4,201.8 371.7,201.8 371.9,201.9 372.2,202.0 372.5,202.0 372.7,202.1 373.0,202.2 373.2,202.2 373.5,202.2 373.8,202.3 374.0,202.3 374.3,202.3 374.6,202.3 374.8,202.3 375.1,202.3 375.4,202.2 375.6,202.2 375.9,202.2 376.2,202.1 376.4,202.1 376.7,202.0 377.0,202.0 377.2,202.0 377.5,202.0 377.7,202.0 378.0,202.0 378.3,202.0 378.5,202.0 378.8,202.0 379.1,202.0 379.3,202.1 379.6,202.1 379.9,202.1 380.1,202.1 380.4,202.1 380.7,202.2 380.9,202.2 381.2,202.2 381.5,202.2 381.7,202.2 382.0,202.2 382.3,202.2 382.5,202.1 382.8,202.1 383.0,202.1 383.3,202.1 383.6,202.1 383.8,202.1 384.1,202.1 384.4,202.1 384.6,202.1 384.9,202.1 385.2,202.1 385.4,202.1 385.7,202.1 386.0,202.1 386.2,202.1 386.5,202.1 386.8,202.1 387.0,202.1 387.3,202.1 387.5,202.1 387.8,202.1 388.1,202.1 388.3,202.1 388.6,202.1 388.9,202.1 389.1,202.1 389.4,202.1 389.7,202.1 389.9,202.1 390.2,202.1 390.5,202.1 390.7,202.1 391.0,202.1 391.3,202.1 391.5,202.1 391.8,202.1 392.0,202.1 392.3,202.1 392.6,202.1 392.7,202.1" fill="none" stroke="#a3d6ef" stroke-width="1.2" stroke-linejoin="round" />
<path d="M292.5,202.1 292.8,202.1 293.0,202.1 293.3,202.1 293.6,202.1 293.8,202.1 294.1,202.1 294.4,202.1 294.6,202.1 294.9,202.1 295.1,202.1 295.4,202.1 295.7,202.1 295.9,202.1 296.2,202.1 296.5,202.1 296.7,202.1 297.0,202.1 297.3,202.1 297.5,202.1 297.8,202.1 298.1,202.1 298.3,202.1 298.6,202.1 298.9,202.1 299.1,202.1 299.4,202.1 299.6,202.1 299.9,202.1 300.2,202.1 300.4,202.1 300.7,202.1 301.0,202.1 301.2,202.1 301.5,202.1 301.8,202.1 302.0,202.1 302.3,202.1 302.6,202.1 302.8,202.1 303.1,202.1 303.4,202.1 303.6,202.1 303.9,202.1 304.1,202.1 304.4,202.1 304.7,202.1 304.9,202.1 305.2,202.1 305.5,202.1 305.7,202.1 306.0,202.1 306.3,202.1 306.5,202.1 306.8,202.1 307.1,202.1 307.3,202.1 307.6,202.1 307.9,202.1 308.1,202.1 308.4,202.1 308.6,202.1 308.9,202.1 309.2,202.1 309.4,202.1 309.7,202.1 310.0,202.1 310.2,202.1 310.5,202.1 310.8,202.1 311.0,202.1 311.3,202.1 311.6,202.1 311.8,202.1 312.1,202.1 312.4,202.1 312.6,202.1 312.9,202.1 313.2,202.1 313.4,202.1 313.7,202.1 313.9,202.1 314.2,202.1 314.5,202.1 314.7,202.1 315.0,202.1 315.3,202.1 315.5,202.1 315.8,202.1 316.1,202.1 316.3,202.1 316.6,202.1 316.9,202.0 317.1,202.0 317.4,202.0 317.7,201.9 317.9,201.9 318.2,201.8 318.4,201.8 318.7,201.8 319.0,201.8 319.2,201.9 319.5,201.9 319.8,202.0 320.0,202.2 320.3,202.4 320.6,202.6 320.8,202.8 321.1,203.1 321.4,203.3 321.6,203.5 321.9,203.6 322.2,203.7 322.4,203.6 322.7,203.4 322.9,203.0 323.2,202.5 323.5,201.9 323.7,201.2 324.0,200.3 324.3,199.4 324.5,198.5 324.8,197.7 325.1,197.1 325.3,196.6 325.6,196.5 325.9,196.8 326.1,197.5 326.4,198.5 326.7,200.1 326.9,201.9 327.2,204.1 327.4,206.5 327.7,209.0 328.0,211.3 328.2,213.4 328.5,215.0 328.8,215.9 329.0,216.1 329.3,215.5 329.6,213.9 329.8,211.4 330.1,208.0 330.4,204.0 330.6,199.4 330.9,194.6 331.2,189.8 331.4,185.4 331.7,181.6 331.9,178.8 332.2,177.2 332.5,177.0 332.7,178.3 333.0,181.0 333.3,185.2 333.5,190.5 333.8,196.8 334.1,203.7 334.3,210.7 334.6,217.4 334.9,223.4 335.1,228.4 335.4,231.9 335.7,233.8 335.9,233.8 336.2,232.1 336.4,228.6 336.7,223.6 337.0,217.4 337.2,210.3 337.5,203.0 337.8,195.9 338.0,189.3 338.3,183.7 338.6,179.4 338.8,176.5 339.1,175.1 339.4,175.3 339.6,177.0 339.9,180.0 340.2,184.0 340.4,188.8 340.7,194.1 340.9,199.6 341.2,204.8 341.5,209.7 341.7,213.8 342.0,217.1 342.3,219.4 342.5,220.6 342.8,220.7 343.1,219.8 343.3,218.0 343.6,215.4 343.9,212.3 344.1,208.8 344.4,205.1 344.7,201.5 344.9,198.1 345.2,195.2 345.4,192.8 345.7,191.1 346.0,190.0 346.2,189.7 346.5,190.1 346.8,191.1 347.0,192.7 347.3,194.6 347.6,196.9 347.8,199.3 348.1,201.7 348.4,204.0 348.6,206.0 348.9,207.7 349.2,209.0 349.4,209.8 349.7,210.2 350.0,210.1 350.2,209.5 350.5,208.6 350.7,207.4 351.0,206.0 351.3,204.5 351.5,202.9 351.8,201.4 352.1,200.0 352.3,198.8 352.6,197.9 352.9,197.3 353.1,196.9 353.4,196.9 353.7,197.1 353.9,197.6 354.2,198.4 354.5,199.2 354.7,200.2 355.0,201.2 355.2,202.2 355.5,203.2 355.8,204.0 356.0,204.6 356.3,205.1 356.6,205.4 356.8,205.5 357.1,205.4 357.4,205.1 357.6,204.7 357.9,204.2 358.2,203.5 358.4,202.9 358.7,202.2 359.0,201.6 359.2,201.1 359.5,200.6 359.7,200.3 360.0,200.0 360.3,199.9 360.5,199.9 360.8,200.1 361.1,200.3 361.3,200.6 361.6,201.0 361.9,201.4 362.1,201.9 362.4,202.3 362.7,202.6 362.9,203.0 363.2,203.2 363.5,203.4 363.7,203.5 364.0,203.5 364.2,203.4 364.5,203.3 364.8,203.1 365.0,202.9 365.3,202.6 365.6,202.3 365.8,202.1 366.1,201.8 366.4,201.6 366.6,201.4 366.9,201.3 367.2,201.2 367.4,201.2 367.7,201.2 368.0,201.3 368.2,201.4 368.5,201.5 368.7,201.7 369.0,201.9 369.3,202.1 369.5,202.2 369.8,202.4 370.1,202.5 370.3,202.6 370.6,202.6 370.9,202.7 371.1,202.7 371.4,202.6 371.7,202.6 371.9,202.5 372.2,202.4 372.5,202.3 372.7,202.2 373.0,202.1 373.2,202.0 373.5,201.9 373.8,201.8 374.0,201.8 374.3,201.7 374.6,201.7 374.8,201.7 375.1,201.8 375.4,201.8 375.6,201.9 375.9,202.0 376.2,202.0 376.4,202.1 376.7,202.2 377.0,202.2 377.2,202.3 377.5,202.3 377.7,202.3 378.0,202.3 378.3,202.3 378.5,202.3 378.8,202.3 379.1,202.2 379.3,202.2 379.6,202.2 379.9,202.1 380.1,202.1 380.4,202.0 380.7,202.0 380.9,202.0 381.2,202.0 381.5,201.9 381.7,201.9 382.0,202.0 382.3,202.0 382.5,202.0 382.8,202.0 383.0,202.1 383.3,202.1 383.6,202.1 383.8,202.1 384.1,202.2 384.4,202.2 384.6,202.2 384.9,202.2 385.2,202.2 385.4,202.2 385.7,202.2 386.0,202.2 386.2,202.2 386.5,202.1 386.8,202.1 387.0,202.1 387.3,202.1 387.5,202.1 387.8,202.1 388.1,202.0 388.3,202.0 388.6,202.0 388.9,202.0 389.1,202.0 389.4,202.1 389.7,202.1 389.9,202.1 390.2,202.1 390.5,202.1 390.7,202.1 391.0,202.1 391.3,202.1 391.5,202.1 391.8,202.1 392.0,202.1 392.3,202.1 392.6,202.1 392.7,202.1" fill="none" stroke="#6a82e4" stroke-width="0.9" stroke-linejoin="round" />
<path d="M292.5,202.1 292.8,202.1 293.0,202.1 293.3,202.1 293.6,202.1 293.8,202.1 294.1,202.1 294.4,202.1 294.6,202.1 294.9,202.1 295.1,202.1 295.4,202.1 295.7,202.1 295.9,202.1 296.2,202.1 296.5,202.1 296.7,202.1 297.0,202.1 297.3,202.1 297.5,202.1 297.8,202.1 298.1,202.1 298.3,202.1 298.6,202.1 298.9,202.1 299.1,202.1 299.4,202.1 299.6,202.1 299.9,202.1 300.2,202.1 300.4,202.1 300.7,202.1 301.0,202.1 301.2,202.1 301.5,202.1 301.8,202.1 302.0,202.1 302.3,202.1 302.6,202.1 302.8,202.1 303.1,202.1 303.4,202.1 303.6,202.1 303.9,202.1 304.1,202.1 304.4,202.1 304.7,202.1 304.9,202.1 305.2,202.1 305.5,202.1 305.7,202.1 306.0,202.1 306.3,202.1 306.5,202.1 306.8,202.1 307.1,202.1 307.3,202.1 307.6,202.1 307.9,202.1 308.1,202.1 308.4,202.1 308.6,202.1 308.9,202.1 309.2,202.1 309.4,202.1 309.7,202.1 310.0,202.1 310.2,202.1 310.5,202.1 310.8,202.1 311.0,202.1 311.3,202.1 311.6,202.1 311.8,202.1 312.1,202.1 312.4,202.1 312.6,202.1 312.9,202.1 313.2,202.1 313.4,202.1 313.7,202.1 313.9,202.1 314.2,202.1 314.5,202.1 314.7,202.2 315.0,202.2 315.3,202.2 315.5,202.2 315.8,202.2 316.1,202.2 316.3,202.2 316.6,202.2 316.9,202.2 317.1,202.1 317.4,202.1 317.7,202.0 317.9,201.9 318.2,201.8 318.4,201.6 318.7,201.5 319.0,201.4 319.2,201.4 319.5,201.3 319.8,201.4 320.0,201.4 320.3,201.6 320.6,201.8 320.8,202.1 321.1,202.5 321.4,202.9 321.6,203.4 321.9,203.8 322.2,204.3 322.4,204.7 322.7,204.9 322.9,205.0 323.2,205.0 323.5,204.7 323.7,204.2 324.0,203.4 324.3,202.4 324.5,201.2 324.8,199.9 325.1,198.5 325.3,197.1 325.6,195.8 325.9,194.8 326.1,194.0 326.4,193.7 326.7,193.9 326.9,194.7 327.2,196.0 327.4,197.9 327.7,200.4 328.0,203.2 328.2,206.3 328.5,209.5 328.8,212.6 329.0,215.4 329.3,217.7 329.6,219.2 329.8,219.8 330.1,219.3 330.4,217.8 330.6,215.2 330.9,211.6 331.2,207.1 331.4,202.0 331.7,196.5 331.9,191.0 332.2,185.7 332.5,181.2 332.7,177.6 333.0,175.3 333.3,174.4 333.5,175.1 333.8,177.5 334.1,181.3 334.3,186.5 334.6,192.8 334.9,199.7 335.1,207.0 335.4,214.2 335.7,220.8 335.9,226.4 336.2,230.6 336.4,233.3 336.7,234.2 337.0,233.3 337.2,230.5 337.5,226.0 337.8,220.4 338.0,213.8 338.3,206.8 338.6,199.9 338.8,193.3 339.1,187.5 339.4,182.8 339.6,179.3 339.9,177.3 340.2,176.7 340.4,177.6 340.7,179.8 340.9,183.1 341.2,187.2 341.5,191.9 341.7,197.0 342.0,202.0 342.3,206.7 342.5,210.9 342.8,214.4 343.1,217.1 343.3,218.7 343.6,219.4 343.9,219.0 344.1,217.8 344.4,215.8 344.7,213.2 344.9,210.1 345.2,206.7 345.4,203.3 345.7,200.1 346.0,197.2 346.2,194.7 346.5,192.7 346.8,191.4 347.0,190.8 347.3,190.8 347.6,191.4 347.8,192.6 348.1,194.2 348.4,196.1 348.6,198.3 348.9,200.5 349.2,202.7 349.4,204.7 349.7,206.4 350.0,207.8 350.2,208.8 350.5,209.4 350.7,209.5 351.0,209.3 351.3,208.6 351.5,207.6 351.8,206.4 352.1,205.1 352.3,203.6 352.6,202.2 352.9,200.9 353.1,199.7 353.4,198.7 353.7,197.9 353.9,197.5 354.2,197.3 354.5,197.4 354.7,197.7 355.0,198.3 355.2,199.0 355.5,199.9 355.8,200.8 356.0,201.7 356.3,202.6 356.6,203.4 356.8,204.1 357.1,204.6 357.4,205.0 357.6,205.2 357.9,205.2 358.2,205.0 358.4,204.7 358.7,204.3 359.0,203.7 359.2,203.2 359.5,202.6 359.7,202.0 360.0,201.4 360.3,201.0 360.5,200.6 360.8,200.3 361.1,200.1 361.3,200.1 361.6,200.2 361.9,200.3 362.1,200.6 362.4,200.9 362.7,201.3 362.9,201.7 363.2,202.1 363.5,202.4 363.7,202.7 364.0,203.0 364.2,203.2 364.5,203.3 364.8,203.4 365.0,203.4 365.3,203.3 365.6,203.1 365.8,202.9 366.1,202.7 366.4,202.5 366.6,202.2 366.9,202.0 367.2,201.8 367.4,201.6 367.7,201.4 368.0,201.3 368.2,201.3 368.5,201.3 368.7,201.3 369.0,201.4 369.3,201.5 369.5,201.7 369.8,201.8 370.1,202.0 370.3,202.1 370.6,202.3 370.9,202.4 371.1,202.5 371.4,202.6 371.7,202.6 371.9,202.6 372.2,202.6 372.5,202.6 372.7,202.5 373.0,202.4 373.2,202.3 373.5,202.2 373.8,202.1 374.0,202.0 374.3,201.9 374.6,201.9 374.8,201.8 375.1,201.8 375.4,201.8 375.6,201.8 375.9,201.8 376.2,201.8 376.4,201.9 376.7,201.9 377.0,202.0 377.2,202.1 377.5,202.1 377.7,202.2 378.0,202.2 378.3,202.3 378.5,202.3 378.8,202.3 379.1,202.3 379.3,202.3 379.6,202.3 379.9,202.3 380.1,202.2 380.4,202.2 380.7,202.1 380.9,202.1 381.2,202.1 381.5,202.0 381.7,202.0 382.0,202.0 382.3,202.0 382.5,202.0 382.8,202.0 383.0,202.0 383.3,202.0 383.6,202.0 383.8,202.0 384.1,202.1 384.4,202.1 384.6,202.1 384.9,202.1 385.2,202.2 385.4,202.2 385.7,202.2 386.0,202.2 386.2,202.2 386.5,202.2 386.8,202.2 387.0,202.2 387.3,202.1 387.5,202.1 387.8,202.1 388.1,202.1 388.3,202.1 388.6,202.1 388.9,202.1 389.1,202.0 389.4,202.0 389.7,202.0 389.9,202.0 390.2,202.1 390.5,202.1 390.7,202.1 391.0,202.1 391.3,202.1 391.5,202.1 391.8,202.1 392.0,202.1 392.3,202.1 392.6,202.1 392.7,202.1" fill="none" stroke="#2c3ca8" stroke-width="0.9" stroke-linejoin="round" />
<path d="M292.5,202.1 292.8,202.1 293.0,202.1 293.3,202.1 293.6,202.1 293.8,202.1 294.1,202.1 294.4,202.1 294.6,202.1 294.9,202.1 295.1,202.1 295.4,202.1 295.7,202.1 295.9,202.1 296.2,202.1 296.5,202.1 296.7,202.1 297.0,202.1 297.3,202.1 297.5,202.1 297.8,202.1 298.1,202.1 298.3,202.1 298.6,202.1 298.9,202.1 299.1,202.1 299.4,202.1 299.6,202.1 299.9,202.1 300.2,202.1 300.4,202.1 300.7,202.1 301.0,202.1 301.2,202.1 301.5,202.1 301.8,202.1 302.0,202.1 302.3,202.1 302.6,202.1 302.8,202.1 303.1,202.1 303.4,202.1 303.6,202.1 303.9,202.1 304.1,202.1 304.4,202.1 304.7,202.1 304.9,202.1 305.2,202.1 305.5,202.1 305.7,202.1 306.0,202.1 306.3,202.1 306.5,202.1 306.8,202.1 307.1,202.1 307.3,202.1 307.6,202.1 307.9,202.1 308.1,202.1 308.4,202.1 308.6,202.1 308.9,202.1 309.2,202.1 309.4,202.1 309.7,202.1 310.0,202.1 310.2,202.1 310.5,202.1 310.8,202.1 311.0,202.1 311.3,202.1 311.6,202.1 311.8,202.1 312.1,202.1 312.4,202.1 312.6,202.1 312.9,202.1 313.2,202.1 313.4,202.1 313.7,202.1 313.9,202.1 314.2,202.1 314.5,202.1 314.7,202.1 315.0,202.1 315.3,202.1 315.5,202.1 315.8,202.1 316.1,202.1 316.3,202.1 316.6,202.1 316.9,202.1 317.1,202.1 317.4,202.1 317.7,202.1 317.9,202.1 318.2,202.1 318.4,202.1 318.7,202.1 319.0,202.1 319.2,202.1 319.5,202.1 319.8,202.1 320.0,202.1 320.3,202.0 320.6,202.0 320.8,202.0 321.1,202.0 321.4,202.0 321.6,202.1 321.9,202.1 322.2,202.1 322.4,202.2 322.7,202.3 322.9,202.4 323.2,202.5 323.5,202.6 323.7,202.6 324.0,202.7 324.3,202.8 324.5,202.7 324.8,202.7 325.1,202.5 325.3,202.3 325.6,202.0 325.9,201.6 326.1,201.1 326.4,200.6 326.7,200.1 326.9,199.6 327.2,199.2 327.4,199.0 327.7,198.9 328.0,199.0 328.2,199.4 328.5,200.0 328.8,201.0 329.0,202.1 329.3,203.5 329.6,205.0 329.8,206.5 330.1,207.9 330.4,209.1 330.6,210.0 330.9,210.4 331.2,210.4 331.4,209.9 331.7,208.8 331.9,207.3 332.2,205.2 332.5,202.9 332.7,200.4 333.0,197.9 333.3,195.5 333.5,193.5 333.8,191.9 334.1,190.9 334.3,190.5 334.6,190.9 334.9,191.9 335.1,193.5 335.4,195.5 335.7,197.9 335.9,200.4 336.2,202.9 336.4,205.2 336.7,207.3 337.0,208.8 337.2,209.9 337.5,210.4 337.8,210.4 338.0,210.0 338.3,209.1 338.6,207.9 338.8,206.5 339.1,205.0 339.4,203.5 339.6,202.1 339.9,201.0 340.2,200.0 340.4,199.4 340.7,199.0 340.9,198.9 341.2,199.0 341.5,199.2 341.7,199.6 342.0,200.1 342.3,200.6 342.5,201.1 342.8,201.6 343.1,202.0 343.3,202.3 343.6,202.5 343.9,202.7 344.1,202.7 344.4,202.8 344.7,202.7 344.9,202.6 345.2,202.6 345.4,202.5 345.7,202.4 346.0,202.3 346.2,202.2 346.5,202.1 346.8,202.1 347.0,202.1 347.3,202.0 347.6,202.0 347.8,202.0 348.1,202.0 348.4,202.0 348.6,202.1 348.9,202.1 349.2,202.1 349.4,202.1 349.7,202.1 350.0,202.1 350.2,202.1 350.5,202.1 350.7,202.1 351.0,202.1 351.3,202.1 351.5,202.1 351.8,202.1 352.1,202.1 352.3,202.1 352.6,202.1 352.9,202.1 353.1,202.1 353.4,202.1 353.7,202.1 353.9,202.1 354.2,202.1 354.5,202.1 354.7,202.1 355.0,202.1 355.2,202.1 355.5,202.1 355.8,202.1 356.0,202.1 356.3,202.1 356.6,202.1 356.8,202.1 357.1,202.1 357.4,202.1 357.6,202.1 357.9,202.1 358.2,202.1 358.4,202.1 358.7,202.1 359.0,202.1 359.2,202.1 359.5,202.1 359.7,202.1 360.0,202.1 360.3,202.1 360.5,202.1 360.8,202.1 361.1,202.1 361.3,202.1 361.6,202.1 361.9,202.1 362.1,202.1 362.4,202.1 362.7,202.1 362.9,202.1 363.2,202.1 363.5,202.1 363.7,202.1 364.0,202.1 364.2,202.1 364.5,202.1 364.8,202.1 365.0,202.1 365.3,202.1 365.6,202.1 365.8,202.1 366.1,202.1 366.4,202.1 366.6,202.1 366.9,202.1 367.2,202.1 367.4,202.1 367.7,202.1 368.0,202.1 368.2,202.1 368.5,202.1 368.7,202.1 369.0,202.1 369.3,202.1 369.5,202.1 369.8,202.1 370.1,202.1 370.3,202.1 370.6,202.1 370.9,202.1 371.1,202.1 371.4,202.1 371.7,202.1 371.9,202.1 372.2,202.1 372.5,202.1 372.7,202.1 373.0,202.1 373.2,202.1 373.5,202.1 373.8,202.1 374.0,202.1 374.3,202.1 374.6,202.1 374.8,202.1 375.1,202.1 375.4,202.1 375.6,202.1 375.9,202.1 376.2,202.1 376.4,202.1 376.7,202.1 377.0,202.1 377.2,202.1 377.5,202.1 377.7,202.1 378.0,202.1 378.3,202.1 378.5,202.1 378.8,202.1 379.1,202.1 379.3,202.1 379.6,202.1 379.9,202.1 380.1,202.1 380.4,202.1 380.7,202.1 380.9,202.1 381.2,202.1 381.5,202.1 381.7,202.1 382.0,202.1 382.3,202.1 382.5,202.1 382.8,202.1 383.0,202.1 383.3,202.1 383.6,202.1 383.8,202.1 384.1,202.1 384.4,202.1 384.6,202.1 384.9,202.1 385.2,202.1 385.4,202.1 385.7,202.1 386.0,202.1 386.2,202.1 386.5,202.1 386.8,202.1 387.0,202.1 387.3,202.1 387.5,202.1 387.8,202.1 388.1,202.1 388.3,202.1 388.6,202.1 388.9,202.1 389.1,202.1 389.4,202.1 389.7,202.1 389.9,202.1 390.2,202.1 390.5,202.1 390.7,202.1 391.0,202.1 391.3,202.1 391.5,202.1 391.8,202.1 392.0,202.1 392.3,202.1 392.6,202.1 392.7,202.1" fill="none" stroke="#333333" stroke-width="0.85" stroke-linejoin="round" />
<path d="M313.2,201.7 313.4,201.6 313.7,201.6 313.9,201.5 314.2,201.5 314.5,201.4 314.7,201.3 315.0,201.3 315.3,201.2 315.5,201.1 315.8,201.0 316.1,200.9 316.3,200.8 316.6,200.7 316.9,200.5 317.1,200.4 317.4,200.3 317.7,200.1 317.9,199.9 318.2,199.7 318.4,199.6 318.7,199.3 319.0,199.1 319.2,198.9 319.5,198.7 319.8,198.4 320.0,198.1 320.3,197.8 320.6,197.5 320.8,197.2 321.1,196.9 321.4,196.5 321.6,196.1 321.9,195.8 322.2,195.4 322.4,194.9 322.7,194.5 322.9,194.0 323.2,193.6 323.5,193.1 323.7,192.6 324.0,192.0 324.3,191.5 324.5,190.9 324.8,190.4 325.1,189.8 325.3,189.2 325.6,188.6 325.9,188.0 326.1,187.3 326.4,186.7 326.7,186.0 326.9,185.4 327.2,184.7 327.4,184.0 327.7,183.4 328.0,182.7 328.2,182.0 328.5,181.3 328.8,180.7 329.0,180.0 329.3,179.4 329.6,178.7 329.8,178.1 330.1,177.4 330.4,176.8 330.6,176.2 330.9,175.6 331.2,175.1 331.4,174.5 331.7,174.0 331.9,173.5 332.2,173.1 332.5,172.6 332.7,172.2 333.0,171.8 333.3,171.5 333.5,171.2 333.8,170.9 334.1,170.6 334.3,170.4 334.6,170.3 334.9,170.1 335.1,170.0 335.4,170.0 335.7,170.0 335.9,170.1 336.2,170.4 336.4,170.8 336.7,171.4 337.0,172.0 337.2,172.6 337.5,173.3 337.8,174.1 338.0,174.8 338.3,175.5 338.6,176.3 338.8,177.0 339.1,177.8 339.4,178.5 339.6,179.2 339.9,179.9 340.2,180.6 340.4,181.3 340.7,182.0 340.9,182.6 341.2,183.2 341.5,183.9 341.7,184.5 342.0,185.0 342.3,185.6 342.5,186.1 342.8,186.7 343.1,187.2 343.3,187.7 343.6,188.2 343.9,188.7 344.1,189.1 344.4,189.6 344.7,190.0 344.9,190.4 345.2,190.8 345.4,191.2 345.7,191.6 346.0,191.9 346.2,192.3 346.5,192.6 346.8,192.9 347.0,193.3 347.3,193.6 347.6,193.9 347.8,194.1 348.1,194.4 348.4,194.7 348.6,195.0 348.9,195.2 349.2,195.4 349.4,195.7 349.7,195.9 350.0,196.1 350.2,196.3 350.5,196.5 350.7,196.7 351.0,196.9 351.3,197.1 351.5,197.3 351.8,197.4 352.1,197.6 352.3,197.8 352.6,197.9 352.9,198.1 353.1,198.2 353.4,198.3 353.7,198.5 353.9,198.6 354.2,198.7 354.5,198.8 354.7,199.0 355.0,199.1 355.2,199.2 355.5,199.3 355.8,199.4 356.0,199.5 356.3,199.6 356.6,199.7 356.8,199.7 357.1,199.8 357.4,199.9 357.6,200.0 357.9,200.1 358.2,200.1 358.4,200.2 358.7,200.3 359.0,200.3 359.2,200.4 359.5,200.5 359.7,200.5 360.0,200.6 360.3,200.6 360.5,200.7 360.8,200.7 361.1,200.8 361.3,200.8 361.6,200.9 361.9,200.9 362.1,201.0 362.4,201.0 362.7,201.0 362.9,201.1 363.2,201.1 363.5,201.1 363.7,201.2 364.0,201.2 364.2,201.2 364.5,201.3 364.8,201.3 365.0,201.3 365.3,201.4 365.6,201.4 365.8,201.4 366.1,201.4 366.4,201.5 366.6,201.5 366.9,201.5 367.2,201.5 367.4,201.5 367.7,201.6 368.0,201.6 368.2,201.6 368.5,201.6 368.7,201.6 369.0,201.7 369.3,201.7 369.5,201.7 369.8,201.7 370.1,201.7 370.3,201.7 370.6,201.7 370.9,201.8 371.1,201.8 371.4,201.8 371.7,201.8 371.9,201.8 372.2,201.8 372.5,201.8 372.7,201.8 373.0,201.8 373.2,201.8 373.5,201.9 373.8,201.9 374.0,201.9 374.3,201.9 374.6,201.9 374.8,201.9 375.1,201.9 375.4,201.9 375.6,201.9 375.9,201.9 376.2,201.9 376.4,201.9 376.7,201.9 377.0,201.9 377.2,202.0 377.5,202.0 377.7,202.0 378.0,202.0 378.3,202.0 378.5,202.0 378.8,202.0 379.1,202.0 379.3,202.0 379.6,202.0 379.9,202.0 380.1,202.0 380.4,202.0 380.7,202.0 380.9,202.0 381.2,202.0 381.5,202.0 381.7,202.0 382.0,202.0 382.3,202.0 382.5,202.0 382.8,202.0 383.0,202.0 383.3,202.0 383.6,202.0 383.8,202.0 384.1,202.0 384.4,202.0 384.6,202.0 384.9,202.0 385.2,202.1 385.4,202.1 385.7,202.1 386.0,202.1 386.2,202.1 386.5,202.1 386.8,202.1 387.0,202.1 387.3,202.1 387.5,202.1 387.8,202.1 388.1,202.1 388.3,202.1 388.6,202.1 388.9,202.1 389.1,202.1 389.4,202.1 389.7,202.1 389.9,202.1 390.2,202.1 390.5,202.1 390.7,202.1 391.0,202.1 391.3,202.1 391.5,202.1 391.8,202.1 392.0,202.1 392.3,202.1 392.6,202.1 392.7,202.1" fill="none" stroke="#3cc43c" stroke-width="1.1" stroke-linejoin="round" />
<path d="M317.9,201.7 318.2,201.6 318.4,201.6 318.7,201.5 319.0,201.4 319.2,201.4 319.5,201.3 319.8,201.2 320.0,201.1 320.3,200.9 320.6,200.8 320.8,200.7 321.1,200.5 321.4,200.3 321.6,200.2 321.9,200.0 322.2,199.8 322.4,199.5 322.7,199.3 322.9,199.0 323.2,198.7 323.5,198.4 323.7,198.1 324.0,197.7 324.3,197.3 324.5,196.9 324.8,196.5 325.1,196.1 325.3,195.6 325.6,195.1 325.9,194.6 326.1,194.0 326.4,193.5 326.7,192.9 326.9,192.3 327.2,191.6 327.4,191.0 327.7,190.3 328.0,189.6 328.2,188.8 328.5,188.1 328.8,187.3 329.0,186.6 329.3,185.8 329.6,185.0 329.8,184.2 330.1,183.4 330.4,182.6 330.6,181.8 330.9,181.0 331.2,180.2 331.4,179.4 331.7,178.6 331.9,177.8 332.2,177.1 332.5,176.3 332.7,175.6 333.0,175.0 333.3,174.3 333.5,173.7 333.8,173.2 334.1,172.6 334.3,172.1 334.6,171.7 334.9,171.3 335.1,170.9 335.4,170.6 335.7,170.4 335.9,170.2 336.2,170.1 336.4,170.0 336.7,170.0 337.0,170.0 337.2,170.3 337.5,170.6 337.8,171.1 338.0,171.6 338.3,172.1 338.6,172.7 338.8,173.4 339.1,174.0 339.4,174.7 339.6,175.3 339.9,176.0 340.2,176.7 340.4,177.3 340.7,178.0 340.9,178.6 341.2,179.3 341.5,179.9 341.7,180.5 342.0,181.2 342.3,181.8 342.5,182.4 342.8,182.9 343.1,183.5 343.3,184.0 343.6,184.6 343.9,185.1 344.1,185.6 344.4,186.1 344.7,186.6 344.9,187.1 345.2,187.5 345.4,188.0 345.7,188.4 346.0,188.8 346.2,189.3 346.5,189.7 346.8,190.0 347.0,190.4 347.3,190.8 347.6,191.1 347.8,191.5 348.1,191.8 348.4,192.1 348.6,192.4 348.9,192.8 349.2,193.0 349.4,193.3 349.7,193.6 350.0,193.9 350.2,194.1 350.5,194.4 350.7,194.6 351.0,194.9 351.3,195.1 351.5,195.3 351.8,195.5 352.1,195.8 352.3,196.0 352.6,196.2 352.9,196.3 353.1,196.5 353.4,196.7 353.7,196.9 353.9,197.0 354.2,197.2 354.5,197.4 354.7,197.5 355.0,197.7 355.2,197.8 355.5,197.9 355.8,198.1 356.0,198.2 356.3,198.3 356.6,198.5 356.8,198.6 357.1,198.7 357.4,198.8 357.6,198.9 357.9,199.0 358.2,199.1 358.4,199.2 358.7,199.3 359.0,199.4 359.2,199.5 359.5,199.6 359.7,199.6 360.0,199.7 360.3,199.8 360.5,199.9 360.8,199.9 361.1,200.0 361.3,200.1 361.6,200.1 361.9,200.2 362.1,200.3 362.4,200.3 362.7,200.4 362.9,200.4 363.2,200.5 363.5,200.6 363.7,200.6 364.0,200.7 364.2,200.7 364.5,200.7 364.8,200.8 365.0,200.8 365.3,200.9 365.6,200.9 365.8,200.9 366.1,201.0 366.4,201.0 366.6,201.1 366.9,201.1 367.2,201.1 367.4,201.2 367.7,201.2 368.0,201.2 368.2,201.2 368.5,201.3 368.7,201.3 369.0,201.3 369.3,201.4 369.5,201.4 369.8,201.4 370.1,201.4 370.3,201.4 370.6,201.5 370.9,201.5 371.1,201.5 371.4,201.5 371.7,201.5 371.9,201.6 372.2,201.6 372.5,201.6 372.7,201.6 373.0,201.6 373.2,201.6 373.5,201.7 373.8,201.7 374.0,201.7 374.3,201.7 374.6,201.7 374.8,201.7 375.1,201.7 375.4,201.8 375.6,201.8 375.9,201.8 376.2,201.8 376.4,201.8 376.7,201.8 377.0,201.8 377.2,201.8 377.5,201.8 377.7,201.8 378.0,201.8 378.3,201.9 378.5,201.9 378.8,201.9 379.1,201.9 379.3,201.9 379.6,201.9 379.9,201.9 380.1,201.9 380.4,201.9 380.7,201.9 380.9,201.9 381.2,201.9 381.5,201.9 381.7,201.9 382.0,201.9 382.3,202.0 382.5,202.0 382.8,202.0 383.0,202.0 383.3,202.0 383.6,202.0 383.8,202.0 384.1,202.0 384.4,202.0 384.6,202.0 384.9,202.0 385.2,202.0 385.4,202.0 385.7,202.0 386.0,202.0 386.2,202.0 386.5,202.0 386.8,202.0 387.0,202.0 387.3,202.0 387.5,202.0 387.8,202.0 388.1,202.0 388.3,202.0 388.6,202.0 388.9,202.0 389.1,202.0 389.4,202.0 389.7,202.0 389.9,202.0 390.2,202.0 390.5,202.0 390.7,202.0 391.0,202.1 391.3,202.1 391.5,202.1 391.8,202.1 392.0,202.1 392.3,202.1 392.6,202.1 392.7,202.1" fill="none" stroke="#1f7a2c" stroke-width="1.1" stroke-linejoin="round" />
<path d="M292.5,202.1 292.8,202.1 293.0,202.1 293.3,202.1 293.6,202.1 293.8,202.1 294.1,202.1 294.4,202.1 294.6,202.1 294.9,202.1 295.1,202.1 295.4,202.1 295.7,202.1 295.9,202.1 296.2,202.1 296.5,202.1 296.7,202.1 297.0,202.1 297.3,202.1 297.5,202.1 297.8,202.1 298.1,202.1 298.3,202.1 298.6,202.1 298.9,202.1 299.1,202.1 299.4,202.1 299.6,202.1 299.9,202.1 300.2,202.1 300.4,202.1 300.7,202.1 301.0,202.1 301.2,202.1 301.5,202.1 301.8,202.1 302.0,202.1 302.3,202.1 302.6,202.1 302.8,202.1 303.1,202.1 303.4,202.1 303.6,202.1 303.9,202.1 304.1,202.1 304.4,202.1 304.7,202.1 304.9,202.1 305.2,202.1 305.5,202.1 305.7,202.1 306.0,202.1 306.3,202.1 306.5,202.1 306.8,202.1 307.1,202.1 307.3,202.1 307.6,202.1 307.9,202.1 308.1,202.1 308.4,202.1 308.6,202.1 308.9,202.1 309.2,202.1 309.4,202.1 309.7,202.1 310.0,202.1 310.2,202.1 310.5,202.1 310.8,202.1 311.0,202.1 311.3,202.1 311.6,202.1 311.8,202.1 312.1,202.1 312.4,202.1 312.6,202.1 312.9,202.1 313.2,202.1 313.4,202.1 313.7,202.1 313.9,202.1 314.2,202.1 314.5,202.1 314.7,202.1 315.0,202.1 315.3,202.0 315.5,202.0 315.8,202.0 316.1,202.0 316.3,202.0 316.6,202.0 316.9,202.0 317.1,201.9 317.4,201.9 317.7,201.9 317.9,201.9 318.2,201.8 318.4,201.8 318.7,201.7 319.0,201.7 319.2,201.6 319.5,201.6 319.8,201.5 320.0,201.4 320.3,201.3 320.6,201.2 320.8,201.1 321.1,201.0 321.4,200.9 321.6,200.7 321.9,200.5 322.2,200.4 322.4,200.2 322.7,199.9 322.9,199.7 323.2,199.5 323.5,199.2 323.7,198.9 324.0,198.6 324.3,198.2 324.5,197.9 324.8,197.5 325.1,197.0 325.3,196.6 325.6,196.1 325.9,195.6 326.1,195.1 326.4,194.5 326.7,193.9 326.9,193.3 327.2,192.7 327.4,192.0 327.7,191.3 328.0,190.6 328.2,189.8 328.5,189.0 328.8,188.2 329.0,187.4 329.3,186.6 329.6,185.8 329.8,184.9 330.1,184.0 330.4,183.2 330.6,182.3 330.9,181.4 331.2,180.6 331.4,179.7 331.7,178.9 331.9,178.0 332.2,177.2 332.5,176.4 332.7,175.7 333.0,175.0 333.3,174.3 333.5,173.6 333.8,173.0 334.1,172.5 334.3,172.0 334.6,171.5 334.9,171.1 335.1,170.8 335.4,170.5 335.7,170.2 335.9,170.1 336.2,170.0 336.4,170.0 336.7,170.0 337.0,170.3 337.2,170.6 337.5,171.1 337.8,171.6 338.0,172.1 338.3,172.7 338.6,173.4 338.8,174.0 339.1,174.7 339.4,175.3 339.6,176.0 339.9,176.7 340.2,177.3 340.4,178.0 340.7,178.6 340.9,179.3 341.2,179.9 341.5,180.5 341.7,181.2 342.0,181.8 342.3,182.4 342.5,182.9 342.8,183.5 343.1,184.0 343.3,184.6 343.6,185.1 343.9,185.6 344.1,186.1 344.4,186.6 344.7,187.1 344.9,187.5 345.2,188.0 345.4,188.4 345.7,188.8 346.0,189.3 346.2,189.7 346.5,190.0 346.8,190.4 347.0,190.8 347.3,191.1 347.6,191.5 347.8,191.8 348.1,192.1 348.4,192.4 348.6,192.8 348.9,193.0 349.2,193.3 349.4,193.6 349.7,193.9 350.0,194.1 350.2,194.4 350.5,194.6 350.7,194.9 351.0,195.1 351.3,195.3 351.5,195.5 351.8,195.8 352.1,196.0 352.3,196.2 352.6,196.3 352.9,196.5 353.1,196.7 353.4,196.9 353.7,197.0 353.9,197.2 354.2,197.4 354.5,197.5 354.7,197.7 355.0,197.8 355.2,197.9 355.5,198.1 355.8,198.2 356.0,198.3 356.3,198.5 356.6,198.6 356.8,198.7 357.1,198.8 357.4,198.9 357.6,199.0 357.9,199.1 358.2,199.2 358.4,199.3 358.7,199.4 359.0,199.5 359.2,199.6 359.5,199.6 359.7,199.7 360.0,199.8 360.3,199.9 360.5,199.9 360.8,200.0 361.1,200.1 361.3,200.1 361.6,200.2 361.9,200.3 362.1,200.3 362.4,200.4 362.7,200.4 362.9,200.5 363.2,200.6 363.5,200.6 363.7,200.7 364.0,200.7 364.2,200.7 364.5,200.8 364.8,200.8 365.0,200.9 365.3,200.9 365.6,200.9 365.8,201.0 366.1,201.0 366.4,201.1 366.6,201.1 366.9,201.1 367.2,201.2 367.4,201.2 367.7,201.2 368.0,201.2 368.2,201.3 368.5,201.3 368.7,201.3 369.0,201.4 369.3,201.4 369.5,201.4 369.8,201.4 370.1,201.4 370.3,201.5 370.6,201.5 370.9,201.5 371.1,201.5 371.4,201.5 371.7,201.6 371.9,201.6 372.2,201.6 372.5,201.6 372.7,201.6 373.0,201.6 373.2,201.7 373.5,201.7 373.8,201.7 374.0,201.7 374.3,201.7 374.6,201.7 374.8,201.7 375.1,201.8 375.4,201.8 375.6,201.8 375.9,201.8 376.2,201.8 376.4,201.8 376.7,201.8 377.0,201.8 377.2,201.8 377.5,201.8 377.7,201.8 378.0,201.9 378.3,201.9 378.5,201.9 378.8,201.9 379.1,201.9 379.3,201.9 379.6,201.9 379.9,201.9 380.1,201.9 380.4,201.9 380.7,201.9 380.9,201.9 381.2,201.9 381.5,201.9 381.7,201.9 382.0,202.0 382.3,202.0 382.5,202.0 382.8,202.0 383.0,202.0 383.3,202.0 383.6,202.0 383.8,202.0 384.1,202.0 384.4,202.0 384.6,202.0 384.9,202.0 385.2,202.0 385.4,202.0 385.7,202.0 386.0,202.0 386.2,202.0 386.5,202.0 386.8,202.0 387.0,202.0 387.3,202.0 387.5,202.0 387.8,202.0 388.1,202.0 388.3,202.0 388.6,202.0 388.9,202.0 389.1,202.0 389.4,202.0 389.7,202.0 389.9,202.0 390.2,202.0 390.5,202.0 390.7,202.1 391.0,202.1 391.3,202.1 391.5,202.1 391.8,202.1 392.0,202.1 392.3,202.1 392.6,202.1 392.7,202.1" fill="none" stroke="#9ae69a" stroke-width="1.1" stroke-linejoin="round" stroke-dasharray="1.3,1"/>
<path d="M292.50,244.70 H398.40 V159.50 H292.50" fill="none" stroke="#9c9c9c" stroke-width="1"/>
<line x1="292.50" y1="159.00" x2="292.50" y2="245.70" stroke="#9cbcbc" stroke-width="1.0" />
<line x1="289.90" y1="238.61" x2="292.50" y2="238.61" stroke="#7a8a8a" stroke-width="1" />
<text x="289.30" y="242.31" font-size="10.5" text-anchor="end" fill="#0a0a0a" >-30</text>
<line x1="290.90" y1="229.49" x2="292.50" y2="229.49" stroke="#7a8a8a" stroke-width="1" />
<line x1="289.90" y1="220.36" x2="292.50" y2="220.36" stroke="#7a8a8a" stroke-width="1" />
<text x="289.30" y="224.06" font-size="10.5" text-anchor="end" fill="#0a0a0a" >-15</text>
<line x1="290.90" y1="211.23" x2="292.50" y2="211.23" stroke="#7a8a8a" stroke-width="1" />
<line x1="289.90" y1="202.10" x2="292.50" y2="202.10" stroke="#7a8a8a" stroke-width="1" />
<text x="289.30" y="205.80" font-size="10.5" text-anchor="end" fill="#0a0a0a" >0</text>
<line x1="290.90" y1="192.97" x2="292.50" y2="192.97" stroke="#7a8a8a" stroke-width="1" />
<line x1="289.90" y1="183.84" x2="292.50" y2="183.84" stroke="#7a8a8a" stroke-width="1" />
<text x="289.30" y="187.54" font-size="10.5" text-anchor="end" fill="#0a0a0a" >15</text>
<line x1="290.90" y1="174.71" x2="292.50" y2="174.71" stroke="#7a8a8a" stroke-width="1" />
<line x1="289.90" y1="165.59" x2="292.50" y2="165.59" stroke="#7a8a8a" stroke-width="1" />
<text x="289.30" y="169.29" font-size="10.5" text-anchor="end" fill="#0a0a0a" >30</text>
<text x="292.50" y="256.20" font-size="10.5" text-anchor="middle" fill="#0a0a0a" >0</text>
<line x1="318.98" y1="244.70" x2="318.98" y2="246.20" stroke="#8c8c8c" stroke-width="1" />
<line x1="345.45" y1="244.70" x2="345.45" y2="246.20" stroke="#8c8c8c" stroke-width="1" />
<text x="345.45" y="256.20" font-size="10.5" text-anchor="middle" fill="#0a0a0a" >20</text>
<line x1="371.92" y1="244.70" x2="371.92" y2="246.20" stroke="#8c8c8c" stroke-width="1" />
<text x="398.40" y="256.20" font-size="10.5" text-anchor="middle" fill="#0a0a0a" >40</text>
<text x="294.70" y="169.90" font-size="11.6" text-anchor="start" fill="#0a0a0a" >Ag</text>
<text x="0.00" y="0.00" font-size="10.5" text-anchor="start" fill="#1a1a1a" ></text>
<text x="345.45" y="263.30" font-size="10.5" text-anchor="middle" fill="#0a0a0a" >time (fs)</text>
<text x="422.60" y="155.70" font-size="14" text-anchor="start" font-weight="bold" fill="#0a0a0a" >(c2)</text>
<path d="M424.5,202.1 424.8,202.1 425.0,202.1 425.3,202.1 425.6,202.1 425.8,202.1 426.1,202.1 426.4,202.1 426.6,202.1 426.9,202.1 427.1,202.1 427.4,202.1 427.7,202.1 427.9,202.1 428.2,202.1 428.5,202.1 428.7,202.1 429.0,202.1 429.3,202.1 429.5,202.1 429.8,202.1 430.1,202.1 430.3,202.1 430.6,202.1 430.9,202.1 431.1,202.1 431.4,202.1 431.6,202.1 431.9,202.1 432.2,202.1 432.4,202.1 432.7,202.1 433.0,202.1 433.2,202.1 433.5,202.1 433.8,202.1 434.0,202.1 434.3,202.1 434.6,202.1 434.8,202.1 435.1,202.1 435.4,202.1 435.6,202.1 435.9,202.1 436.1,202.1 436.4,202.1 436.7,202.1 436.9,202.1 437.2,202.1 437.5,202.1 437.7,202.1 438.0,202.1 438.3,202.1 438.5,202.1 438.8,202.1 439.1,202.1 439.3,202.1 439.6,202.1 439.9,202.1 440.1,202.1 440.4,202.1 440.6,202.1 440.9,202.1 441.2,202.1 441.4,202.1 441.7,202.1 442.0,202.1 442.2,202.1 442.5,202.1 442.8,202.1 443.0,202.1 443.3,202.1 443.6,202.1 443.8,202.1 444.1,202.0 444.4,202.0 444.6,202.0 444.9,202.0 445.2,202.0 445.4,202.0 445.7,202.1 445.9,202.1 446.2,202.1 446.5,202.2 446.7,202.2 447.0,202.3 447.3,202.3 447.5,202.4 447.8,202.4 448.1,202.5 448.3,202.5 448.6,202.4 448.9,202.4 449.1,202.3 449.4,202.2 449.7,202.0 449.9,201.8 450.2,201.6 450.4,201.4 450.7,201.2 451.0,200.9 451.2,200.8 451.5,200.6 451.8,200.6 452.0,200.7 452.3,200.9 452.6,201.2 452.8,201.6 453.1,202.1 453.4,202.8 453.6,203.5 453.9,204.3 454.2,205.0 454.4,205.7 454.7,206.3 454.9,206.7 455.2,206.8 455.5,206.6 455.7,206.1 456.0,205.2 456.3,204.1 456.5,202.6 456.8,200.8 457.1,198.9 457.3,196.9 457.6,195.0 457.9,193.3 458.1,191.9 458.4,191.0 458.7,190.7 458.9,191.1 459.2,192.2 459.4,194.1 459.7,196.7 460.0,199.9 460.2,203.5 460.5,207.5 460.8,211.4 461.0,215.2 461.3,218.6 461.6,221.2 461.8,222.9 462.1,223.5 462.4,222.8 462.6,220.9 462.9,217.7 463.2,213.3 463.4,208.0 463.7,201.9 463.9,195.6 464.2,189.2 464.5,183.3 464.7,178.2 465.0,174.2 465.3,171.7 465.5,170.8 465.8,171.7 466.1,174.4 466.3,178.8 466.6,184.7 466.9,191.7 467.1,199.5 467.4,207.6 467.7,215.5 467.9,222.8 468.2,229.0 468.4,233.7 468.7,236.6 469.0,237.6 469.2,236.6 469.5,233.7 469.8,228.9 470.0,222.8 470.3,215.5 470.6,207.6 470.8,199.5 471.1,191.7 471.4,184.6 471.6,178.7 471.9,174.2 472.2,171.4 472.4,170.4 472.7,171.1 472.9,173.5 473.2,177.5 473.5,182.6 473.7,188.7 474.0,195.2 474.3,201.9 474.5,208.4 474.8,214.3 475.1,219.3 475.3,223.1 475.6,225.6 475.9,226.8 476.1,226.5 476.4,224.9 476.7,222.2 476.9,218.4 477.2,214.0 477.4,209.0 477.7,204.0 478.0,199.0 478.2,194.5 478.5,190.6 478.8,187.5 479.0,185.4 479.3,184.2 479.6,184.1 479.8,185.0 480.1,186.8 480.4,189.3 480.6,192.4 480.9,195.9 481.2,199.5 481.4,203.1 481.7,206.4 482.0,209.3 482.2,211.7 482.5,213.5 482.7,214.5 483.0,214.8 483.3,214.4 483.5,213.3 483.8,211.7 484.1,209.7 484.3,207.3 484.6,204.8 484.9,202.3 485.1,199.9 485.4,197.8 485.7,196.0 485.9,194.6 486.2,193.8 486.5,193.4 486.7,193.5 487.0,194.1 487.2,195.1 487.5,196.4 487.8,198.0 488.0,199.7 488.3,201.4 488.6,203.0 488.8,204.6 489.1,205.9 489.4,206.9 489.6,207.6 489.9,207.9 490.2,208.0 490.4,207.7 490.7,207.1 491.0,206.3 491.2,205.3 491.5,204.2 491.7,203.0 492.0,201.8 492.3,200.8 492.5,199.9 492.8,199.1 493.1,198.6 493.3,198.2 493.6,198.1 493.9,198.3 494.1,198.6 494.4,199.1 494.7,199.7 494.9,200.5 495.2,201.2 495.5,202.0 495.7,202.7 496.0,203.4 496.2,203.9 496.5,204.3 496.8,204.6 497.0,204.7 497.3,204.7 497.6,204.5 497.8,204.2 498.1,203.8 498.4,203.4 498.6,202.9 498.9,202.3 499.2,201.8 499.4,201.4 499.7,201.0 500.0,200.7 500.2,200.5 500.5,200.4 500.7,200.4 501.0,200.5 501.3,200.6 501.5,200.9 501.8,201.2 502.1,201.5 502.3,201.8 502.6,202.2 502.9,202.5 503.1,202.7 503.4,203.0 503.7,203.1 503.9,203.2 504.2,203.2 504.5,203.2 504.7,203.1 505.0,203.0 505.2,202.8 505.5,202.6 505.8,202.4 506.0,202.1 506.3,201.9 506.6,201.7 506.8,201.6 507.1,201.5 507.4,201.4 507.6,201.4 507.9,201.4 508.2,201.4 508.4,201.5 508.7,201.6 509.0,201.7 509.2,201.9 509.5,202.0 509.7,202.2 510.0,202.3 510.3,202.4 510.5,202.5 510.8,202.6 511.1,202.6 511.3,202.6 511.6,202.6 511.9,202.5 512.1,202.5 512.4,202.4 512.7,202.3 512.9,202.2 513.2,202.1 513.5,202.0 513.7,201.9 514.0,201.9 514.3,201.8 514.5,201.8 514.8,201.8 515.0,201.8 515.3,201.8 515.6,201.9 515.8,201.9 516.1,202.0 516.4,202.0 516.6,202.1 516.9,202.1 517.2,202.2 517.4,202.2 517.7,202.3 518.0,202.3 518.2,202.3 518.5,202.3 518.8,202.3 519.0,202.3 519.3,202.2 519.5,202.2 519.8,202.2 520.1,202.1 520.3,202.1 520.6,202.0 520.9,202.0 521.1,202.0 521.4,202.0 521.7,202.0 521.9,202.0 522.2,202.0 522.5,202.0 522.7,202.0 523.0,202.0 523.3,202.0 523.5,202.1 523.8,202.1 524.0,202.1 524.3,202.1 524.6,202.2 524.8,202.2 525.1,202.2 525.4,202.2 525.6,202.2 525.9,202.2 526.2,202.2 526.4,202.2 526.7,202.1 527.0,202.1 527.2,202.1 527.5,202.1 527.8,202.1 528.0,202.1" fill="none" stroke="#2b36c2" stroke-width="0.8" stroke-linejoin="round" />
<path d="M424.5,202.1 424.8,202.1 425.0,202.1 425.3,202.1 425.6,202.1 425.8,202.1 426.1,202.1 426.4,202.1 426.6,202.1 426.9,202.1 427.1,202.1 427.4,202.1 427.7,202.1 427.9,202.1 428.2,202.1 428.5,202.1 428.7,202.1 429.0,202.1 429.3,202.1 429.5,202.1 429.8,202.1 430.1,202.1 430.3,202.1 430.6,202.1 430.9,202.1 431.1,202.1 431.4,202.1 431.6,202.1 431.9,202.1 432.2,202.1 432.4,202.1 432.7,202.1 433.0,202.1 433.2,202.1 433.5,202.1 433.8,202.1 434.0,202.1 434.3,202.1 434.6,202.1 434.8,202.1 435.1,202.1 435.4,202.1 435.6,202.1 435.9,202.1 436.1,202.1 436.4,202.1 436.7,202.1 436.9,202.1 437.2,202.1 437.5,202.1 437.7,202.1 438.0,202.1 438.3,202.1 438.5,202.1 438.8,202.1 439.1,202.1 439.3,202.1 439.6,202.1 439.9,202.1 440.1,202.1 440.4,202.1 440.6,202.1 440.9,202.1 441.2,202.1 441.4,202.1 441.7,202.1 442.0,202.1 442.2,202.1 442.5,202.1 442.8,202.1 443.0,202.1 443.3,202.1 443.6,202.1 443.8,202.1 444.1,202.1 444.4,202.1 444.6,202.1 444.9,202.1 445.2,202.1 445.4,202.1 445.7,202.1 445.9,202.1 446.2,202.1 446.5,202.2 446.7,202.2 447.0,202.2 447.3,202.3 447.5,202.3 447.8,202.3 448.1,202.4 448.3,202.4 448.6,202.3 448.9,202.3 449.1,202.2 449.4,202.1 449.7,202.0 449.9,201.9 450.2,201.7 450.4,201.6 450.7,201.4 451.0,201.3 451.2,201.2 451.5,201.1 451.8,201.1 452.0,201.2 452.3,201.3 452.6,201.5 452.8,201.8 453.1,202.2 453.4,202.6 453.6,203.1 453.9,203.6 454.2,204.0 454.4,204.4 454.7,204.7 454.9,204.9 455.2,204.9 455.5,204.8 455.7,204.4 456.0,203.9 456.3,203.1 456.5,202.2 456.8,201.2 457.1,200.1 457.3,199.0 457.6,198.0 457.9,197.2 458.1,196.5 458.4,196.1 458.7,196.1 458.9,196.4 459.2,197.1 459.4,198.2 459.7,199.6 460.0,201.3 460.2,203.1 460.5,205.0 460.8,206.8 461.0,208.5 461.3,209.9 461.6,210.9 461.8,211.5 462.1,211.5 462.4,211.0 462.6,209.9 462.9,208.4 463.2,206.4 463.4,204.1 463.7,201.7 463.9,199.2 464.2,196.8 464.5,194.7 464.7,193.0 465.0,191.8 465.3,191.2 465.5,191.2 465.8,191.8 466.1,193.0 466.3,194.7 466.6,196.8 466.9,199.2 467.1,201.7 467.4,204.1 467.7,206.4 467.9,208.4 468.2,209.9 468.4,211.0 468.7,211.5 469.0,211.5 469.2,210.9 469.5,209.9 469.8,208.5 470.0,206.8 470.3,205.0 470.6,203.1 470.8,201.3 471.1,199.6 471.4,198.2 471.6,197.1 471.9,196.4 472.2,196.1 472.4,196.1 472.7,196.5 472.9,197.2 473.2,198.0 473.5,199.0 473.7,200.1 474.0,201.2 474.3,202.2 474.5,203.1 474.8,203.9 475.1,204.4 475.3,204.8 475.6,204.9 475.9,204.9 476.1,204.7 476.4,204.4 476.7,204.0 476.9,203.6 477.2,203.1 477.4,202.6 477.7,202.2 478.0,201.8 478.2,201.5 478.5,201.3 478.8,201.2 479.0,201.1 479.3,201.1 479.6,201.2 479.8,201.3 480.1,201.4 480.4,201.6 480.6,201.7 480.9,201.9 481.2,202.0 481.4,202.1 481.7,202.2 482.0,202.3 482.2,202.3 482.5,202.4 482.7,202.4 483.0,202.3 483.3,202.3 483.5,202.3 483.8,202.2 484.1,202.2 484.3,202.2 484.6,202.1 484.9,202.1 485.1,202.1 485.4,202.1 485.7,202.1 485.9,202.1 486.2,202.1 486.5,202.1 486.7,202.1 487.0,202.1 487.2,202.1 487.5,202.1 487.8,202.1 488.0,202.1 488.3,202.1 488.6,202.1 488.8,202.1 489.1,202.1 489.4,202.1 489.6,202.1 489.9,202.1 490.2,202.1 490.4,202.1 490.7,202.1 491.0,202.1 491.2,202.1 491.5,202.1 491.7,202.1 492.0,202.1 492.3,202.1 492.5,202.1 492.8,202.1 493.1,202.1 493.3,202.1 493.6,202.1 493.9,202.1 494.1,202.1 494.4,202.1 494.7,202.1 494.9,202.1 495.2,202.1 495.5,202.1 495.7,202.1 496.0,202.1 496.2,202.1 496.5,202.1 496.8,202.1 497.0,202.1 497.3,202.1 497.6,202.1 497.8,202.1 498.1,202.1 498.4,202.1 498.6,202.1 498.9,202.1 499.2,202.1 499.4,202.1 499.7,202.1 500.0,202.1 500.2,202.1 500.5,202.1 500.7,202.1 501.0,202.1 501.3,202.1 501.5,202.1 501.8,202.1 502.1,202.1 502.3,202.1 502.6,202.1 502.9,202.1 503.1,202.1 503.4,202.1 503.7,202.1 503.9,202.1 504.2,202.1 504.5,202.1 504.7,202.1 505.0,202.1 505.2,202.1 505.5,202.1 505.8,202.1 506.0,202.1 506.3,202.1 506.6,202.1 506.8,202.1 507.1,202.1 507.4,202.1 507.6,202.1 507.9,202.1 508.2,202.1 508.4,202.1 508.7,202.1 509.0,202.1 509.2,202.1 509.5,202.1 509.7,202.1 510.0,202.1 510.3,202.1 510.5,202.1 510.8,202.1 511.1,202.1 511.3,202.1 511.6,202.1 511.9,202.1 512.1,202.1 512.4,202.1 512.7,202.1 512.9,202.1 513.2,202.1 513.5,202.1 513.7,202.1 514.0,202.1 514.3,202.1 514.5,202.1 514.8,202.1 515.0,202.1 515.3,202.1 515.6,202.1 515.8,202.1 516.1,202.1 516.4,202.1 516.6,202.1 516.9,202.1 517.2,202.1 517.4,202.1 517.7,202.1 518.0,202.1 518.2,202.1 518.5,202.1 518.8,202.1 519.0,202.1 519.3,202.1 519.5,202.1 519.8,202.1 520.1,202.1 520.3,202.1 520.6,202.1 520.9,202.1 521.1,202.1 521.4,202.1 521.7,202.1 521.9,202.1 522.2,202.1 522.5,202.1 522.7,202.1 523.0,202.1 523.3,202.1 523.5,202.1 523.8,202.1 524.0,202.1 524.3,202.1 524.6,202.1 524.8,202.1 525.1,202.1 525.4,202.1 525.6,202.1 525.9,202.1 526.2,202.1 526.4,202.1 526.7,202.1 527.0,202.1 527.2,202.1 527.5,202.1 527.8,202.1 528.0,202.1" fill="none" stroke="#333333" stroke-width="0.85" stroke-linejoin="round" />
<path d="M448.6,201.6 448.9,201.6 449.1,201.5 449.4,201.4 449.7,201.4 449.9,201.3 450.2,201.2 450.4,201.1 450.7,201.0 451.0,200.9 451.2,200.8 451.5,200.6 451.8,200.5 452.0,200.3 452.3,200.1 452.6,200.0 452.8,199.8 453.1,199.5 453.4,199.3 453.6,199.1 453.9,198.8 454.2,198.5 454.4,198.2 454.7,197.9 454.9,197.5 455.2,197.2 455.5,196.8 455.7,196.4 456.0,195.9 456.3,195.5 456.5,195.0 456.8,194.5 457.1,194.0 457.3,193.5 457.6,192.9 457.9,192.3 458.1,191.7 458.4,191.0 458.7,190.4 458.9,189.7 459.2,189.0 459.4,188.3 459.7,187.6 460.0,186.8 460.2,186.1 460.5,185.3 460.8,184.5 461.0,183.7 461.3,182.9 461.6,182.0 461.8,181.2 462.1,180.4 462.4,179.6 462.6,178.8 462.9,177.9 463.2,177.1 463.4,176.3 463.7,175.6 463.9,174.8 464.2,174.0 464.5,173.3 464.7,172.6 465.0,171.9 465.3,171.3 465.5,170.7 465.8,170.1 466.1,169.6 466.3,169.1 466.6,168.6 466.9,168.2 467.1,167.8 467.4,167.5 467.7,167.2 467.9,167.0 468.2,166.8 468.4,166.7 468.7,166.6 469.0,166.6 469.2,166.6 469.5,166.7 469.8,166.8 470.0,167.0 470.3,167.2 470.6,167.5 470.8,167.8 471.1,168.2 471.4,168.5 471.6,168.9 471.9,169.4 472.2,169.8 472.4,170.3 472.7,170.8 472.9,171.2 473.2,171.8 473.5,172.3 473.7,172.8 474.0,173.3 474.3,173.9 474.5,174.4 474.8,174.9 475.1,175.5 475.3,176.0 475.6,176.6 475.9,177.1 476.1,177.6 476.4,178.2 476.7,178.7 476.9,179.2 477.2,179.7 477.4,180.3 477.7,180.8 478.0,181.3 478.2,181.8 478.5,182.3 478.8,182.7 479.0,183.2 479.3,183.7 479.6,184.1 479.8,184.6 480.1,185.0 480.4,185.5 480.6,185.9 480.9,186.3 481.2,186.7 481.4,187.1 481.7,187.5 482.0,187.9 482.2,188.3 482.5,188.6 482.7,189.0 483.0,189.4 483.3,189.7 483.5,190.0 483.8,190.4 484.1,190.7 484.3,191.0 484.6,191.3 484.9,191.6 485.1,191.9 485.4,192.2 485.7,192.5 485.9,192.7 486.2,193.0 486.5,193.3 486.7,193.5 487.0,193.8 487.2,194.0 487.5,194.2 487.8,194.4 488.0,194.7 488.3,194.9 488.6,195.1 488.8,195.3 489.1,195.5 489.4,195.7 489.6,195.9 489.9,196.1 490.2,196.2 490.4,196.4 490.7,196.6 491.0,196.7 491.2,196.9 491.5,197.0 491.7,197.2 492.0,197.3 492.3,197.5 492.5,197.6 492.8,197.7 493.1,197.9 493.3,198.0 493.6,198.1 493.9,198.2 494.1,198.4 494.4,198.5 494.7,198.6 494.9,198.7 495.2,198.8 495.5,198.9 495.7,199.0 496.0,199.1 496.2,199.2 496.5,199.3 496.8,199.3 497.0,199.4 497.3,199.5 497.6,199.6 497.8,199.7 498.1,199.7 498.4,199.8 498.6,199.9 498.9,199.9 499.2,200.0 499.4,200.1 499.7,200.1 500.0,200.2 500.2,200.3 500.5,200.3 500.7,200.4 501.0,200.4 501.3,200.5 501.5,200.5 501.8,200.6 502.1,200.6 502.3,200.7 502.6,200.7 502.9,200.8 503.1,200.8 503.4,200.8 503.7,200.9 503.9,200.9 504.2,200.9 504.5,201.0 504.7,201.0 505.0,201.1 505.2,201.1 505.5,201.1 505.8,201.1 506.0,201.2 506.3,201.2 506.6,201.2 506.8,201.3 507.1,201.3 507.4,201.3 507.6,201.3 507.9,201.4 508.2,201.4 508.4,201.4 508.7,201.4 509.0,201.4 509.2,201.5 509.5,201.5 509.7,201.5 510.0,201.5 510.3,201.5 510.5,201.6 510.8,201.6 511.1,201.6 511.3,201.6 511.6,201.6 511.9,201.6 512.1,201.7 512.4,201.7 512.7,201.7 512.9,201.7 513.2,201.7 513.5,201.7 513.7,201.7 514.0,201.7 514.3,201.8 514.5,201.8 514.8,201.8 515.0,201.8 515.3,201.8 515.6,201.8 515.8,201.8 516.1,201.8 516.4,201.8 516.6,201.8 516.9,201.9 517.2,201.9 517.4,201.9 517.7,201.9 518.0,201.9 518.2,201.9 518.5,201.9 518.8,201.9 519.0,201.9 519.3,201.9 519.5,201.9 519.8,201.9 520.1,201.9 520.3,201.9 520.6,201.9 520.9,201.9 521.1,202.0 521.4,202.0 521.7,202.0 521.9,202.0 522.2,202.0 522.5,202.0 522.7,202.0 523.0,202.0 523.3,202.0 523.5,202.0 523.8,202.0 524.0,202.0 524.3,202.0 524.6,202.0 524.8,202.0 525.1,202.0 525.4,202.0 525.6,202.0 525.9,202.0 526.2,202.0 526.4,202.0 526.7,202.0 527.0,202.0 527.2,202.0 527.5,202.0 527.8,202.0 528.0,202.0" fill="none" stroke="#35984a" stroke-width="1.1" stroke-linejoin="round" />
<path d="M424.50,244.70 H530.40 V159.50 H424.50" fill="none" stroke="#9c9c9c" stroke-width="1"/>
<line x1="424.50" y1="159.00" x2="424.50" y2="245.70" stroke="#9cbcbc" stroke-width="1.0" />
<line x1="421.90" y1="238.61" x2="424.50" y2="238.61" stroke="#7a8a8a" stroke-width="1" />
<line x1="422.90" y1="229.49" x2="424.50" y2="229.49" stroke="#7a8a8a" stroke-width="1" />
<line x1="421.90" y1="220.36" x2="424.50" y2="220.36" stroke="#7a8a8a" stroke-width="1" />
<line x1="422.90" y1="211.23" x2="424.50" y2="211.23" stroke="#7a8a8a" stroke-width="1" />
<line x1="421.90" y1="202.10" x2="424.50" y2="202.10" stroke="#7a8a8a" stroke-width="1" />
<line x1="422.90" y1="192.97" x2="424.50" y2="192.97" stroke="#7a8a8a" stroke-width="1" />
<line x1="421.90" y1="183.84" x2="424.50" y2="183.84" stroke="#7a8a8a" stroke-width="1" />
<line x1="422.90" y1="174.71" x2="424.50" y2="174.71" stroke="#7a8a8a" stroke-width="1" />
<line x1="421.90" y1="165.59" x2="424.50" y2="165.59" stroke="#7a8a8a" stroke-width="1" />
<text x="424.50" y="256.20" font-size="10.5" text-anchor="middle" fill="#0a0a0a" >0</text>
<line x1="450.98" y1="244.70" x2="450.98" y2="246.20" stroke="#8c8c8c" stroke-width="1" />
<line x1="477.45" y1="244.70" x2="477.45" y2="246.20" stroke="#8c8c8c" stroke-width="1" />
<text x="477.45" y="256.20" font-size="10.5" text-anchor="middle" fill="#0a0a0a" >20</text>
<line x1="503.92" y1="244.70" x2="503.92" y2="246.20" stroke="#8c8c8c" stroke-width="1" />
<text x="530.40" y="256.20" font-size="10.5" text-anchor="middle" fill="#0a0a0a" >40</text>
<text x="0.00" y="0.00" font-size="10.5" text-anchor="start" fill="#1a1a1a" ></text>
<text x="477.45" y="263.30" font-size="10.5" text-anchor="middle" fill="#0a0a0a" >time (fs)</text>
<text x="553.70" y="155.70" font-size="14" text-anchor="start" font-weight="bold" fill="#0a0a0a" >(c3)</text>
<path d="M555.6,202.1 555.9,202.1 556.1,202.1 556.4,202.1 556.7,202.1 556.9,202.1 557.2,202.1 557.5,202.1 557.7,202.1 558.0,202.1 558.3,202.1 558.5,202.1 558.8,202.1 559.1,202.1 559.3,202.1 559.6,202.1 559.9,202.1 560.1,202.1 560.4,202.1 560.7,202.1 560.9,202.1 561.2,202.1 561.5,202.1 561.7,202.1 562.0,202.0 562.3,202.0 562.5,202.0 562.8,202.1 563.1,202.1 563.3,202.1 563.6,202.1 563.9,202.1 564.1,202.2 564.4,202.2 564.7,202.2 564.9,202.2 565.2,202.3 565.5,202.3 565.7,202.3 566.0,202.3 566.3,202.2 566.5,202.2 566.8,202.2 567.1,202.1 567.3,202.0 567.6,202.0 567.9,201.9 568.1,201.8 568.4,201.7 568.7,201.7 568.9,201.6 569.2,201.6 569.5,201.6 569.7,201.7 570.0,201.8 570.3,201.9 570.5,202.0 570.8,202.2 571.1,202.4 571.3,202.6 571.6,202.8 571.9,203.0 572.1,203.1 572.4,203.2 572.7,203.3 572.9,203.3 573.2,203.2 573.5,203.0 573.7,202.8 574.0,202.4 574.3,202.0 574.5,201.6 574.8,201.1 575.1,200.7 575.3,200.2 575.6,199.9 575.9,199.6 576.1,199.4 576.4,199.4 576.7,199.6 576.9,199.9 577.2,200.4 577.5,201.1 577.7,201.9 578.0,202.8 578.3,203.8 578.5,204.8 578.8,205.7 579.1,206.5 579.3,207.1 579.6,207.5 579.9,207.5 580.1,207.3 580.4,206.7 580.7,205.8 580.9,204.6 581.2,203.1 581.5,201.4 581.7,199.5 582.0,197.7 582.2,196.0 582.5,194.4 582.8,193.2 583.0,192.5 583.3,192.2 583.6,192.5 583.8,193.4 584.1,194.9 584.4,196.9 584.6,199.5 584.9,202.3 585.2,205.4 585.4,208.5 585.7,211.5 586.0,214.1 586.2,216.2 586.5,217.6 586.8,218.2 587.0,217.9 587.3,216.7 587.6,214.5 587.8,211.5 588.1,207.7 588.4,203.4 588.6,198.7 588.9,194.0 589.2,189.4 589.4,185.4 589.7,182.1 590.0,179.8 590.2,178.6 590.5,178.8 590.8,180.3 591.0,183.1 591.3,187.2 591.6,192.3 591.8,198.2 592.1,204.5 592.4,211.0 592.6,217.3 592.9,222.9 593.2,227.5 593.4,230.9 593.7,232.8 594.0,232.9 594.2,231.3 594.5,228.0 594.8,223.2 595.0,217.0 595.3,209.7 595.6,201.9 595.8,193.9 596.1,186.1 596.4,179.1 596.6,173.2 596.9,168.9 597.2,166.3 597.4,165.7 597.7,167.1 598.0,170.6 598.2,175.8 598.5,182.6 598.8,190.5 599.0,199.2 599.3,208.1 599.6,216.8 599.8,224.6 600.1,231.3 600.4,236.3 600.6,239.5 600.9,240.6 601.2,239.5 601.4,236.3 601.7,231.2 602.0,224.6 602.2,216.7 602.5,208.1 602.8,199.2 603.0,190.6 603.3,182.8 603.6,176.1 603.8,171.0 604.1,167.7 604.4,166.3 604.6,166.9 604.9,169.5 605.2,173.8 605.4,179.6 605.7,186.5 606.0,194.1 606.2,201.9 606.5,209.5 606.8,216.6 607.0,222.6 607.3,227.4 607.6,230.6 607.8,232.2 608.1,232.1 608.4,230.3 608.6,227.0 608.9,222.5 609.2,217.0 609.4,210.9 609.7,204.5 610.0,198.2 610.2,192.3 610.5,187.2 610.8,183.0 611.0,180.1 611.3,178.4 611.6,178.1 611.8,179.2 612.1,181.4 612.4,184.7 612.6,188.8 612.9,193.5 613.2,198.5 613.4,203.4 613.7,208.1 614.0,212.3 614.2,215.8 614.5,218.3 614.8,219.9 615.0,220.4 615.3,219.9 615.6,218.5 615.8,216.2 616.1,213.3 616.4,209.9 616.6,206.1 616.9,202.4 617.2,198.8 617.4,195.5 617.7,192.7 618.0,190.6 618.2,189.2 618.5,188.5 618.8,188.6 619.0,189.5 619.3,191.0 619.6,193.0 619.8,195.5 620.1,198.2 620.4,200.9 620.6,203.6 620.9,206.1 621.2,208.3 621.4,210.0 621.7,211.3 622.0,211.9 622.2,212.0 622.5,211.6 622.8,210.6 623.0,209.2 623.3,207.6 623.6,205.7 623.8,203.7 624.1,201.7 624.4,199.8 624.6,198.1 624.9,196.8 625.2,195.8 625.4,195.2 625.7,195.0 626.0,195.2 626.2,195.7 626.5,196.6 626.8,197.7 627.0,199.1 627.3,200.5 627.6,201.9 627.8,203.3 628.1,204.5 628.4,205.6 628.6,206.4 628.9,206.9 629.2,207.2 629.4,207.1 629.7,206.8 630.0,206.2 630.2,205.5 630.5,204.6 630.8,203.6 631.0,202.6 631.3,201.6 631.6,200.7 631.8,199.9 632.1,199.3 632.4,198.8 632.6,198.6 632.9,198.5 633.2,198.7 633.4,199.0 633.7,199.5 634.0,200.1 634.2,200.8 634.5,201.5 634.8,202.2 635.0,202.9 635.3,203.5 635.6,204.0 635.8,204.3 636.1,204.5 636.3,204.6 636.6,204.5 636.9,204.3 637.1,204.0 637.4,203.6 637.7,203.2 637.9,202.7 638.2,202.2 638.5,201.7 638.7,201.3 639.0,200.9 639.3,200.6 639.5,200.4 639.8,200.4 640.1,200.4 640.3,200.5 640.6,200.7 640.9,200.9 641.1,201.2 641.4,201.6 641.7,201.9 641.9,202.3 642.2,202.6 642.5,202.8 642.7,203.1 643.0,203.2 643.3,203.3 643.5,203.3 643.8,203.3 644.1,203.1 644.3,203.0 644.6,202.8 644.9,202.5 645.1,202.3 645.4,202.1 645.7,201.8 645.9,201.6 646.2,201.5 646.5,201.4 646.7,201.3 647.0,201.3 647.3,201.3 647.5,201.3 647.8,201.5 648.1,201.6 648.3,201.7 648.6,201.9 648.9,202.1 649.1,202.2 649.4,202.4 649.7,202.5 649.9,202.6 650.2,202.6 650.5,202.7 650.7,202.7 651.0,202.6 651.3,202.6 651.5,202.5 651.8,202.4 652.1,202.3 652.3,202.2 652.6,202.1 652.9,202.0 653.1,201.9 653.4,201.8 653.7,201.7 653.9,201.7 654.2,201.7 654.5,201.7 654.7,201.8 655.0,201.8 655.3,201.9 655.5,202.0 655.8,202.0 656.1,202.1 656.3,202.2 656.6,202.2 656.9,202.3 657.1,202.3 657.4,202.4 657.7,202.4 657.9,202.4 658.2,202.3 658.5,202.3 658.7,202.3 659.0,202.2 659.3,202.2 659.5,202.1 659.8,202.1 660.1,202.0 660.3,202.0 660.6,201.9 660.9,201.9 661.1,201.9 661.4,201.9 661.7,201.9 661.9,201.9 662.2,202.0" fill="none" stroke="#2b36c2" stroke-width="0.8" stroke-linejoin="round" />
<path d="M555.6,202.1 555.9,202.1 556.1,202.1 556.4,202.1 556.7,202.1 556.9,202.1 557.2,202.1 557.5,202.1 557.7,202.1 558.0,202.1 558.3,202.1 558.5,202.1 558.8,202.1 559.1,202.1 559.3,202.1 559.6,202.1 559.9,202.1 560.1,202.1 560.4,202.1 560.7,202.1 560.9,202.1 561.2,202.1 561.5,202.1 561.7,202.1 562.0,202.1 562.3,202.1 562.5,202.1 562.8,202.1 563.1,202.1 563.3,202.1 563.6,202.1 563.9,202.1 564.1,202.1 564.4,202.1 564.7,202.1 564.9,202.1 565.2,202.1 565.5,202.1 565.7,202.1 566.0,202.1 566.3,202.1 566.5,202.1 566.8,202.1 567.1,202.1 567.3,202.1 567.6,202.1 567.9,202.1 568.1,202.1 568.4,202.1 568.7,202.1 568.9,202.1 569.2,202.1 569.5,202.1 569.7,202.1 570.0,202.1 570.3,202.1 570.5,202.1 570.8,202.1 571.1,202.2 571.3,202.2 571.6,202.2 571.9,202.2 572.1,202.2 572.4,202.2 572.7,202.2 572.9,202.2 573.2,202.1 573.5,202.1 573.7,202.1 574.0,202.0 574.3,202.0 574.5,201.9 574.8,201.9 575.1,201.8 575.3,201.8 575.6,201.8 575.9,201.8 576.1,201.8 576.4,201.9 576.7,201.9 576.9,202.0 577.2,202.2 577.5,202.3 577.7,202.4 578.0,202.6 578.3,202.7 578.5,202.9 578.8,203.0 579.1,203.0 579.3,203.0 579.6,203.0 579.9,202.8 580.1,202.6 580.4,202.4 580.7,202.1 580.9,201.7 581.2,201.3 581.5,201.0 581.7,200.6 582.0,200.3 582.2,200.1 582.5,199.9 582.8,199.9 583.0,200.0 583.3,200.3 583.6,200.7 583.8,201.2 584.1,201.9 584.4,202.6 584.6,203.4 584.9,204.2 585.2,205.0 585.4,205.6 585.7,206.1 586.0,206.4 586.2,206.4 586.5,206.2 586.8,205.8 587.0,205.0 587.3,204.1 587.6,202.9 587.8,201.6 588.1,200.2 588.4,198.9 588.6,197.6 588.9,196.5 589.2,195.7 589.4,195.2 589.7,195.1 590.0,195.4 590.2,196.0 590.5,197.1 590.8,198.6 591.0,200.3 591.3,202.1 591.6,204.1 591.8,206.1 592.1,207.9 592.4,209.4 592.6,210.6 592.9,211.3 593.2,211.5 593.4,211.2 593.7,210.3 594.0,209.0 594.2,207.2 594.5,205.2 594.8,202.9 595.0,200.5 595.3,198.2 595.6,196.1 595.8,194.3 596.1,192.9 596.4,192.0 596.6,191.8 596.9,192.0 597.2,192.9 597.4,194.3 597.7,196.1 598.0,198.2 598.2,200.5 598.5,202.9 598.8,205.2 599.0,207.2 599.3,209.0 599.6,210.3 599.8,211.2 600.1,211.5 600.4,211.3 600.6,210.6 600.9,209.4 601.2,207.9 601.4,206.1 601.7,204.1 602.0,202.1 602.2,200.3 602.5,198.6 602.8,197.1 603.0,196.0 603.3,195.4 603.6,195.1 603.8,195.2 604.1,195.7 604.4,196.5 604.6,197.6 604.9,198.9 605.2,200.2 605.4,201.6 605.7,202.9 606.0,204.1 606.2,205.0 606.5,205.8 606.8,206.2 607.0,206.4 607.3,206.4 607.6,206.1 607.8,205.6 608.1,205.0 608.4,204.2 608.6,203.4 608.9,202.6 609.2,201.9 609.4,201.2 609.7,200.7 610.0,200.3 610.2,200.0 610.5,199.9 610.8,199.9 611.0,200.1 611.3,200.3 611.6,200.6 611.8,201.0 612.1,201.3 612.4,201.7 612.6,202.1 612.9,202.4 613.2,202.6 613.4,202.8 613.7,203.0 614.0,203.0 614.2,203.0 614.5,203.0 614.8,202.9 615.0,202.7 615.3,202.6 615.6,202.4 615.8,202.3 616.1,202.2 616.4,202.0 616.6,201.9 616.9,201.9 617.2,201.8 617.4,201.8 617.7,201.8 618.0,201.8 618.2,201.8 618.5,201.9 618.8,201.9 619.0,202.0 619.3,202.0 619.6,202.1 619.8,202.1 620.1,202.1 620.4,202.2 620.6,202.2 620.9,202.2 621.2,202.2 621.4,202.2 621.7,202.2 622.0,202.2 622.2,202.2 622.5,202.1 622.8,202.1 623.0,202.1 623.3,202.1 623.6,202.1 623.8,202.1 624.1,202.1 624.4,202.1 624.6,202.1 624.9,202.1 625.2,202.1 625.4,202.1 625.7,202.1 626.0,202.1 626.2,202.1 626.5,202.1 626.8,202.1 627.0,202.1 627.3,202.1 627.6,202.1 627.8,202.1 628.1,202.1 628.4,202.1 628.6,202.1 628.9,202.1 629.2,202.1 629.4,202.1 629.7,202.1 630.0,202.1 630.2,202.1 630.5,202.1 630.8,202.1 631.0,202.1 631.3,202.1 631.6,202.1 631.8,202.1 632.1,202.1 632.4,202.1 632.6,202.1 632.9,202.1 633.2,202.1 633.4,202.1 633.7,202.1 634.0,202.1 634.2,202.1 634.5,202.1 634.8,202.1 635.0,202.1 635.3,202.1 635.6,202.1 635.8,202.1 636.1,202.1 636.3,202.1 636.6,202.1 636.9,202.1 637.1,202.1 637.4,202.1 637.7,202.1 637.9,202.1 638.2,202.1 638.5,202.1 638.7,202.1 639.0,202.1 639.3,202.1 639.5,202.1 639.8,202.1 640.1,202.1 640.3,202.1 640.6,202.1 640.9,202.1 641.1,202.1 641.4,202.1 641.7,202.1 641.9,202.1 642.2,202.1 642.5,202.1 642.7,202.1 643.0,202.1 643.3,202.1 643.5,202.1 643.8,202.1 644.1,202.1 644.3,202.1 644.6,202.1 644.9,202.1 645.1,202.1 645.4,202.1 645.7,202.1 645.9,202.1 646.2,202.1 646.5,202.1 646.7,202.1 647.0,202.1 647.3,202.1 647.5,202.1 647.8,202.1 648.1,202.1 648.3,202.1 648.6,202.1 648.9,202.1 649.1,202.1 649.4,202.1 649.7,202.1 649.9,202.1 650.2,202.1 650.5,202.1 650.7,202.1 651.0,202.1 651.3,202.1 651.5,202.1 651.8,202.1 652.1,202.1 652.3,202.1 652.6,202.1 652.9,202.1 653.1,202.1 653.4,202.1 653.7,202.1 653.9,202.1 654.2,202.1 654.5,202.1 654.7,202.1 655.0,202.1 655.3,202.1 655.5,202.1 655.8,202.1 656.1,202.1 656.3,202.1 656.6,202.1 656.9,202.1 657.1,202.1 657.4,202.1 657.7,202.1 657.9,202.1 658.2,202.1 658.5,202.1 658.7,202.1 659.0,202.1 659.3,202.1 659.5,202.1 659.8,202.1 660.1,202.1 660.3,202.1 660.6,202.1 660.9,202.1 661.1,202.1 661.4,202.1 661.7,202.1 661.9,202.1 662.2,202.1" fill="none" stroke="#333333" stroke-width="0.85" stroke-linejoin="round" />
<path d="M569.2,201.6 569.5,201.6 569.7,201.5 570.0,201.5 570.3,201.4 570.5,201.4 570.8,201.3 571.1,201.3 571.3,201.2 571.6,201.2 571.9,201.1 572.1,201.0 572.4,201.0 572.7,200.9 572.9,200.8 573.2,200.7 573.5,200.6 573.7,200.5 574.0,200.4 574.3,200.3 574.5,200.2 574.8,200.1 575.1,200.0 575.3,199.8 575.6,199.7 575.9,199.6 576.1,199.4 576.4,199.3 576.7,199.1 576.9,198.9 577.2,198.7 577.5,198.6 577.7,198.4 578.0,198.2 578.3,197.9 578.5,197.7 578.8,197.5 579.1,197.3 579.3,197.0 579.6,196.7 579.9,196.5 580.1,196.2 580.4,195.9 580.7,195.6 580.9,195.3 581.2,195.0 581.5,194.6 581.7,194.3 582.0,194.0 582.2,193.6 582.5,193.2 582.8,192.8 583.0,192.4 583.3,192.0 583.6,191.6 583.8,191.2 584.1,190.8 584.4,190.3 584.6,189.9 584.9,189.4 585.2,188.9 585.4,188.5 585.7,188.0 586.0,187.5 586.2,187.0 586.5,186.4 586.8,185.9 587.0,185.4 587.3,184.8 587.6,184.3 587.8,183.7 588.1,183.2 588.4,182.6 588.6,182.1 588.9,181.5 589.2,180.9 589.4,180.3 589.7,179.8 590.0,179.2 590.2,178.6 590.5,178.0 590.8,177.4 591.0,176.9 591.3,176.3 591.6,175.7 591.8,175.2 592.1,174.6 592.4,174.0 592.6,173.5 592.9,172.9 593.2,172.4 593.4,171.9 593.7,171.4 594.0,170.9 594.2,170.4 594.5,169.9 594.8,169.4 595.0,169.0 595.3,168.5 595.6,168.1 595.8,167.7 596.1,167.3 596.4,166.9 596.6,166.6 596.9,166.2 597.2,165.9 597.4,165.6 597.7,165.3 598.0,165.0 598.2,164.8 598.5,164.6 598.8,164.4 599.0,164.2 599.3,164.1 599.6,163.9 599.8,163.8 600.1,163.7 600.4,163.7 600.6,163.7 600.9,163.6 601.2,163.7 601.4,163.7 601.7,163.8 602.0,163.9 602.2,164.1 602.5,164.3 602.8,164.5 603.0,164.7 603.3,164.9 603.6,165.2 603.8,165.5 604.1,165.8 604.4,166.2 604.6,166.5 604.9,166.9 605.2,167.3 605.4,167.7 605.7,168.1 606.0,168.5 606.2,168.9 606.5,169.3 606.8,169.8 607.0,170.2 607.3,170.7 607.6,171.1 607.8,171.6 608.1,172.1 608.4,172.5 608.6,173.0 608.9,173.5 609.2,174.0 609.4,174.4 609.7,174.9 610.0,175.4 610.2,175.8 610.5,176.3 610.8,176.8 611.0,177.2 611.3,177.7 611.6,178.1 611.8,178.6 612.1,179.0 612.4,179.5 612.6,179.9 612.9,180.4 613.2,180.8 613.4,181.2 613.7,181.7 614.0,182.1 614.2,182.5 614.5,182.9 614.8,183.3 615.0,183.7 615.3,184.1 615.6,184.5 615.8,184.8 616.1,185.2 616.4,185.6 616.6,185.9 616.9,186.3 617.2,186.6 617.4,187.0 617.7,187.3 618.0,187.7 618.2,188.0 618.5,188.3 618.8,188.6 619.0,188.9 619.3,189.2 619.6,189.5 619.8,189.8 620.1,190.1 620.4,190.4 620.6,190.7 620.9,190.9 621.2,191.2 621.4,191.4 621.7,191.7 622.0,191.9 622.2,192.2 622.5,192.4 622.8,192.7 623.0,192.9 623.3,193.1 623.6,193.3 623.8,193.5 624.1,193.8 624.4,194.0 624.6,194.2 624.9,194.4 625.2,194.5 625.4,194.7 625.7,194.9 626.0,195.1 626.2,195.3 626.5,195.4 626.8,195.6 627.0,195.8 627.3,195.9 627.6,196.1 627.8,196.2 628.1,196.4 628.4,196.5 628.6,196.7 628.9,196.8 629.2,196.9 629.4,197.1 629.7,197.2 630.0,197.3 630.2,197.5 630.5,197.6 630.8,197.7 631.0,197.8 631.3,197.9 631.6,198.0 631.8,198.1 632.1,198.2 632.4,198.3 632.6,198.4 632.9,198.5 633.2,198.6 633.4,198.7 633.7,198.8 634.0,198.9 634.2,199.0 634.5,199.1 634.8,199.1 635.0,199.2 635.3,199.3 635.6,199.4 635.8,199.4 636.1,199.5 636.3,199.6 636.6,199.6 636.9,199.7 637.1,199.8 637.4,199.8 637.7,199.9 637.9,200.0 638.2,200.0 638.5,200.1 638.7,200.1 639.0,200.2 639.3,200.2 639.5,200.3 639.8,200.3 640.1,200.4 640.3,200.4 640.6,200.5 640.9,200.5 641.1,200.6 641.4,200.6 641.7,200.6 641.9,200.7 642.2,200.7 642.5,200.8 642.7,200.8 643.0,200.8 643.3,200.9 643.5,200.9 643.8,200.9 644.1,201.0 644.3,201.0 644.6,201.0 644.9,201.0 645.1,201.1 645.4,201.1 645.7,201.1 645.9,201.2 646.2,201.2 646.5,201.2 646.7,201.2 647.0,201.3 647.3,201.3 647.5,201.3 647.8,201.3 648.1,201.3 648.3,201.4 648.6,201.4 648.9,201.4 649.1,201.4 649.4,201.4 649.7,201.5 649.9,201.5 650.2,201.5 650.5,201.5 650.7,201.5 651.0,201.5 651.3,201.6 651.5,201.6 651.8,201.6 652.1,201.6 652.3,201.6 652.6,201.6 652.9,201.6 653.1,201.7 653.4,201.7 653.7,201.7 653.9,201.7 654.2,201.7 654.5,201.7 654.7,201.7 655.0,201.7 655.3,201.7 655.5,201.8 655.8,201.8 656.1,201.8 656.3,201.8 656.6,201.8 656.9,201.8 657.1,201.8 657.4,201.8 657.7,201.8 657.9,201.8 658.2,201.8 658.5,201.8 658.7,201.9 659.0,201.9 659.3,201.9 659.5,201.9 659.8,201.9 660.1,201.9 660.3,201.9 660.6,201.9 660.9,201.9 661.1,201.9 661.4,201.9 661.7,201.9 661.9,201.9 662.2,201.9" fill="none" stroke="#35984a" stroke-width="1.1" stroke-linejoin="round" />
<path d="M555.60,244.70 H662.20 V159.50 H555.60" fill="none" stroke="#9c9c9c" stroke-width="1"/>
<line x1="555.60" y1="159.00" x2="555.60" y2="245.70" stroke="#9cbcbc" stroke-width="1.0" />
<line x1="553.00" y1="238.61" x2="555.60" y2="238.61" stroke="#7a8a8a" stroke-width="1" />
<line x1="554.00" y1="229.49" x2="555.60" y2="229.49" stroke="#7a8a8a" stroke-width="1" />
<line x1="553.00" y1="220.36" x2="555.60" y2="220.36" stroke="#7a8a8a" stroke-width="1" />
<line x1="554.00" y1="211.23" x2="555.60" y2="211.23" stroke="#7a8a8a" stroke-width="1" />
<line x1="553.00" y1="202.10" x2="555.60" y2="202.10" stroke="#7a8a8a" stroke-width="1" />
<line x1="554.00" y1="192.97" x2="555.60" y2="192.97" stroke="#7a8a8a" stroke-width="1" />
<line x1="553.00" y1="183.84" x2="555.60" y2="183.84" stroke="#7a8a8a" stroke-width="1" />
<line x1="554.00" y1="174.71" x2="555.60" y2="174.71" stroke="#7a8a8a" stroke-width="1" />
<line x1="553.00" y1="165.59" x2="555.60" y2="165.59" stroke="#7a8a8a" stroke-width="1" />
<text x="555.60" y="256.20" font-size="10.5" text-anchor="middle" fill="#0a0a0a" >0</text>
<line x1="582.25" y1="244.70" x2="582.25" y2="246.20" stroke="#8c8c8c" stroke-width="1" />
<line x1="608.90" y1="244.70" x2="608.90" y2="246.20" stroke="#8c8c8c" stroke-width="1" />
<text x="608.90" y="256.20" font-size="10.5" text-anchor="middle" fill="#0a0a0a" >20</text>
<line x1="635.55" y1="244.70" x2="635.55" y2="246.20" stroke="#8c8c8c" stroke-width="1" />
<text x="662.20" y="256.20" font-size="10.5" text-anchor="middle" fill="#0a0a0a" >40</text>
<text x="0.00" y="0.00" font-size="10.5" text-anchor="start" fill="#1a1a1a" ></text>
<text x="608.90" y="263.30" font-size="10.5" text-anchor="middle" fill="#0a0a0a" >time (fs)</text>
</svg></body></html>
